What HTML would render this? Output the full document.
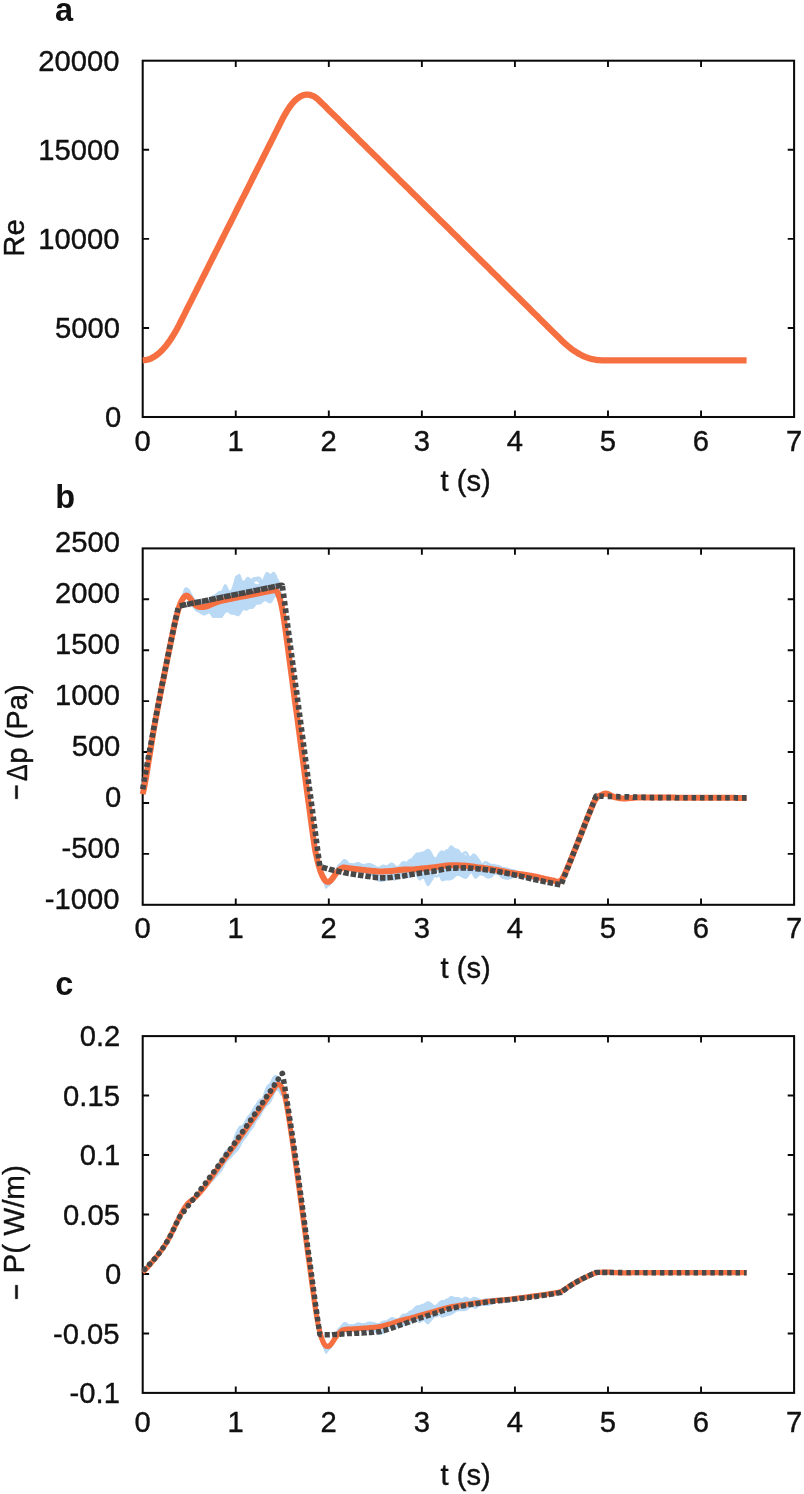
<!DOCTYPE html>
<html><head><meta charset="utf-8"><title>Figure</title>
<style>html,body{margin:0;padding:0;background:#fff}svg{display:block;will-change:transform}text{font-family:"Liberation Sans",sans-serif}</style></head>
<body>
<svg width="804" height="1494" viewBox="0 0 804 1494">
<rect width="804" height="1494" fill="#fff"/>
<g font-family="'Liberation Sans', sans-serif" font-size="29.2" fill="#111" stroke="#111" stroke-width="0.38" stroke-linejoin="round">
<path d="M235.76 417.00v-6.4M235.76 60.70v6.4M328.81 417.00v-6.4M328.81 60.70v6.4M421.87 417.00v-6.4M421.87 60.70v6.4M514.93 417.00v-6.4M514.93 60.70v6.4M607.99 417.00v-6.4M607.99 60.70v6.4M701.04 417.00v-6.4M701.04 60.70v6.4M142.70 327.93h6.4M794.10 327.93h-6.4M142.70 238.85h6.4M794.10 238.85h-6.4M142.70 149.77h6.4M794.10 149.77h-6.4" stroke="#0a0a0a" stroke-width="1.9" fill="none"/>
<rect x="142.70" y="60.70" width="651.40" height="356.30" fill="none" stroke="#0a0a0a" stroke-width="2.05" stroke-linejoin="miter"/>
<text transform="translate(121.20 427.10) scale(1 1.022)" text-anchor="end">0</text>
<text transform="translate(119.94 338.03) scale(1 1.022)" text-anchor="end">5000</text>
<text transform="translate(119.52 248.95) scale(1 1.022)" text-anchor="end">10000</text>
<text transform="translate(119.52 159.87) scale(1 1.022)" text-anchor="end">15000</text>
<text transform="translate(119.52 70.80) scale(1 1.022)" text-anchor="end">20000</text>
<text transform="translate(142.60 450.60) scale(1 1.022)" text-anchor="middle">0</text>
<text transform="translate(235.66 450.60) scale(1 1.022)" text-anchor="middle">1</text>
<text transform="translate(328.71 450.60) scale(1 1.022)" text-anchor="middle">2</text>
<text transform="translate(421.77 450.60) scale(1 1.022)" text-anchor="middle">3</text>
<text transform="translate(514.83 450.60) scale(1 1.022)" text-anchor="middle">4</text>
<text transform="translate(607.89 450.60) scale(1 1.022)" text-anchor="middle">5</text>
<text transform="translate(700.94 450.60) scale(1 1.022)" text-anchor="middle">6</text>
<text transform="translate(794.00 450.60) scale(1 1.022)" text-anchor="middle">7</text>
<text transform="translate(465.60 490.50) scale(1 1.0)" text-anchor="middle">t (s)</text>
<text transform="translate(24.20 238.00) rotate(-90) scale(1 1.02)" text-anchor="middle">Re</text>
<path d="M142.7 360.3 L144.5 360.2 L146.3 359.9 L148.1 359.5 L150.0 358.9 L151.8 358.1 L153.6 357.1 L155.4 355.9 L157.2 354.6 L159.0 353.1 L160.8 351.5 L162.6 349.6 L164.5 347.6 L166.3 345.4 L168.1 343.0 L169.9 340.5 L171.7 337.7 L173.5 334.8 L175.3 331.8 L177.2 328.5 L179.0 325.1 L180.8 321.5 L182.6 317.9 L184.4 314.3 L186.2 310.7 L188.0 307.0 L189.9 303.4 L191.7 299.8 L193.5 296.2 L195.3 292.6 L197.1 289.0 L198.9 285.4 L200.7 281.8 L202.5 278.2 L204.4 274.5 L206.2 270.9 L208.0 267.3 L209.8 263.7 L211.6 260.1 L213.4 256.5 L215.2 252.9 L217.1 249.3 L218.9 245.7 L220.7 242.0 L222.5 238.4 L224.3 234.8 L226.1 231.2 L227.9 227.6 L229.8 224.0 L231.6 220.4 L233.4 216.8 L235.2 213.2 L237.0 209.5 L238.8 205.9 L240.6 202.3 L242.4 198.7 L244.3 195.1 L246.1 191.5 L247.9 187.9 L249.7 184.3 L251.5 180.7 L253.3 177.0 L255.1 173.4 L257.0 169.8 L258.8 166.2 L260.6 162.6 L262.4 159.0 L264.2 155.4 L266.0 151.8 L267.8 148.2 L269.7 144.5 L271.5 140.9 L273.3 137.3 L275.1 133.7 L276.9 130.1 L278.7 126.5 L280.5 122.9 L282.3 119.3 L284.2 115.8 L286.0 112.6 L287.8 109.7 L289.6 107.0 L291.4 104.6 L293.2 102.4 L295.0 100.5 L296.9 98.9 L298.7 97.5 L300.5 96.4 L302.3 95.6 L304.1 95.0 L305.9 94.7 L307.7 94.7 L309.6 94.9 L311.4 95.4 L313.2 96.1 L315.0 97.1 L316.8 98.4 L318.6 99.9 L320.4 101.7 L322.2 103.5 L324.1 105.3 L325.9 107.1 L327.7 108.9 L329.5 110.7 L331.3 112.5 L333.1 114.2 L334.9 116.0 L336.8 117.8 L338.6 119.6 L340.4 121.4 L342.2 123.2 L344.0 125.0 L345.8 126.8 L347.6 128.6 L349.5 130.4 L351.3 132.2 L353.1 134.0 L354.9 135.8 L356.7 137.6 L358.5 139.4 L360.3 141.2 L362.1 143.0 L364.0 144.8 L365.8 146.6 L367.6 148.4 L369.4 150.2 L371.2 151.9 L373.0 153.7 L374.8 155.5 L376.7 157.3 L378.5 159.1 L380.3 160.9 L382.1 162.7 L383.9 164.5 L385.7 166.3 L387.5 168.1 L389.4 169.9 L391.2 171.7 L393.0 173.5 L394.8 175.3 L396.6 177.1 L398.4 178.9 L400.2 180.7 L402.0 182.5 L403.9 184.3 L405.7 186.1 L407.5 187.8 L409.3 189.6 L411.1 191.4 L412.9 193.2 L414.7 195.0 L416.6 196.8 L418.4 198.6 L420.2 200.4 L422.0 202.2 L423.8 204.0 L425.6 205.8 L427.4 207.6 L429.3 209.4 L431.1 211.2 L432.9 213.0 L434.7 214.8 L436.5 216.6 L438.3 218.4 L440.1 220.2 L441.9 222.0 L443.8 223.7 L445.6 225.5 L447.4 227.3 L449.2 229.1 L451.0 230.9 L452.8 232.7 L454.6 234.5 L456.5 236.3 L458.3 238.1 L460.1 239.9 L461.9 241.7 L463.7 243.5 L465.5 245.3 L467.3 247.1 L469.2 248.9 L471.0 250.7 L472.8 252.5 L474.6 254.3 L476.4 256.1 L478.2 257.9 L480.0 259.6 L481.8 261.4 L483.7 263.2 L485.5 265.0 L487.3 266.8 L489.1 268.6 L490.9 270.4 L492.7 272.2 L494.5 274.0 L496.4 275.8 L498.2 277.6 L500.0 279.4 L501.8 281.2 L503.6 283.0 L505.4 284.8 L507.2 286.6 L509.1 288.4 L510.9 290.2 L512.7 292.0 L514.5 293.8 L516.3 295.5 L518.1 297.3 L519.9 299.1 L521.7 300.9 L523.6 302.7 L525.4 304.5 L527.2 306.3 L529.0 308.1 L530.8 309.9 L532.6 311.7 L534.4 313.5 L536.3 315.3 L538.1 317.1 L539.9 318.9 L541.7 320.7 L543.5 322.5 L545.3 324.3 L547.1 326.1 L549.0 327.9 L550.8 329.7 L552.6 331.5 L554.4 333.2 L556.2 335.0 L558.0 336.8 L559.8 338.6 L561.6 340.4 L563.5 342.2 L565.3 343.8 L567.1 345.4 L568.9 346.9 L570.7 348.4 L572.5 349.7 L574.3 351.0 L576.2 352.1 L578.0 353.2 L579.8 354.3 L581.6 355.2 L583.4 356.1 L585.2 356.9 L587.0 357.6 L588.9 358.2 L590.7 358.7 L592.5 359.2 L594.3 359.5 L596.1 359.8 L597.9 360.1 L599.7 360.2 L601.5 360.3 L603.4 360.3 L605.2 360.3 L607.0 360.3 L608.8 360.3 L610.6 360.3 L612.4 360.3 L614.2 360.3 L616.1 360.3 L617.9 360.3 L619.7 360.3 L621.5 360.3 L623.3 360.3 L625.1 360.3 L626.9 360.3 L628.8 360.3 L630.6 360.3 L632.4 360.3 L634.2 360.3 L636.0 360.3 L637.8 360.3 L639.6 360.3 L641.4 360.3 L643.3 360.3 L645.1 360.3 L646.9 360.3 L648.7 360.3 L650.5 360.3 L652.3 360.3 L654.1 360.3 L656.0 360.3 L657.8 360.3 L659.6 360.3 L661.4 360.3 L663.2 360.3 L665.0 360.3 L666.8 360.3 L668.7 360.3 L670.5 360.3 L672.3 360.3 L674.1 360.3 L675.9 360.3 L677.7 360.3 L679.5 360.3 L681.3 360.3 L683.2 360.3 L685.0 360.3 L686.8 360.3 L688.6 360.3 L690.4 360.3 L692.2 360.3 L694.0 360.3 L695.9 360.3 L697.7 360.3 L699.5 360.3 L701.3 360.3 L703.1 360.3 L704.9 360.3 L706.7 360.3 L708.6 360.3 L710.4 360.3 L712.2 360.3 L714.0 360.3 L715.8 360.3 L717.6 360.3 L719.4 360.3 L721.2 360.3 L723.1 360.3 L724.9 360.3 L726.7 360.3 L728.5 360.3 L730.3 360.3 L732.1 360.3 L733.9 360.3 L735.8 360.3 L737.6 360.3 L739.4 360.3 L741.2 360.3 L743.0 360.3 L744.8 360.3 L746.6 360.3" fill="none" stroke="#F56F41" stroke-width="6.3" stroke-linejoin="round" stroke-linecap="butt"/>
<path d="M235.76 904.80v-6.4M235.76 548.40v6.4M328.81 904.80v-6.4M328.81 548.40v6.4M421.87 904.80v-6.4M421.87 548.40v6.4M514.93 904.80v-6.4M514.93 548.40v6.4M607.99 904.80v-6.4M607.99 548.40v6.4M701.04 904.80v-6.4M701.04 548.40v6.4M142.70 853.89h6.4M794.10 853.89h-6.4M142.70 802.97h6.4M794.10 802.97h-6.4M142.70 752.06h6.4M794.10 752.06h-6.4M142.70 701.14h6.4M794.10 701.14h-6.4M142.70 650.23h6.4M794.10 650.23h-6.4M142.70 599.31h6.4M794.10 599.31h-6.4" stroke="#0a0a0a" stroke-width="1.9" fill="none"/>
<rect x="142.70" y="548.40" width="651.40" height="356.40" fill="none" stroke="#0a0a0a" stroke-width="2.05" stroke-linejoin="miter"/>
<text transform="translate(119.52 908.85) scale(1 1.022)" text-anchor="end">-1000</text>
<text transform="translate(119.94 857.94) scale(1 1.022)" text-anchor="end">-500</text>
<text transform="translate(121.20 807.02) scale(1 1.022)" text-anchor="end">0</text>
<text transform="translate(120.36 756.11) scale(1 1.022)" text-anchor="end">500</text>
<text transform="translate(119.94 705.19) scale(1 1.022)" text-anchor="end">1000</text>
<text transform="translate(119.94 654.28) scale(1 1.022)" text-anchor="end">1500</text>
<text transform="translate(119.94 603.36) scale(1 1.022)" text-anchor="end">2000</text>
<text transform="translate(119.94 552.45) scale(1 1.022)" text-anchor="end">2500</text>
<text transform="translate(142.60 938.40) scale(1 1.022)" text-anchor="middle">0</text>
<text transform="translate(235.66 938.40) scale(1 1.022)" text-anchor="middle">1</text>
<text transform="translate(328.71 938.40) scale(1 1.022)" text-anchor="middle">2</text>
<text transform="translate(421.77 938.40) scale(1 1.022)" text-anchor="middle">3</text>
<text transform="translate(514.83 938.40) scale(1 1.022)" text-anchor="middle">4</text>
<text transform="translate(607.89 938.40) scale(1 1.022)" text-anchor="middle">5</text>
<text transform="translate(700.94 938.40) scale(1 1.022)" text-anchor="middle">6</text>
<text transform="translate(794.00 938.40) scale(1 1.022)" text-anchor="middle">7</text>
<text transform="translate(465.60 977.50) scale(1 1.0)" text-anchor="middle">t (s)</text>
<rect x="15.3" y="785.6" width="2.4" height="13.2" fill="#111"/>
<text transform="translate(26.50 684.20) rotate(-90) scale(1 1.02)" text-anchor="end">p (Pa)</text>
<text transform="translate(26.50 781.10) rotate(-90) scale(0.856 1.02)" text-anchor="start">Δ</text>
<path d="M179.6 605.6 L180.2 603.7 L180.8 601.5 L181.4 599.4 L182.0 597.3 L182.6 595.3 L183.2 593.2 L183.8 591.2 L184.4 589.1 L185.0 588.3 L185.6 588.0 L186.2 587.9 L186.8 588.0 L187.4 588.2 L188.0 588.6 L188.6 589.2 L189.2 589.8 L189.9 591.0 L190.5 592.2 L191.1 593.5 L191.7 594.7 L192.3 595.8 L192.9 596.8 L193.5 597.7 L194.1 598.4 L194.7 598.9 L195.3 599.3 L195.9 599.5 L196.5 599.7 L197.1 599.8 L197.7 599.9 L198.3 600.1 L198.9 600.3 L199.5 600.5 L200.1 600.8 L200.7 601.1 L201.3 601.4 L201.9 601.6 L202.5 601.9 L203.2 602.1 L203.8 602.2 L204.4 602.2 L205.0 602.2 L205.6 602.0 L206.2 601.6 L206.8 601.2 L207.4 600.6 L208.0 599.9 L208.6 599.1 L209.2 598.4 L209.8 597.7 L210.4 597.2 L211.0 596.8 L211.6 596.4 L212.2 596.2 L212.8 595.9 L213.4 595.6 L214.0 595.2 L214.6 595.0 L215.2 594.6 L215.8 594.2 L216.5 593.8 L217.1 593.2 L217.7 592.7 L218.3 592.3 L218.9 592.0 L219.5 591.9 L220.1 591.9 L220.7 591.7 L221.3 591.3 L221.9 590.6 L222.5 589.5 L223.1 588.2 L223.7 586.8 L224.3 585.7 L224.9 584.9 L225.5 584.8 L226.1 585.2 L226.7 586.3 L227.3 587.6 L227.9 588.9 L228.5 590.0 L229.1 590.8 L229.8 591.1 L230.4 591.0 L231.0 590.5 L231.6 589.5 L232.2 588.3 L232.8 586.7 L233.4 584.8 L234.0 582.8 L234.6 580.6 L235.2 578.4 L235.8 576.5 L236.4 576.1 L237.0 575.8 L237.6 575.4 L238.2 575.1 L238.8 574.7 L239.4 574.4 L240.0 575.2 L240.6 576.8 L241.2 578.4 L241.8 579.9 L242.4 581.1 L243.1 581.8 L243.7 582.0 L244.3 581.7 L244.9 580.9 L245.5 579.9 L246.1 578.8 L246.7 578.0 L247.3 577.5 L247.9 577.4 L248.5 577.5 L249.1 577.9 L249.7 578.4 L250.3 578.9 L250.9 579.5 L251.5 580.1 L252.1 580.8 L252.7 581.5 L253.3 582.3 L253.9 583.1 L254.5 583.8 L255.1 584.3 L255.7 584.7 L256.4 584.9 L257.0 584.9 L257.6 584.8 L258.2 584.6 L258.8 584.4 L259.4 584.1 L260.0 583.8 L260.6 583.3 L261.2 582.8 L261.8 582.1 L262.4 581.1 L263.0 579.9 L263.6 578.5 L264.2 577.1 L264.8 575.6 L265.4 574.3 L266.0 573.3 L266.6 572.6 L267.2 572.5 L267.8 572.7 L268.4 573.1 L269.0 573.7 L269.7 574.2 L270.3 574.5 L270.9 574.4 L271.5 573.9 L272.1 573.3 L272.7 572.7 L273.3 572.4 L273.9 572.6 L274.5 573.6 L275.1 575.3 L275.7 577.8 L276.3 580.6 L276.9 583.6 L277.5 586.6 L278.1 588.6 L278.7 590.4 L279.3 592.4 L279.9 593.8 L280.5 594.6 L281.1 595.7 L281.7 600.9 L282.3 609.6 L282.3 609.6 L281.7 610.2 L281.1 610.2 L280.5 608.0 L279.9 605.7 L279.3 603.4 L278.7 601.2 L278.1 599.0 L277.5 597.2 L276.9 595.7 L276.3 594.9 L275.7 594.9 L275.1 595.4 L274.5 596.5 L273.9 597.7 L273.3 599.1 L272.7 600.3 L272.1 601.3 L271.5 602.0 L270.9 602.5 L270.3 602.8 L269.7 602.8 L269.0 602.7 L268.4 602.3 L267.8 601.9 L267.2 601.5 L266.6 601.1 L266.0 600.8 L265.4 600.7 L264.8 600.6 L264.2 600.8 L263.6 601.1 L263.0 601.5 L262.4 602.0 L261.8 602.6 L261.2 603.2 L260.6 603.6 L260.0 603.9 L259.4 603.9 L258.8 603.8 L258.2 603.6 L257.6 603.6 L257.0 603.7 L256.4 604.2 L255.7 604.9 L255.1 605.7 L254.5 606.6 L253.9 607.3 L253.3 607.9 L252.7 608.3 L252.1 608.4 L251.5 608.5 L250.9 608.4 L250.3 608.4 L249.7 608.5 L249.1 608.7 L248.5 609.1 L247.9 609.5 L247.3 609.8 L246.7 610.1 L246.1 610.1 L245.5 610.0 L244.9 609.8 L244.3 609.6 L243.7 609.6 L243.1 609.8 L242.4 610.3 L241.8 611.1 L241.2 612.1 L240.6 613.1 L240.0 614.1 L239.4 614.9 L238.8 615.4 L238.2 615.6 L237.6 615.6 L237.0 615.4 L236.4 615.2 L235.8 614.9 L235.2 614.6 L234.6 614.3 L234.0 614.2 L233.4 614.1 L232.8 614.1 L232.2 614.1 L231.6 614.1 L231.0 613.9 L230.4 613.7 L229.8 613.2 L229.1 612.7 L228.5 612.1 L227.9 611.7 L227.3 611.5 L226.7 611.6 L226.1 611.9 L225.5 612.3 L224.9 613.0 L224.3 613.7 L223.7 614.6 L223.1 615.5 L222.5 616.4 L221.9 617.3 L221.3 617.5 L220.7 617.5 L220.1 617.4 L219.5 617.3 L218.9 617.3 L218.3 617.3 L217.7 617.2 L217.1 617.2 L216.5 617.2 L215.8 617.2 L215.2 617.2 L214.6 617.3 L214.0 617.3 L213.4 617.4 L212.8 617.4 L212.2 616.5 L211.6 615.5 L211.0 614.5 L210.4 613.8 L209.8 613.3 L209.2 613.0 L208.6 613.0 L208.0 613.1 L207.4 613.4 L206.8 613.8 L206.2 614.2 L205.6 614.5 L205.0 614.8 L204.4 614.9 L203.8 614.9 L203.2 614.8 L202.5 614.5 L201.9 614.1 L201.3 613.7 L200.7 613.2 L200.1 612.7 L199.5 612.4 L198.9 612.1 L198.3 611.8 L197.7 611.6 L197.1 611.4 L196.5 611.1 L195.9 610.6 L195.3 610.0 L194.7 609.3 L194.1 608.4 L193.5 607.3 L192.9 606.1 L192.3 605.0 L191.7 603.8 L191.1 602.7 L190.5 601.7 L189.9 600.6 L189.2 599.6 L188.6 598.7 L188.0 597.9 L187.4 597.2 L186.8 596.8 L186.2 596.5 L185.6 596.3 L185.0 596.4 L184.4 596.7 L183.8 597.4 L183.2 598.2 L182.6 599.1 L182.0 600.2 L181.4 601.3 L180.8 602.6 L180.2 604.0 L179.6 605.6ZM322.2 875.7 L322.9 877.0 L323.5 878.2 L324.1 879.1 L324.7 880.0 L325.3 880.7 L325.9 881.2 L326.5 881.6 L327.1 881.8 L327.7 881.9 L328.3 881.9 L328.9 881.7 L329.5 881.5 L330.1 881.1 L330.7 880.6 L331.3 879.9 L331.9 878.9 L332.5 877.5 L333.1 876.1 L333.7 874.7 L334.3 873.3 L334.9 871.9 L335.5 870.5 L336.2 869.1 L336.8 867.7 L337.4 866.4 L338.0 865.2 L338.6 864.6 L339.2 864.2 L339.8 863.7 L340.4 863.2 L341.0 862.6 L341.6 861.9 L342.2 861.1 L342.8 860.3 L343.4 859.9 L344.0 859.7 L344.6 859.7 L345.2 859.8 L345.8 860.1 L346.4 860.5 L347.0 861.0 L347.6 861.6 L348.2 862.4 L348.8 863.1 L349.5 863.9 L350.1 864.5 L350.7 864.9 L351.3 865.1 L351.9 865.1 L352.5 864.9 L353.1 864.5 L353.7 864.2 L354.3 863.8 L354.9 863.5 L355.5 863.2 L356.1 863.0 L356.7 862.7 L357.3 862.5 L357.9 862.5 L358.5 862.5 L359.1 862.7 L359.7 863.0 L360.3 863.4 L360.9 863.8 L361.5 864.0 L362.1 864.3 L362.8 864.4 L363.4 864.5 L364.0 864.5 L364.6 864.4 L365.2 864.3 L365.8 864.2 L366.4 864.0 L367.0 863.9 L367.6 863.8 L368.2 863.7 L368.8 863.7 L369.4 863.7 L370.0 863.7 L370.6 863.8 L371.2 864.0 L371.8 864.2 L372.4 864.6 L373.0 865.0 L373.6 865.4 L374.2 865.8 L374.8 866.2 L375.4 866.6 L376.1 866.9 L376.7 867.1 L377.3 867.3 L377.9 867.3 L378.5 867.3 L379.1 867.2 L379.7 866.9 L380.3 866.6 L380.9 866.2 L381.5 865.8 L382.1 865.4 L382.7 865.2 L383.3 865.1 L383.9 865.2 L384.5 865.4 L385.1 865.6 L385.7 865.8 L386.3 865.9 L386.9 865.9 L387.5 865.6 L388.1 865.2 L388.7 864.7 L389.4 864.2 L390.0 863.7 L390.6 863.2 L391.2 863.0 L391.8 863.0 L392.4 863.2 L393.0 863.5 L393.6 864.0 L394.2 864.6 L394.8 865.2 L395.4 865.7 L396.0 866.2 L396.6 866.5 L397.2 866.7 L397.8 866.7 L398.4 866.4 L399.0 865.9 L399.6 865.2 L400.2 864.4 L400.8 863.6 L401.4 862.8 L402.0 862.2 L402.7 861.7 L403.3 861.5 L403.9 861.5 L404.5 861.7 L405.1 861.9 L405.7 862.1 L406.3 862.4 L406.9 862.6 L407.5 862.8 L408.1 862.8 L408.7 862.6 L409.3 862.2 L409.9 861.7 L410.5 860.9 L411.1 860.0 L411.7 859.1 L412.3 858.2 L412.9 857.3 L413.5 856.4 L414.1 855.7 L414.7 854.9 L415.3 854.3 L416.0 853.7 L416.6 853.2 L417.2 853.0 L417.8 852.9 L418.4 852.9 L419.0 853.0 L419.6 853.0 L420.2 852.9 L420.8 852.7 L421.4 852.3 L422.0 852.1 L422.6 852.0 L423.2 851.9 L423.8 851.7 L424.4 851.4 L425.0 851.0 L425.6 850.6 L426.2 850.1 L426.8 849.7 L427.4 849.4 L428.0 849.3 L428.6 849.5 L429.3 849.9 L429.9 850.5 L430.5 851.4 L431.1 852.4 L431.7 853.4 L432.3 854.5 L432.9 855.6 L433.5 856.6 L434.1 857.4 L434.7 857.8 L435.3 858.0 L435.9 857.7 L436.5 857.1 L437.1 856.3 L437.7 855.3 L438.3 854.3 L438.9 853.4 L439.5 852.5 L440.1 851.8 L440.7 851.3 L441.3 851.0 L441.9 851.0 L442.6 851.1 L443.2 851.4 L443.8 851.8 L444.4 852.3 L445.0 852.8 L445.6 853.0 L446.2 852.8 L446.8 852.3 L447.4 851.3 L448.0 850.2 L448.6 848.9 L449.2 847.7 L449.8 846.8 L450.4 846.2 L451.0 845.9 L451.6 846.0 L452.2 846.3 L452.8 846.8 L453.4 847.4 L454.0 848.0 L454.6 848.5 L455.2 848.9 L455.9 849.1 L456.5 849.1 L457.1 849.2 L457.7 849.3 L458.3 849.6 L458.9 850.1 L459.5 850.9 L460.1 851.8 L460.7 852.7 L461.3 853.4 L461.9 854.0 L462.5 854.4 L463.1 854.8 L463.7 855.1 L464.3 855.5 L464.9 855.7 L465.5 855.9 L466.1 856.0 L466.7 856.0 L467.3 856.1 L467.9 856.2 L468.5 856.4 L469.2 856.7 L469.8 856.9 L470.4 856.7 L471.0 856.3 L471.6 855.8 L472.2 855.1 L472.8 854.5 L473.4 854.1 L474.0 854.1 L474.6 854.2 L475.2 854.7 L475.8 855.2 L476.4 855.9 L477.0 856.6 L477.6 857.4 L478.2 858.1 L478.8 859.0 L479.4 859.8 L480.0 860.8 L480.6 861.9 L481.2 863.1 L481.8 864.2 L482.5 865.2 L483.1 865.9 L483.7 866.0 L484.3 866.2 L484.9 866.3 L485.5 865.8 L486.1 865.2 L486.7 864.5 L487.3 863.8 L487.9 863.4 L488.5 863.2 L489.1 863.3 L489.7 863.6 L490.3 864.0 L490.9 864.3 L491.5 864.7 L492.1 864.9 L492.7 865.1 L493.3 865.2 L493.9 865.4 L494.5 865.7 L495.1 866.0 L495.8 866.4 L496.4 867.0 L497.0 867.5 L497.6 868.0 L498.2 868.4 L498.8 868.7 L499.4 868.8 L500.0 868.8 L500.6 868.6 L501.2 868.3 L501.8 868.0 L502.4 867.8 L503.0 867.6 L503.6 867.5 L504.2 867.5 L504.8 867.6 L505.4 867.7 L506.0 867.9 L506.6 868.0 L507.2 868.1 L507.8 868.3 L508.4 868.5 L509.1 868.8 L509.7 869.0 L510.3 869.2 L510.9 869.3 L511.5 869.4 L512.1 869.5 L512.7 869.6 L513.3 869.7 L513.9 869.8 L514.5 869.9 L515.1 870.2 L515.7 870.6 L516.3 871.0 L516.9 871.3 L517.5 871.6 L518.1 871.8 L518.7 872.0 L519.3 872.1 L519.9 872.1 L520.5 872.2 L521.1 872.2 L521.7 872.3 L522.4 872.3 L523.0 872.4 L523.6 872.4 L524.2 872.5 L524.8 872.6 L525.4 872.7 L526.0 872.8 L526.6 872.9 L527.2 872.9 L527.8 873.0 L528.4 873.1 L529.0 873.1 L529.6 873.2 L530.2 873.3 L530.8 873.4 L531.4 873.6 L532.0 873.8 L532.6 874.0 L533.2 874.3 L533.8 874.5 L534.4 874.8 L535.0 875.0 L535.7 875.2 L536.3 875.4 L536.9 875.6 L537.5 875.9 L538.1 876.1 L538.7 876.4 L539.3 876.6 L539.9 876.8 L540.5 876.9 L541.1 877.0 L541.7 877.1 L542.3 877.2 L542.9 877.3 L543.5 877.4 L544.1 877.6 L544.7 877.8 L545.3 878.0 L545.9 878.2 L546.5 878.4 L547.1 878.6 L547.7 878.8 L548.3 879.0 L549.0 879.2 L549.6 879.4 L550.2 879.6 L550.8 879.7 L551.4 879.8 L552.0 879.9 L552.6 880.0 L553.2 880.1 L553.8 880.2 L554.4 880.4 L555.0 880.6 L555.6 880.8 L556.2 881.0 L556.8 881.2 L557.4 881.4 L558.0 881.5 L558.6 881.5 L559.2 881.4 L559.8 881.2 L560.4 880.8 L561.0 880.4 L561.6 879.7 L561.6 879.7 L561.0 880.4 L560.4 881.1 L559.8 881.5 L559.2 881.9 L558.6 882.1 L558.0 882.2 L557.4 882.2 L556.8 882.2 L556.2 882.1 L555.6 882.0 L555.0 881.9 L554.4 881.7 L553.8 881.6 L553.2 881.6 L552.6 881.5 L552.0 881.5 L551.4 881.4 L550.8 881.3 L550.2 881.3 L549.6 881.2 L549.0 881.1 L548.3 881.0 L547.7 881.0 L547.1 880.9 L546.5 880.8 L545.9 880.8 L545.3 880.7 L544.7 880.6 L544.1 880.4 L543.5 880.2 L542.9 879.9 L542.3 879.6 L541.7 879.3 L541.1 879.0 L540.5 878.6 L539.9 878.3 L539.3 878.0 L538.7 877.9 L538.1 877.7 L537.5 877.6 L536.9 877.5 L536.3 877.6 L535.7 877.7 L535.0 877.9 L534.4 878.2 L533.8 878.5 L533.2 878.8 L532.6 879.1 L532.0 879.3 L531.4 879.3 L530.8 879.3 L530.2 879.3 L529.6 879.3 L529.0 879.2 L528.4 879.1 L527.8 878.9 L527.2 878.8 L526.6 878.7 L526.0 878.6 L525.4 878.5 L524.8 878.5 L524.2 878.5 L523.6 878.5 L523.0 878.5 L522.4 878.4 L521.7 878.2 L521.1 878.0 L520.5 877.7 L519.9 877.3 L519.3 877.1 L518.7 876.8 L518.1 876.7 L517.5 876.7 L516.9 876.8 L516.3 877.0 L515.7 877.1 L515.1 877.2 L514.5 877.3 L513.9 877.4 L513.3 877.5 L512.7 877.7 L512.1 877.9 L511.5 878.1 L510.9 878.4 L510.3 878.6 L509.7 878.8 L509.1 879.0 L508.4 879.1 L507.8 879.2 L507.2 879.2 L506.6 879.2 L506.0 879.1 L505.4 879.0 L504.8 878.9 L504.2 878.7 L503.6 878.5 L503.0 878.3 L502.4 878.1 L501.8 877.8 L501.2 877.3 L500.6 876.8 L500.0 876.1 L499.4 875.4 L498.8 874.6 L498.2 873.9 L497.6 873.4 L497.0 873.0 L496.4 872.9 L495.8 873.0 L495.1 873.4 L494.5 874.0 L493.9 874.7 L493.3 875.4 L492.7 876.1 L492.1 876.7 L491.5 877.1 L490.9 877.4 L490.3 877.6 L489.7 877.8 L489.1 877.9 L488.5 878.0 L487.9 878.0 L487.3 877.9 L486.7 877.7 L486.1 877.4 L485.5 876.9 L484.9 876.4 L484.3 875.9 L483.7 875.5 L483.1 875.2 L482.5 875.1 L481.8 874.9 L481.2 874.8 L480.6 874.8 L480.0 874.8 L479.4 875.0 L478.8 875.4 L478.2 876.0 L477.6 876.7 L477.0 877.3 L476.4 877.9 L475.8 878.2 L475.2 878.1 L474.6 877.6 L474.0 876.7 L473.4 875.6 L472.8 874.5 L472.2 873.6 L471.6 872.9 L471.0 872.7 L470.4 873.0 L469.8 873.6 L469.2 874.6 L468.5 875.6 L467.9 876.6 L467.3 877.4 L466.7 877.9 L466.1 878.2 L465.5 878.3 L464.9 878.2 L464.3 877.9 L463.7 877.7 L463.1 877.4 L462.5 877.1 L461.9 876.8 L461.3 876.6 L460.7 876.3 L460.1 876.0 L459.5 875.8 L458.9 875.5 L458.3 875.3 L457.7 875.2 L457.1 875.2 L456.5 875.4 L455.9 875.8 L455.2 876.4 L454.6 877.1 L454.0 877.7 L453.4 878.3 L452.8 878.7 L452.2 879.0 L451.6 879.3 L451.0 879.5 L450.4 879.7 L449.8 879.8 L449.2 880.0 L448.6 880.0 L448.0 880.0 L447.4 880.0 L446.8 879.9 L446.2 879.9 L445.6 879.9 L445.0 880.0 L444.4 880.2 L443.8 880.5 L443.2 880.7 L442.6 880.8 L441.9 880.6 L441.3 879.9 L440.7 878.8 L440.1 877.2 L439.5 875.3 L438.9 873.4 L438.3 871.7 L437.7 870.7 L437.1 870.4 L436.5 870.8 L435.9 871.9 L435.3 873.4 L434.7 875.0 L434.1 876.5 L433.5 877.8 L432.9 878.9 L432.3 879.9 L431.7 880.7 L431.1 881.6 L430.5 882.6 L429.9 883.6 L429.3 884.5 L428.6 885.3 L428.0 885.6 L427.4 885.4 L426.8 884.6 L426.2 883.4 L425.6 881.9 L425.0 880.4 L424.4 879.1 L423.8 878.2 L423.2 877.9 L422.6 878.0 L422.0 878.5 L421.4 879.1 L420.8 879.6 L420.2 879.9 L419.6 879.9 L419.0 879.5 L418.4 878.7 L417.8 877.7 L417.2 876.4 L416.6 875.2 L416.0 874.0 L415.3 873.1 L414.7 872.4 L414.1 872.2 L413.5 872.4 L412.9 873.0 L412.3 874.0 L411.7 875.0 L411.1 876.0 L410.5 876.8 L409.9 877.4 L409.3 877.6 L408.7 877.5 L408.1 877.3 L407.5 877.2 L406.9 877.3 L406.3 877.5 L405.7 877.8 L405.1 878.1 L404.5 878.3 L403.9 878.3 L403.3 878.1 L402.7 877.7 L402.0 877.1 L401.4 876.4 L400.8 875.8 L400.2 875.2 L399.6 875.0 L399.0 875.0 L398.4 875.4 L397.8 876.1 L397.2 877.1 L396.6 878.1 L396.0 879.1 L395.4 879.8 L394.8 880.1 L394.2 880.1 L393.6 879.5 L393.0 878.6 L392.4 877.7 L391.8 876.8 L391.2 876.2 L390.6 876.0 L390.0 876.2 L389.4 876.7 L388.7 877.3 L388.1 878.1 L387.5 878.8 L386.9 879.5 L386.3 880.0 L385.7 880.4 L385.1 880.7 L384.5 880.8 L383.9 881.0 L383.3 881.1 L382.7 881.2 L382.1 881.3 L381.5 881.5 L380.9 881.6 L380.3 881.5 L379.7 881.3 L379.1 881.1 L378.5 880.9 L377.9 880.5 L377.3 879.9 L376.7 879.1 L376.1 878.3 L375.4 877.5 L374.8 876.8 L374.2 876.3 L373.6 875.8 L373.0 875.5 L372.4 875.4 L371.8 875.3 L371.2 875.2 L370.6 875.2 L370.0 875.2 L369.4 875.0 L368.8 874.8 L368.2 874.5 L367.6 874.2 L367.0 873.8 L366.4 873.3 L365.8 872.9 L365.2 872.5 L364.6 872.2 L364.0 872.0 L363.4 871.9 L362.8 871.9 L362.1 871.9 L361.5 871.9 L360.9 871.9 L360.3 871.9 L359.7 871.8 L359.1 871.8 L358.5 871.8 L357.9 871.8 L357.3 871.8 L356.7 871.8 L356.1 871.7 L355.5 871.5 L354.9 871.3 L354.3 871.0 L353.7 870.6 L353.1 870.3 L352.5 870.0 L351.9 869.8 L351.3 869.6 L350.7 869.5 L350.1 869.5 L349.5 869.4 L348.8 869.4 L348.2 869.5 L347.6 869.5 L347.0 869.5 L346.4 869.4 L345.8 869.3 L345.2 869.1 L344.6 868.9 L344.0 868.7 L343.4 868.5 L342.8 868.3 L342.2 868.5 L341.6 868.7 L341.0 869.0 L340.4 869.3 L339.8 869.6 L339.2 870.0 L338.6 870.5 L338.0 871.1 L337.4 872.0 L336.8 873.0 L336.2 874.0 L335.5 875.1 L334.9 876.1 L334.3 877.1 L333.7 878.0 L333.1 879.0 L332.5 879.9 L331.9 880.7 L331.3 881.6 L330.7 882.4 L330.1 883.3 L329.5 884.1 L328.9 885.0 L328.3 885.8 L327.7 886.6 L327.1 887.4 L326.5 888.0 L325.9 888.1 L325.3 886.4 L324.7 884.5 L324.1 882.5 L323.5 880.3 L322.9 878.0 L322.2 875.7Z" fill="#B9D9F5" stroke="#B9D9F5" stroke-width="1.2" stroke-linejoin="round"/>
<path d="M180.2 603.9 L180.8 602.2 L181.4 600.6 L182.0 599.1 L182.6 597.7 L183.2 596.5 L183.8 595.3 L184.4 594.3 L185.0 593.7 L185.6 593.5 L186.2 593.5 L186.8 593.7 L187.4 594.0 L188.0 594.6 L188.6 595.4 L189.2 596.4 L189.9 597.5 L190.5 598.6 L191.1 599.8 L191.7 600.9 L192.3 602.0 L192.9 602.9 L193.5 603.8 L194.1 604.5 L194.7 605.1 L195.3 605.7 L195.9 606.2 L196.5 606.8 L197.1 607.3 L197.7 607.8 L198.3 608.2 L198.9 608.5 L199.5 608.7 L200.1 608.7 L200.7 608.6 L201.3 608.4 L201.9 608.1 L202.5 607.7 L203.2 607.2 L203.8 606.6 L204.4 606.0 L205.0 605.4 L205.6 604.9 L206.2 604.4 L206.8 604.1 L207.4 603.9 L208.0 603.9 L208.6 604.0 L209.2 604.3 L209.8 604.6 L210.4 604.9 L211.0 605.3 L211.6 605.5 L212.2 605.7 L212.8 605.7 L213.4 605.6 L214.0 605.5 L214.6 605.3 L215.2 605.3 L215.8 605.2 L216.5 605.3 L217.1 605.3 L217.7 605.4 L218.3 605.5 L218.9 605.4 L219.5 605.2 L220.1 604.9 L220.7 604.2 L221.3 603.3 L221.9 602.2 L222.5 600.8 L223.1 599.3 L223.7 597.6 L224.3 595.9 L224.9 594.4 L225.5 593.0 L226.1 592.0 L226.7 591.3 L227.3 591.2 L227.9 591.3 L228.5 591.8 L229.1 592.6 L229.8 593.4 L230.4 594.2 L231.0 595.0 L231.6 595.5 L232.2 595.8 L232.8 595.8 L233.4 595.5 L234.0 595.0 L234.6 594.2 L235.2 593.1 L235.8 591.7 L236.4 590.2 L237.0 588.6 L237.6 586.9 L238.2 585.3 L238.8 584.0 L239.4 583.0 L240.0 582.2 L240.6 581.8 L241.2 581.7 L241.8 581.7 L242.4 581.8 L243.1 581.8 L243.7 581.8 L244.3 581.8 L244.9 581.7 L245.5 581.6 L246.1 581.5 L246.7 581.5 L247.3 581.6 L247.9 581.7 L248.5 581.8 L249.1 582.0 L249.7 582.2 L250.3 582.4 L250.9 582.5 L251.5 582.4 L252.1 582.3 L252.7 582.0 L253.3 581.6 L253.9 581.2 L254.5 580.7 L255.1 580.3 L255.7 580.1 L256.4 579.9 L257.0 580.0 L257.6 580.2 L258.2 580.6 L258.8 581.0 L259.4 581.6 L260.0 582.2 L260.6 582.9 L261.2 583.7 L261.8 584.7 L262.4 585.8 L263.0 587.0 L263.6 588.3 L264.2 589.5 L264.8 590.5 L265.4 591.4 L266.0 592.0 L266.6 592.3 L267.2 592.4 L267.8 592.3 L268.4 592.1 L269.0 591.8 L269.7 591.6 L270.3 591.3 L270.9 591.0 L271.5 590.6 L272.1 590.0 L272.7 589.3 L273.3 588.4 L273.9 587.5 L274.5 586.6 L275.1 586.0 L275.7 585.5 L276.3 585.4 L276.9 585.7 L277.5 586.3 L278.1 587.6 L278.7 589.2 L279.3 591.1 L279.9 593.3 L280.5 595.6 L281.1 598.2 L281.7 603.1M322.9 877.1 L323.5 878.4 L324.1 879.6 L324.7 880.7 L325.3 881.6 L325.9 882.5 L326.5 883.0 L327.1 883.2 L327.7 883.3 L328.3 883.3 L328.9 883.2 L329.5 882.9 L330.1 882.6 L330.7 882.0 L331.3 881.3 L331.9 880.4 L332.5 879.3 L333.1 878.1 L333.7 876.8 L334.3 875.5 L334.9 874.2 L335.5 872.9 L336.2 871.4 L336.8 870.1 L337.4 868.8 L338.0 867.7 L338.6 867.0 L339.2 866.6 L339.8 866.2 L340.4 866.0 L341.0 865.8 L341.6 865.6 L342.2 865.5 L342.8 865.4 L343.4 865.7 L344.0 866.0 L344.6 866.3 L345.2 866.6 L345.8 866.9 L346.4 867.2 L347.0 867.5 L347.6 867.9 L348.2 868.3 L348.8 868.7 L349.5 869.0 L350.1 869.4 L350.7 869.6 L351.3 869.8 L351.9 869.9 L352.5 869.8 L353.1 869.6 L353.7 869.3 L354.3 868.9 L354.9 868.4 L355.5 867.9 L356.1 867.4 L356.7 866.9 L357.3 866.5 L357.9 866.2 L358.5 866.0 L359.1 866.0 L359.7 866.0 L360.3 866.1 L360.9 866.4 L361.5 866.8 L362.1 867.2 L362.8 867.8 L363.4 868.3 L364.0 868.9 L364.6 869.5 L365.2 869.9 L365.8 870.4 L366.4 870.7 L367.0 870.9 L367.6 871.2 L368.2 871.4 L368.8 871.6 L369.4 871.9 L370.0 872.2 L370.6 872.6 L371.2 873.0 L371.8 873.4 L372.4 873.7 L373.0 874.0 L373.6 874.2 L374.2 874.3 L374.8 874.3 L375.4 874.2 L376.1 874.0 L376.7 873.9 L377.3 873.6 L377.9 873.4 L378.5 873.2 L379.1 873.1 L379.7 873.0 L380.3 872.9 L380.9 872.8 L381.5 872.7 L382.1 872.4 L382.7 872.0 L383.3 871.4 L383.9 870.7 L384.5 869.9 L385.1 869.0 L385.7 868.2 L386.3 867.4 L386.9 866.7 L387.5 866.2 L388.1 865.9 L388.7 865.7 L389.4 865.8 L390.0 866.1 L390.6 866.6 L391.2 867.4 L391.8 868.3 L392.4 869.3 L393.0 870.4 L393.6 871.5 L394.2 872.3 L394.8 873.0 L395.4 873.4 L396.0 873.5 L396.6 873.4 L397.2 873.1 L397.8 872.6 L398.4 871.9 L399.0 871.1 L399.6 870.3 L400.2 869.5 L400.8 868.6 L401.4 867.9 L402.0 867.2 L402.7 866.5 L403.3 865.9 L403.9 865.5 L404.5 865.0 L405.1 864.6 L405.7 864.1 L406.3 863.6 L406.9 863.1 L407.5 862.5 L408.1 861.8 L408.7 861.1 L409.3 860.5 L409.9 860.0 L410.5 859.7 L411.1 859.8 L411.7 860.1 L412.3 860.8 L412.9 861.9 L413.5 863.2 L414.1 864.8 L414.7 866.6 L415.3 868.5 L416.0 870.3 L416.6 872.0 L417.2 873.4 L417.8 874.6 L418.4 875.4 L419.0 875.8 L419.6 875.8 L420.2 875.4 L420.8 874.8 L421.4 873.8 L422.0 872.6 L422.6 871.3 L423.2 870.0 L423.8 868.7 L424.4 867.6 L425.0 866.7 L425.6 866.1 L426.2 865.8 L426.8 865.9 L427.4 866.3 L428.0 867.1 L428.6 868.2 L429.3 869.5 L429.9 871.0 L430.5 872.4 L431.1 873.6 L431.7 874.6 L432.3 875.3 L432.9 875.7 L433.5 875.6 L434.1 875.2 L434.7 874.5 L435.3 873.6 L435.9 872.4 L436.5 871.0 L437.1 869.5 L437.7 868.0 L438.3 866.4 L438.9 865.0 L439.5 863.6 L440.1 862.3 L440.7 861.1 L441.3 859.8 L441.9 858.5 L442.6 857.2 L443.2 855.8 L443.8 854.5 L444.4 853.3 L445.0 852.2 L445.6 851.3 L446.2 850.7 L446.8 850.3 L447.4 850.3 L448.0 850.6 L448.6 851.2 L449.2 852.1 L449.8 853.2 L450.4 854.4 L451.0 855.7 L451.6 856.9 L452.2 858.0 L452.8 858.9 L453.4 859.4 L454.0 859.7 L454.6 859.7 L455.2 859.4 L455.9 858.9 L456.5 858.3 L457.1 857.7 L457.7 857.2 L458.3 856.8 L458.9 856.5 L459.5 856.3 L460.1 856.1 L460.7 855.8 L461.3 855.5 L461.9 855.0 L462.5 854.4 L463.1 853.8 L463.7 853.2 L464.3 852.7 L464.9 852.4 L465.5 852.3 L466.1 852.5 L466.7 853.0 L467.3 853.9 L467.9 855.1 L468.5 856.5 L469.2 858.2 L469.8 859.9 L470.4 861.5 L471.0 862.9 L471.6 864.2 L472.2 865.2 L472.8 865.9 L473.4 866.5 L474.0 866.9 L474.6 867.1 L475.2 867.3 L475.8 867.5 L476.4 867.6 L477.0 867.8 L477.6 867.9 L478.2 868.0 L478.8 868.0 L479.4 868.0 L480.0 867.9 L480.6 867.8 L481.2 867.7 L481.8 867.6 L482.5 867.5 L483.1 867.4 L483.7 867.3 L484.3 867.3 L484.9 867.3 L485.5 867.4 L486.1 867.4 L486.7 867.5 L487.3 867.6 L487.9 867.7 L488.5 867.9 L489.1 868.1 L489.7 868.5 L490.3 868.8 L490.9 869.2 L491.5 869.7 L492.1 870.1 L492.7 870.4 L493.3 870.7 L493.9 870.8 L494.5 870.9 L495.1 870.9 L495.8 870.9 L496.4 870.8 L497.0 870.7 L497.6 870.6 L498.2 870.5 L498.8 870.4 L499.4 870.3 L500.0 870.2 L500.6 870.0 L501.2 870.0 L501.8 869.9 L502.4 869.8 L503.0 869.8 L503.6 869.9 L504.2 870.0 L504.8 870.1 L505.4 870.2 L506.0 870.4 L506.6 870.6 L507.2 870.9 L507.8 871.2 L508.4 871.5 L509.1 871.9 L509.7 872.2 L510.3 872.6 L510.9 872.9 L511.5 873.1 L512.1 873.4 L512.7 873.5 L513.3 873.7 L513.9 873.8 L514.5 873.9 L515.1 874.0 L515.7 874.0 L516.3 874.1 L516.9 874.1 L517.5 874.1 L518.1 874.2 L518.7 874.2 L519.3 874.2 L519.9 874.2 L520.5 874.2 L521.1 874.2 L521.7 874.3 L522.4 874.4 L523.0 874.5 L523.6 874.6 L524.2 874.7 L524.8 874.8 L525.4 875.0 L526.0 875.1 L526.6 875.2 L527.2 875.3 L527.8 875.4 L528.4 875.4 L529.0 875.4 L529.6 875.4 L530.2 875.3 L530.8 875.2 L531.4 875.2 L532.0 875.1 L532.6 875.1 L533.2 875.1 L533.8 875.2 L534.4 875.3 L535.0 875.5 L535.7 875.6 L536.3 875.7 L536.9 875.8 L537.5 875.9 L538.1 876.0 L538.7 876.1 L539.3 876.2 L539.9 876.2 L540.5 876.4 L541.1 876.5 L541.7 876.7 L542.3 876.9 L542.9 877.1 L543.5 877.3 L544.1 877.5 L544.7 877.7 L545.3 877.9 L545.9 878.0 L546.5 878.2 L547.1 878.4 L547.7 878.5 L548.3 878.7 L549.0 878.9 L549.6 879.1 L550.2 879.3 L550.8 879.5 L551.4 879.8 L552.0 880.0 L552.6 880.3 L553.2 880.5 L553.8 880.7 L554.4 880.9 L555.0 881.1 L555.6 881.3 L556.2 881.5 L556.8 881.6 L557.4 881.7 L558.0 881.8 L558.6 881.7 L559.2 881.6 L559.8 881.3 L560.4 880.9 L561.0 880.4" fill="none" stroke="#B9D9F5" stroke-width="2.4" stroke-linejoin="round" stroke-linecap="round"/>
<path d="M180.2 603.8 L180.8 601.9 L181.4 600.2 L182.0 598.5 L182.6 597.0 L183.2 595.5 L183.8 594.1 L184.4 592.8 L185.0 592.3 L185.6 592.1 L186.2 592.1 L186.8 592.4 L187.4 593.0 L188.0 593.8 L188.6 594.8 L189.2 595.9 L189.9 597.1 L190.5 598.4 L191.1 599.8 L191.7 601.2 L192.3 602.5 L192.9 603.9 L193.5 605.2 L194.1 606.3 L194.7 607.2 L195.3 607.9 L195.9 608.4 L196.5 608.8 L197.1 609.1 L197.7 609.3 L198.3 609.5 L198.9 609.7 L199.5 609.9 L200.1 610.2 L200.7 610.5 L201.3 610.8 L201.9 611.1 L202.5 611.4 L203.2 611.5 L203.8 611.4 L204.4 611.3 L205.0 611.0 L205.6 610.6 L206.2 610.2 L206.8 609.9 L207.4 609.6 L208.0 609.4 L208.6 609.3 L209.2 609.2 L209.8 609.2 L210.4 609.2 L211.0 609.1 L211.6 609.1 L212.2 608.9 L212.8 608.8 L213.4 608.6 L214.0 608.5 L214.6 608.5 L215.2 608.8 L215.8 609.2 L216.5 609.8 L217.1 610.6 L217.7 611.5 L218.3 612.5 L218.9 613.3 L219.5 614.0 L220.1 614.4 L220.7 614.4 L221.3 614.1 L221.9 613.5 L222.5 612.4 L223.1 611.1 L223.7 609.5 L224.3 607.7 L224.9 605.8 L225.5 603.9 L226.1 602.2 L226.7 600.7 L227.3 599.7 L227.9 599.2 L228.5 599.3 L229.1 599.8 L229.8 600.8 L230.4 601.9 L231.0 603.1 L231.6 604.1 L232.2 604.9 L232.8 605.3 L233.4 605.3 L234.0 605.2 L234.6 604.9 L235.2 604.6 L235.8 604.4 L236.4 604.3 L237.0 604.5 L237.6 604.9 L238.2 605.5 L238.8 606.1 L239.4 606.7 L240.0 607.2 L240.6 607.5 L241.2 607.6 L241.8 607.3 L242.4 606.8 L243.1 605.9 L243.7 604.9 L244.3 603.6 L244.9 602.3 L245.5 600.8 L246.1 599.4 L246.7 598.0 L247.3 596.5 L247.9 595.2 L248.5 593.9 L249.1 592.7 L249.7 591.8 L250.3 591.1 L250.9 590.8 L251.5 590.6 L252.1 590.7 L252.7 590.9 L253.3 591.0 L253.9 591.1 L254.5 591.1 L255.1 590.9 L255.7 590.6 L256.4 590.4 L257.0 590.2 L257.6 590.0 L258.2 590.0 L258.8 589.9 L259.4 589.8 L260.0 589.6 L260.6 589.2 L261.2 588.6 L261.8 587.9 L262.4 587.0 L263.0 586.2 L263.6 585.6 L264.2 585.3 L264.8 585.4 L265.4 585.9 L266.0 586.6 L266.6 587.5 L267.2 588.5 L267.8 589.4 L268.4 590.0 L269.0 590.3 L269.7 590.4 L270.3 590.2 L270.9 589.7 L271.5 588.9 L272.1 588.1 L272.7 587.0 L273.3 585.8 L273.9 584.5 L274.5 583.2 L275.1 582.0 L275.7 580.9 L276.3 580.1 L276.9 579.7 L277.5 579.8 L278.1 581.0 L278.7 583.1 L279.3 585.8 L279.9 589.0 L280.5 592.7 L281.1 596.7 L281.7 603.2M322.9 877.6 L323.5 879.3 L324.1 880.8 L324.7 882.1 L325.3 883.1 L325.9 884.0 L326.5 884.2 L327.1 884.2 L327.7 884.2 L328.3 884.0 L328.9 883.8 L329.5 883.4 L330.1 882.9 L330.7 882.2 L331.3 881.4 L331.9 880.4 L332.5 879.2 L333.1 877.9 L333.7 876.5 L334.3 875.1 L334.9 873.8 L335.5 872.4 L336.2 871.1 L336.8 869.8 L337.4 868.7 L338.0 867.7 L338.6 867.2 L339.2 866.8 L339.8 866.6 L340.4 866.3 L341.0 866.1 L341.6 865.9 L342.2 865.7 L342.8 865.5 L343.4 865.6 L344.0 865.6 L344.6 865.7 L345.2 865.6 L345.8 865.6 L346.4 865.5 L347.0 865.4 L347.6 865.3 L348.2 865.3 L348.8 865.2 L349.5 865.3 L350.1 865.3 L350.7 865.4 L351.3 865.5 L351.9 865.7 L352.5 865.8 L353.1 865.9 L353.7 866.1 L354.3 866.1 L354.9 866.2 L355.5 866.2 L356.1 866.2 L356.7 866.1 L357.3 866.0 L357.9 866.0 L358.5 865.9 L359.1 865.9 L359.7 866.1 L360.3 866.3 L360.9 866.7 L361.5 867.2 L362.1 867.8 L362.8 868.5 L363.4 869.3 L364.0 870.1 L364.6 870.8 L365.2 871.4 L365.8 871.9 L366.4 872.3 L367.0 872.6 L367.6 872.8 L368.2 873.0 L368.8 873.1 L369.4 873.2 L370.0 873.3 L370.6 873.4 L371.2 873.4 L371.8 873.3 L372.4 873.2 L373.0 873.1 L373.6 872.8 L374.2 872.5 L374.8 872.2 L375.4 871.9 L376.1 871.7 L376.7 871.5 L377.3 871.5 L377.9 871.6 L378.5 871.7 L379.1 871.9 L379.7 872.1 L380.3 872.3 L380.9 872.3 L381.5 872.1 L382.1 871.8 L382.7 871.3 L383.3 870.7 L383.9 870.1 L384.5 869.6 L385.1 869.4 L385.7 869.3 L386.3 869.5 L386.9 869.9 L387.5 870.5 L388.1 871.1 L388.7 871.8 L389.4 872.3 L390.0 872.8 L390.6 873.0 L391.2 873.2 L391.8 873.2 L392.4 873.2 L393.0 873.2 L393.6 873.3 L394.2 873.4 L394.8 873.4 L395.4 873.5 L396.0 873.6 L396.6 873.6 L397.2 873.5 L397.8 873.3 L398.4 873.0 L399.0 872.5 L399.6 872.0 L400.2 871.4 L400.8 870.8 L401.4 870.1 L402.0 869.4 L402.7 868.7 L403.3 868.0 L403.9 867.4 L404.5 866.7 L405.1 866.0 L405.7 865.4 L406.3 864.7 L406.9 864.1 L407.5 863.7 L408.1 863.3 L408.7 862.9 L409.3 862.7 L409.9 862.6 L410.5 862.7 L411.1 862.9 L411.7 863.0 L412.3 863.2 L412.9 863.2 L413.5 863.0 L414.1 862.8 L414.7 862.4 L415.3 862.0 L416.0 861.5 L416.6 861.1 L417.2 860.7 L417.8 860.3 L418.4 859.7 L419.0 859.1 L419.6 858.3 L420.2 857.3 L420.8 856.2 L421.4 855.2 L422.0 854.3 L422.6 853.9 L423.2 853.9 L423.8 854.4 L424.4 855.3 L425.0 856.4 L425.6 857.8 L426.2 859.1 L426.8 860.2 L427.4 861.1 L428.0 861.7 L428.6 861.9 L429.3 861.8 L429.9 861.5 L430.5 861.2 L431.1 860.8 L431.7 860.6 L432.3 860.6 L432.9 860.8 L433.5 861.2 L434.1 861.8 L434.7 862.5 L435.3 863.3 L435.9 864.1 L436.5 864.8 L437.1 865.3 L437.7 865.5 L438.3 865.4 L438.9 865.0 L439.5 864.3 L440.1 863.5 L440.7 862.5 L441.3 861.5 L441.9 860.7 L442.6 860.0 L443.2 859.6 L443.8 859.5 L444.4 859.7 L445.0 860.1 L445.6 860.7 L446.2 861.5 L446.8 862.4 L447.4 863.3 L448.0 864.1 L448.6 864.7 L449.2 865.1 L449.8 865.1 L450.4 864.7 L451.0 863.9 L451.6 862.8 L452.2 861.4 L452.8 860.0 L453.4 858.5 L454.0 857.3 L454.6 856.3 L455.2 855.7 L455.9 855.6 L456.5 855.9 L457.1 856.6 L457.7 857.7 L458.3 859.0 L458.9 860.4 L459.5 861.8 L460.1 863.2 L460.7 864.3 L461.3 865.2 L461.9 865.9 L462.5 866.5 L463.1 867.0 L463.7 867.6 L464.3 868.3 L464.9 869.1 L465.5 869.9 L466.1 870.7 L466.7 871.3 L467.3 871.8 L467.9 871.9 L468.5 871.7 L469.2 871.2 L469.8 870.4 L470.4 869.3 L471.0 868.1 L471.6 866.9 L472.2 865.7 L472.8 864.7 L473.4 863.9 L474.0 863.4 L474.6 863.3 L475.2 863.4 L475.8 863.9 L476.4 864.6 L477.0 865.4 L477.6 866.2 L478.2 866.9 L478.8 867.5 L479.4 867.8 L480.0 867.8 L480.6 867.6 L481.2 867.0 L481.8 866.3 L482.5 865.4 L483.1 864.5 L483.7 863.6 L484.3 862.9 L484.9 862.4 L485.5 862.2 L486.1 862.3 L486.7 862.5 L487.3 863.0 L487.9 863.7 L488.5 864.6 L489.1 865.5 L489.7 866.6 L490.3 867.7 L490.9 868.9 L491.5 870.0 L492.1 871.0 L492.7 871.9 L493.3 872.6 L493.9 873.1 L494.5 873.4 L495.1 873.6 L495.8 873.6 L496.4 873.4 L497.0 873.1 L497.6 872.8 L498.2 872.4 L498.8 872.0 L499.4 871.7 L500.0 871.5 L500.6 871.4 L501.2 871.5 L501.8 871.6 L502.4 871.9 L503.0 872.2 L503.6 872.5 L504.2 872.7 L504.8 872.9 L505.4 873.1 L506.0 873.2 L506.6 873.2 L507.2 873.3 L507.8 873.3 L508.4 873.4 L509.1 873.6 L509.7 873.8 L510.3 874.0 L510.9 874.2 L511.5 874.3 L512.1 874.5 L512.7 874.6 L513.3 874.8 L513.9 874.8 L514.5 874.8 L515.1 874.8 L515.7 874.8 L516.3 874.8 L516.9 874.7 L517.5 874.6 L518.1 874.4 L518.7 874.3 L519.3 874.1 L519.9 873.9 L520.5 873.7 L521.1 873.5 L521.7 873.3 L522.4 873.2 L523.0 873.1 L523.6 873.2 L524.2 873.3 L524.8 873.4 L525.4 873.6 L526.0 873.9 L526.6 874.2 L527.2 874.5 L527.8 874.9 L528.4 875.3 L529.0 875.7 L529.6 876.1 L530.2 876.5 L530.8 876.9 L531.4 877.2 L532.0 877.5 L532.6 877.7 L533.2 877.8 L533.8 877.8 L534.4 877.9 L535.0 877.9 L535.7 877.8 L536.3 877.7 L536.9 877.7 L537.5 877.6 L538.1 877.6 L538.7 877.7 L539.3 877.7 L539.9 877.8 L540.5 878.0 L541.1 878.2 L541.7 878.3 L542.3 878.6 L542.9 878.8 L543.5 879.0 L544.1 879.2 L544.7 879.4 L545.3 879.7 L545.9 879.9 L546.5 880.1 L547.1 880.3 L547.7 880.5 L548.3 880.6 L549.0 880.8 L549.6 880.9 L550.2 881.0 L550.8 881.0 L551.4 881.1 L552.0 881.1 L552.6 881.1 L553.2 881.2 L553.8 881.2 L554.4 881.4 L555.0 881.5 L555.6 881.7 L556.2 881.8 L556.8 882.0 L557.4 882.0 L558.0 882.0 L558.6 882.0 L559.2 881.8 L559.8 881.5 L560.4 881.0 L561.0 880.4" fill="none" stroke="#B9D9F5" stroke-width="2.4" stroke-linejoin="round" stroke-linecap="round"/>
<path d="M180.2 603.8 L180.8 601.7 L181.4 599.9 L182.0 598.3 L182.6 596.8 L183.2 595.6 L183.8 594.6 L184.4 593.8 L185.0 593.7 L185.6 593.8 L186.2 594.1 L186.8 594.4 L187.4 594.9 L188.0 595.4 L188.6 596.0 L189.2 596.6 L189.9 597.3 L190.5 598.1 L191.1 599.0 L191.7 600.0 L192.3 601.1 L192.9 602.2 L193.5 603.5 L194.1 604.6 L194.7 605.6 L195.3 606.4 L195.9 607.1 L196.5 607.6 L197.1 607.9 L197.7 608.1 L198.3 608.1 L198.9 607.8 L199.5 607.5 L200.1 607.1 L200.7 606.6 L201.3 606.0 L201.9 605.4 L202.5 604.9 L203.2 604.3 L203.8 603.7 L204.4 603.2 L205.0 602.8 L205.6 602.6 L206.2 602.5 L206.8 602.6 L207.4 602.8 L208.0 603.1 L208.6 603.5 L209.2 603.9 L209.8 604.2 L210.4 604.4 L211.0 604.5 L211.6 604.4 L212.2 604.0 L212.8 603.4 L213.4 602.5 L214.0 601.4 L214.6 600.1 L215.2 598.7 L215.8 597.3 L216.5 595.8 L217.1 594.6 L217.7 593.5 L218.3 592.7 L218.9 592.3 L219.5 592.1 L220.1 592.2 L220.7 592.5 L221.3 593.0 L221.9 593.6 L222.5 594.3 L223.1 595.1 L223.7 596.0 L224.3 596.9 L224.9 597.8 L225.5 598.7 L226.1 599.4 L226.7 600.0 L227.3 600.4 L227.9 600.6 L228.5 600.6 L229.1 600.5 L229.8 600.3 L230.4 600.1 L231.0 599.9 L231.6 599.7 L232.2 599.5 L232.8 599.3 L233.4 599.1 L234.0 598.7 L234.6 598.3 L235.2 597.8 L235.8 597.2 L236.4 596.5 L237.0 595.8 L237.6 595.0 L238.2 594.2 L238.8 593.3 L239.4 592.3 L240.0 591.3 L240.6 590.2 L241.2 589.3 L241.8 588.4 L242.4 587.8 L243.1 587.3 L243.7 587.0 L244.3 586.9 L244.9 586.8 L245.5 586.7 L246.1 586.5 L246.7 586.3 L247.3 585.9 L247.9 585.3 L248.5 584.6 L249.1 583.8 L249.7 582.9 L250.3 582.0 L250.9 581.1 L251.5 580.3 L252.1 579.6 L252.7 579.0 L253.3 578.6 L253.9 578.4 L254.5 578.2 L255.1 578.1 L255.7 578.1 L256.4 578.0 L257.0 578.0 L257.6 577.8 L258.2 577.7 L258.8 577.7 L259.4 577.9 L260.0 578.3 L260.6 579.1 L261.2 580.3 L261.8 581.8 L262.4 583.7 L263.0 585.8 L263.6 587.9 L264.2 590.0 L264.8 591.9 L265.4 593.5 L266.0 594.8 L266.6 595.7 L267.2 596.3 L267.8 596.6 L268.4 596.6 L269.0 596.4 L269.7 596.1 L270.3 595.7 L270.9 595.2 L271.5 594.6 L272.1 594.0 L272.7 593.3 L273.3 592.6 L273.9 591.8 L274.5 591.3 L275.1 590.9 L275.7 590.9 L276.3 591.1 L276.9 591.7 L277.5 592.7 L278.1 594.1 L278.7 595.8 L279.3 597.8 L279.9 600.0 L280.5 602.4 L281.1 605.0 L281.7 607.4M322.9 877.6 L323.5 879.4 L324.1 881.1 L324.7 882.7 L325.3 884.0 L325.9 885.2 L326.5 885.5 L327.1 885.5 L327.7 885.4 L328.3 885.1 L328.9 884.7 L329.5 884.3 L330.1 883.7 L330.7 883.0 L331.3 882.1 L331.9 881.2 L332.5 880.1 L333.1 879.0 L333.7 877.8 L334.3 876.5 L334.9 875.3 L335.5 874.0 L336.2 872.6 L336.8 871.3 L337.4 870.0 L338.0 868.8 L338.6 868.0 L339.2 867.4 L339.8 866.8 L340.4 866.3 L341.0 865.9 L341.6 865.5 L342.2 865.2 L342.8 865.0 L343.4 865.0 L344.0 865.2 L344.6 865.3 L345.2 865.5 L345.8 865.6 L346.4 865.7 L347.0 865.8 L347.6 865.9 L348.2 865.9 L348.8 866.0 L349.5 866.0 L350.1 866.0 L350.7 866.0 L351.3 866.0 L351.9 866.0 L352.5 866.0 L353.1 866.0 L353.7 866.0 L354.3 866.0 L354.9 865.9 L355.5 865.8 L356.1 865.6 L356.7 865.4 L357.3 865.3 L357.9 865.3 L358.5 865.3 L359.1 865.4 L359.7 865.6 L360.3 865.9 L360.9 866.3 L361.5 866.8 L362.1 867.2 L362.8 867.7 L363.4 868.2 L364.0 868.7 L364.6 869.2 L365.2 869.5 L365.8 869.8 L366.4 870.0 L367.0 870.0 L367.6 869.9 L368.2 869.8 L368.8 869.5 L369.4 869.3 L370.0 869.0 L370.6 868.8 L371.2 868.7 L371.8 868.7 L372.4 868.8 L373.0 868.9 L373.6 869.2 L374.2 869.5 L374.8 869.8 L375.4 870.2 L376.1 870.7 L376.7 871.2 L377.3 871.6 L377.9 872.1 L378.5 872.6 L379.1 873.0 L379.7 873.4 L380.3 873.7 L380.9 874.0 L381.5 874.2 L382.1 874.4 L382.7 874.5 L383.3 874.4 L383.9 874.3 L384.5 874.0 L385.1 873.6 L385.7 873.1 L386.3 872.5 L386.9 871.9 L387.5 871.2 L388.1 870.7 L388.7 870.2 L389.4 869.9 L390.0 869.7 L390.6 869.8 L391.2 869.9 L391.8 870.2 L392.4 870.5 L393.0 870.8 L393.6 871.1 L394.2 871.2 L394.8 871.3 L395.4 871.4 L396.0 871.4 L396.6 871.4 L397.2 871.6 L397.8 871.7 L398.4 872.0 L399.0 872.3 L399.6 872.6 L400.2 872.9 L400.8 873.1 L401.4 873.3 L402.0 873.5 L402.7 873.5 L403.3 873.5 L403.9 873.6 L404.5 873.6 L405.1 873.6 L405.7 873.7 L406.3 873.8 L406.9 873.9 L407.5 874.0 L408.1 874.0 L408.7 874.0 L409.3 873.9 L409.9 873.6 L410.5 873.2 L411.1 872.6 L411.7 871.9 L412.3 871.2 L412.9 870.4 L413.5 869.8 L414.1 869.3 L414.7 869.0 L415.3 869.0 L416.0 869.1 L416.6 869.3 L417.2 869.7 L417.8 870.1 L418.4 870.5 L419.0 871.0 L419.6 871.3 L420.2 871.7 L420.8 871.9 L421.4 872.1 L422.0 872.2 L422.6 872.2 L423.2 872.1 L423.8 872.0 L424.4 871.7 L425.0 871.3 L425.6 870.8 L426.2 870.1 L426.8 869.3 L427.4 868.5 L428.0 867.8 L428.6 867.2 L429.3 866.8 L429.9 866.5 L430.5 866.5 L431.1 866.7 L431.7 866.9 L432.3 867.2 L432.9 867.5 L433.5 867.6 L434.1 867.6 L434.7 867.5 L435.3 867.2 L435.9 867.0 L436.5 866.8 L437.1 866.7 L437.7 866.8 L438.3 867.2 L438.9 867.9 L439.5 868.9 L440.1 870.1 L440.7 871.5 L441.3 872.9 L441.9 874.4 L442.6 875.7 L443.2 876.8 L443.8 877.7 L444.4 878.3 L445.0 878.6 L445.6 878.6 L446.2 878.2 L446.8 877.6 L447.4 876.8 L448.0 875.8 L448.6 874.8 L449.2 873.8 L449.8 872.8 L450.4 871.9 L451.0 871.0 L451.6 870.1 L452.2 869.3 L452.8 868.5 L453.4 867.8 L454.0 867.2 L454.6 866.7 L455.2 866.4 L455.9 866.3 L456.5 866.4 L457.1 866.6 L457.7 866.9 L458.3 867.3 L458.9 867.6 L459.5 867.9 L460.1 868.2 L460.7 868.3 L461.3 868.2 L461.9 868.0 L462.5 867.7 L463.1 867.2 L463.7 866.5 L464.3 865.7 L464.9 864.7 L465.5 863.6 L466.1 862.5 L466.7 861.5 L467.3 860.6 L467.9 860.0 L468.5 859.6 L469.2 859.6 L469.8 859.8 L470.4 860.2 L471.0 860.6 L471.6 861.1 L472.2 861.6 L472.8 862.0 L473.4 862.4 L474.0 862.7 L474.6 863.0 L475.2 863.3 L475.8 863.5 L476.4 863.8 L477.0 864.2 L477.6 864.5 L478.2 864.9 L478.8 865.2 L479.4 865.5 L480.0 865.8 L480.6 866.0 L481.2 866.1 L481.8 866.2 L482.5 866.2 L483.1 866.2 L483.7 866.1 L484.3 866.0 L484.9 865.9 L485.5 865.9 L486.1 865.8 L486.7 865.7 L487.3 865.7 L487.9 865.7 L488.5 865.8 L489.1 866.0 L489.7 866.2 L490.3 866.5 L490.9 866.8 L491.5 867.3 L492.1 867.8 L492.7 868.4 L493.3 868.9 L493.9 869.5 L494.5 870.0 L495.1 870.5 L495.8 870.8 L496.4 871.1 L497.0 871.1 L497.6 871.0 L498.2 870.8 L498.8 870.6 L499.4 870.2 L500.0 869.9 L500.6 869.7 L501.2 869.6 L501.8 869.6 L502.4 869.7 L503.0 869.9 L503.6 870.3 L504.2 870.7 L504.8 871.1 L505.4 871.6 L506.0 872.0 L506.6 872.4 L507.2 872.7 L507.8 873.0 L508.4 873.2 L509.1 873.5 L509.7 873.7 L510.3 873.9 L510.9 874.1 L511.5 874.4 L512.1 874.7 L512.7 875.0 L513.3 875.4 L513.9 875.7 L514.5 876.0 L515.1 876.2 L515.7 876.3 L516.3 876.4 L516.9 876.4 L517.5 876.3 L518.1 876.3 L518.7 876.2 L519.3 876.2 L519.9 876.1 L520.5 876.0 L521.1 875.9 L521.7 875.7 L522.4 875.6 L523.0 875.3 L523.6 875.1 L524.2 874.9 L524.8 874.6 L525.4 874.5 L526.0 874.3 L526.6 874.2 L527.2 874.2 L527.8 874.3 L528.4 874.4 L529.0 874.6 L529.6 874.9 L530.2 875.2 L530.8 875.5 L531.4 875.8 L532.0 876.2 L532.6 876.5 L533.2 876.8 L533.8 877.1 L534.4 877.5 L535.0 877.7 L535.7 878.0 L536.3 878.3 L536.9 878.5 L537.5 878.8 L538.1 879.0 L538.7 879.2 L539.3 879.4 L539.9 879.6 L540.5 879.8 L541.1 879.9 L541.7 879.9 L542.3 880.0 L542.9 879.9 L543.5 879.9 L544.1 879.8 L544.7 879.7 L545.3 879.7 L545.9 879.6 L546.5 879.6 L547.1 879.7 L547.7 879.8 L548.3 879.9 L549.0 880.0 L549.6 880.1 L550.2 880.2 L550.8 880.4 L551.4 880.5 L552.0 880.6 L552.6 880.7 L553.2 880.8 L553.8 880.8 L554.4 881.0 L555.0 881.1 L555.6 881.3 L556.2 881.5 L556.8 881.6 L557.4 881.7 L558.0 881.7 L558.6 881.7 L559.2 881.6 L559.8 881.3 L560.4 880.9 L561.0 880.4" fill="none" stroke="#B9D9F5" stroke-width="2.4" stroke-linejoin="round" stroke-linecap="round"/>
<path d="M180.2 604.0 L180.8 602.4 L181.4 600.9 L182.0 599.4 L182.6 598.0 L183.2 596.6 L183.8 595.4 L184.4 594.2 L185.0 593.6 L185.6 593.4 L186.2 593.5 L186.8 593.8 L187.4 594.4 L188.0 595.3 L188.6 596.4 L189.2 597.6 L189.9 598.9 L190.5 600.2 L191.1 601.5 L191.7 602.7 L192.3 603.8 L192.9 604.8 L193.5 605.8 L194.1 606.6 L194.7 607.3 L195.3 608.0 L195.9 608.6 L196.5 609.2 L197.1 609.7 L197.7 610.0 L198.3 610.3 L198.9 610.3 L199.5 610.2 L200.1 609.9 L200.7 609.5 L201.3 609.1 L201.9 608.7 L202.5 608.4 L203.2 608.2 L203.8 608.1 L204.4 608.2 L205.0 608.5 L205.6 608.9 L206.2 609.4 L206.8 609.9 L207.4 610.3 L208.0 610.7 L208.6 611.0 L209.2 611.1 L209.8 611.1 L210.4 611.1 L211.0 611.0 L211.6 610.9 L212.2 610.7 L212.8 610.6 L213.4 610.4 L214.0 610.2 L214.6 609.9 L215.2 609.5 L215.8 609.0 L216.5 608.3 L217.1 607.5 L217.7 606.6 L218.3 605.7 L218.9 604.7 L219.5 603.8 L220.1 602.9 L220.7 602.1 L221.3 601.5 L221.9 601.0 L222.5 600.6 L223.1 600.4 L223.7 600.3 L224.3 600.3 L224.9 600.4 L225.5 600.7 L226.1 601.2 L226.7 601.8 L227.3 602.5 L227.9 603.3 L228.5 604.1 L229.1 604.9 L229.8 605.6 L230.4 606.3 L231.0 606.9 L231.6 607.4 L232.2 608.0 L232.8 608.7 L233.4 609.2 L234.0 609.7 L234.6 609.9 L235.2 609.8 L235.8 609.2 L236.4 608.2 L237.0 606.7 L237.6 604.9 L238.2 602.9 L238.8 600.7 L239.4 598.6 L240.0 596.7 L240.6 595.0 L241.2 593.7 L241.8 592.8 L242.4 592.1 L243.1 591.7 L243.7 591.5 L244.3 591.5 L244.9 591.6 L245.5 591.8 L246.1 592.1 L246.7 592.4 L247.3 592.6 L247.9 592.8 L248.5 593.0 L249.1 593.1 L249.7 593.2 L250.3 593.3 L250.9 593.4 L251.5 593.6 L252.1 593.8 L252.7 594.1 L253.3 594.3 L253.9 594.6 L254.5 594.8 L255.1 595.1 L255.7 595.4 L256.4 595.7 L257.0 596.0 L257.6 596.3 L258.2 596.5 L258.8 596.7 L259.4 596.7 L260.0 596.6 L260.6 596.2 L261.2 595.5 L261.8 594.7 L262.4 593.7 L263.0 592.5 L263.6 591.4 L264.2 590.2 L264.8 589.1 L265.4 588.1 L266.0 587.1 L266.6 586.0 L267.2 584.9 L267.8 583.8 L268.4 582.5 L269.0 581.3 L269.7 580.0 L270.3 578.7 L270.9 577.4 L271.5 576.3 L272.1 575.3 L272.7 574.6 L273.3 574.0 L273.9 573.8 L274.5 574.1 L275.1 574.7 L275.7 575.9 L276.3 577.5 L276.9 579.5 L277.5 581.8 L278.1 584.9 L278.7 588.1 L279.3 591.3 L279.9 594.4 L280.5 597.6 L281.1 600.8 L281.7 605.0M322.9 877.5 L323.5 879.2 L324.1 880.8 L324.7 882.2 L325.3 883.5 L325.9 884.6 L326.5 884.9 L327.1 885.0 L327.7 884.9 L328.3 884.8 L328.9 884.5 L329.5 884.2 L330.1 883.7 L330.7 883.1 L331.3 882.3 L331.9 881.3 L332.5 880.3 L333.1 879.1 L333.7 877.9 L334.3 876.7 L334.9 875.4 L335.5 874.2 L336.2 872.9 L336.8 871.7 L337.4 870.6 L338.0 869.6 L338.6 868.9 L339.2 868.5 L339.8 868.1 L340.4 867.8 L341.0 867.4 L341.6 867.1 L342.2 866.7 L342.8 866.3 L343.4 866.2 L344.0 866.1 L344.6 865.9 L345.2 865.7 L345.8 865.5 L346.4 865.3 L347.0 865.1 L347.6 864.8 L348.2 864.6 L348.8 864.4 L349.5 864.3 L350.1 864.1 L350.7 864.1 L351.3 864.1 L351.9 864.2 L352.5 864.4 L353.1 864.7 L353.7 864.9 L354.3 865.2 L354.9 865.5 L355.5 865.8 L356.1 866.0 L356.7 866.3 L357.3 866.5 L357.9 866.8 L358.5 867.0 L359.1 867.3 L359.7 867.6 L360.3 867.8 L360.9 868.0 L361.5 868.1 L362.1 868.2 L362.8 868.4 L363.4 868.5 L364.0 868.7 L364.6 868.9 L365.2 869.2 L365.8 869.6 L366.4 870.0 L367.0 870.4 L367.6 870.7 L368.2 871.0 L368.8 871.2 L369.4 871.3 L370.0 871.3 L370.6 871.2 L371.2 871.1 L371.8 870.9 L372.4 870.8 L373.0 870.6 L373.6 870.5 L374.2 870.4 L374.8 870.3 L375.4 870.2 L376.1 870.1 L376.7 869.9 L377.3 869.7 L377.9 869.6 L378.5 869.4 L379.1 869.3 L379.7 869.3 L380.3 869.4 L380.9 869.5 L381.5 869.6 L382.1 869.7 L382.7 869.9 L383.3 869.9 L383.9 869.9 L384.5 869.7 L385.1 869.6 L385.7 869.3 L386.3 869.1 L386.9 869.0 L387.5 869.0 L388.1 869.1 L388.7 869.5 L389.4 870.0 L390.0 870.6 L390.6 871.3 L391.2 872.0 L391.8 872.7 L392.4 873.2 L393.0 873.6 L393.6 873.8 L394.2 873.8 L394.8 873.7 L395.4 873.5 L396.0 873.3 L396.6 873.1 L397.2 872.9 L397.8 872.7 L398.4 872.6 L399.0 872.4 L399.6 872.3 L400.2 872.1 L400.8 872.0 L401.4 871.9 L402.0 871.7 L402.7 871.7 L403.3 871.6 L403.9 871.7 L404.5 871.8 L405.1 872.0 L405.7 872.1 L406.3 872.2 L406.9 872.3 L407.5 872.3 L408.1 872.2 L408.7 872.1 L409.3 871.8 L409.9 871.5 L410.5 871.2 L411.1 870.9 L411.7 870.6 L412.3 870.6 L412.9 870.6 L413.5 870.7 L414.1 870.9 L414.7 871.1 L415.3 871.3 L416.0 871.5 L416.6 871.5 L417.2 871.5 L417.8 871.3 L418.4 871.1 L419.0 870.8 L419.6 870.4 L420.2 870.0 L420.8 869.6 L421.4 869.2 L422.0 868.9 L422.6 868.5 L423.2 868.3 L423.8 868.2 L424.4 868.2 L425.0 868.2 L425.6 868.3 L426.2 868.5 L426.8 868.7 L427.4 868.9 L428.0 869.2 L428.6 869.6 L429.3 870.0 L429.9 870.6 L430.5 871.2 L431.1 871.9 L431.7 872.6 L432.3 873.3 L432.9 874.0 L433.5 874.6 L434.1 875.2 L434.7 875.6 L435.3 876.0 L435.9 876.3 L436.5 876.5 L437.1 876.4 L437.7 876.2 L438.3 875.7 L438.9 874.9 L439.5 873.9 L440.1 872.7 L440.7 871.5 L441.3 870.2 L441.9 869.0 L442.6 868.0 L443.2 867.3 L443.8 866.7 L444.4 866.2 L445.0 865.9 L445.6 865.7 L446.2 865.4 L446.8 865.1 L447.4 864.7 L448.0 864.2 L448.6 863.7 L449.2 863.1 L449.8 862.5 L450.4 861.8 L451.0 861.2 L451.6 860.6 L452.2 860.0 L452.8 859.6 L453.4 859.2 L454.0 859.0 L454.6 858.9 L455.2 858.9 L455.9 858.9 L456.5 859.1 L457.1 859.2 L457.7 859.3 L458.3 859.2 L458.9 859.1 L459.5 858.8 L460.1 858.3 L460.7 857.8 L461.3 857.2 L461.9 856.6 L462.5 856.1 L463.1 855.8 L463.7 855.7 L464.3 855.7 L464.9 855.9 L465.5 856.3 L466.1 856.7 L466.7 857.1 L467.3 857.5 L467.9 857.8 L468.5 858.1 L469.2 858.5 L469.8 858.8 L470.4 859.1 L471.0 859.4 L471.6 859.7 L472.2 860.1 L472.8 860.5 L473.4 861.0 L474.0 861.5 L474.6 862.1 L475.2 862.7 L475.8 863.4 L476.4 864.0 L477.0 864.8 L477.6 865.6 L478.2 866.4 L478.8 867.2 L479.4 868.0 L480.0 868.7 L480.6 869.3 L481.2 869.7 L481.8 869.9 L482.5 869.9 L483.1 869.7 L483.7 869.4 L484.3 869.0 L484.9 868.7 L485.5 868.4 L486.1 868.1 L486.7 867.9 L487.3 867.6 L487.9 867.3 L488.5 867.0 L489.1 866.7 L489.7 866.3 L490.3 865.9 L490.9 865.6 L491.5 865.3 L492.1 865.0 L492.7 864.9 L493.3 864.9 L493.9 865.0 L494.5 865.2 L495.1 865.4 L495.8 865.6 L496.4 865.8 L497.0 865.9 L497.6 866.0 L498.2 866.1 L498.8 866.2 L499.4 866.4 L500.0 866.6 L500.6 866.9 L501.2 867.3 L501.8 867.7 L502.4 868.2 L503.0 868.8 L503.6 869.3 L504.2 869.8 L504.8 870.3 L505.4 870.7 L506.0 871.0 L506.6 871.3 L507.2 871.4 L507.8 871.5 L508.4 871.6 L509.1 871.6 L509.7 871.7 L510.3 871.8 L510.9 871.9 L511.5 872.0 L512.1 872.2 L512.7 872.4 L513.3 872.7 L513.9 873.0 L514.5 873.3 L515.1 873.6 L515.7 873.9 L516.3 874.2 L516.9 874.4 L517.5 874.7 L518.1 874.9 L518.7 875.1 L519.3 875.2 L519.9 875.4 L520.5 875.5 L521.1 875.5 L521.7 875.6 L522.4 875.6 L523.0 875.7 L523.6 875.7 L524.2 875.9 L524.8 876.0 L525.4 876.2 L526.0 876.5 L526.6 876.8 L527.2 877.1 L527.8 877.5 L528.4 877.8 L529.0 878.1 L529.6 878.4 L530.2 878.6 L530.8 878.7 L531.4 878.8 L532.0 878.8 L532.6 878.8 L533.2 878.7 L533.8 878.7 L534.4 878.7 L535.0 878.7 L535.7 878.7 L536.3 878.7 L536.9 878.7 L537.5 878.8 L538.1 878.8 L538.7 878.9 L539.3 878.9 L539.9 879.0 L540.5 879.1 L541.1 879.2 L541.7 879.3 L542.3 879.4 L542.9 879.5 L543.5 879.6 L544.1 879.7 L544.7 879.7 L545.3 879.8 L545.9 879.9 L546.5 880.0 L547.1 880.0 L547.7 880.1 L548.3 880.1 L549.0 880.2 L549.6 880.2 L550.2 880.3 L550.8 880.3 L551.4 880.4 L552.0 880.4 L552.6 880.5 L553.2 880.6 L553.8 880.7 L554.4 880.8 L555.0 881.0 L555.6 881.1 L556.2 881.3 L556.8 881.4 L557.4 881.5 L558.0 881.5 L558.6 881.5 L559.2 881.4 L559.8 881.2 L560.4 880.9 L561.0 880.4" fill="none" stroke="#B9D9F5" stroke-width="2.4" stroke-linejoin="round" stroke-linecap="round"/>
<path d="M180.2 604.0 L180.8 602.3 L181.4 600.7 L182.0 599.1 L182.6 597.6 L183.2 596.1 L183.8 594.7 L184.4 593.4 L185.0 592.7 L185.6 592.4 L186.2 592.3 L186.8 592.4 L187.4 592.8 L188.0 593.3 L188.6 594.1 L189.2 595.0 L189.9 596.1 L190.5 597.3 L191.1 598.5 L191.7 599.8 L192.3 601.0 L192.9 602.2 L193.5 603.4 L194.1 604.4 L194.7 605.2 L195.3 606.0 L195.9 606.6 L196.5 607.2 L197.1 607.8 L197.7 608.3 L198.3 608.7 L198.9 609.1 L199.5 609.4 L200.1 609.6 L200.7 609.7 L201.3 609.8 L201.9 609.7 L202.5 609.6 L203.2 609.4 L203.8 609.2 L204.4 608.8 L205.0 608.5 L205.6 608.1 L206.2 607.8 L206.8 607.5 L207.4 607.3 L208.0 607.2 L208.6 607.2 L209.2 607.4 L209.8 607.6 L210.4 607.8 L211.0 608.1 L211.6 608.4 L212.2 608.7 L212.8 608.8 L213.4 608.9 L214.0 608.9 L214.6 608.9 L215.2 608.8 L215.8 608.7 L216.5 608.5 L217.1 608.3 L217.7 608.0 L218.3 607.6 L218.9 607.1 L219.5 606.6 L220.1 606.1 L220.7 605.7 L221.3 605.3 L221.9 605.1 L222.5 605.1 L223.1 605.1 L223.7 605.1 L224.3 605.0 L224.9 604.7 L225.5 604.2 L226.1 603.4 L226.7 602.3 L227.3 601.0 L227.9 599.6 L228.5 598.1 L229.1 596.8 L229.8 595.7 L230.4 594.9 L231.0 594.4 L231.6 594.3 L232.2 594.4 L232.8 594.7 L233.4 595.2 L234.0 595.6 L234.6 596.0 L235.2 596.3 L235.8 596.3 L236.4 596.0 L237.0 595.5 L237.6 594.7 L238.2 593.9 L238.8 593.0 L239.4 592.2 L240.0 591.7 L240.6 591.5 L241.2 591.6 L241.8 592.1 L242.4 592.9 L243.1 593.8 L243.7 594.6 L244.3 595.2 L244.9 595.4 L245.5 595.2 L246.1 594.5 L246.7 593.4 L247.3 592.1 L247.9 590.7 L248.5 589.4 L249.1 588.4 L249.7 587.8 L250.3 587.7 L250.9 588.2 L251.5 589.0 L252.1 590.2 L252.7 591.6 L253.3 593.2 L253.9 594.7 L254.5 596.3 L255.1 597.8 L255.7 599.3 L256.4 600.7 L257.0 601.9 L257.6 602.8 L258.2 603.4 L258.8 603.4 L259.4 602.8 L260.0 601.6 L260.6 600.0 L261.2 597.9 L261.8 595.8 L262.4 593.9 L263.0 592.4 L263.6 591.5 L264.2 591.3 L264.8 591.7 L265.4 592.8 L266.0 594.1 L266.6 595.5 L267.2 596.7 L267.8 597.7 L268.4 598.3 L269.0 598.5 L269.7 598.5 L270.3 598.3 L270.9 597.9 L271.5 597.6 L272.1 597.2 L272.7 596.8 L273.3 596.4 L273.9 596.0 L274.5 595.7 L275.1 595.6 L275.7 595.7 L276.3 596.1 L276.9 596.8 L277.5 597.8 L278.1 598.9 L278.7 600.3 L279.3 601.8 L279.9 603.5 L280.5 605.4 L281.1 607.4 L281.7 608.5M322.9 877.5 L323.5 879.1 L324.1 880.6 L324.7 881.9 L325.3 883.1 L325.9 884.1 L326.5 884.3 L327.1 884.3 L327.7 884.2 L328.3 883.9 L328.9 883.5 L329.5 883.0 L330.1 882.5 L330.7 881.8 L331.3 881.1 L331.9 880.0 L332.5 878.8 L333.1 877.6 L333.7 876.3 L334.3 875.1 L334.9 874.0 L335.5 872.8 L336.2 871.7 L336.8 870.6 L337.4 869.5 L338.0 868.6 L338.6 868.0 L339.2 867.7 L339.8 867.3 L340.4 866.9 L341.0 866.6 L341.6 866.2 L342.2 865.7 L342.8 865.3 L343.4 865.2 L344.0 865.1 L344.6 865.1 L345.2 865.2 L345.8 865.4 L346.4 865.7 L347.0 866.1 L347.6 866.5 L348.2 866.9 L348.8 867.2 L349.5 867.6 L350.1 867.8 L350.7 868.0 L351.3 868.1 L351.9 868.1 L352.5 868.0 L353.1 867.9 L353.7 867.7 L354.3 867.5 L354.9 867.3 L355.5 867.2 L356.1 867.0 L356.7 866.9 L357.3 866.9 L357.9 866.8 L358.5 866.8 L359.1 866.7 L359.7 866.6 L360.3 866.5 L360.9 866.4 L361.5 866.3 L362.1 866.2 L362.8 866.2 L363.4 866.2 L364.0 866.3 L364.6 866.4 L365.2 866.5 L365.8 866.6 L366.4 866.7 L367.0 866.7 L367.6 866.6 L368.2 866.4 L368.8 866.2 L369.4 866.0 L370.0 865.7 L370.6 865.5 L371.2 865.4 L371.8 865.3 L372.4 865.4 L373.0 865.6 L373.6 865.8 L374.2 866.2 L374.8 866.5 L375.4 866.9 L376.1 867.3 L376.7 867.7 L377.3 868.1 L377.9 868.4 L378.5 868.7 L379.1 868.9 L379.7 869.1 L380.3 869.3 L380.9 869.4 L381.5 869.5 L382.1 869.6 L382.7 869.5 L383.3 869.4 L383.9 869.2 L384.5 868.9 L385.1 868.6 L385.7 868.2 L386.3 867.8 L386.9 867.6 L387.5 867.4 L388.1 867.3 L388.7 867.4 L389.4 867.6 L390.0 867.7 L390.6 867.9 L391.2 868.0 L391.8 868.0 L392.4 868.0 L393.0 867.9 L393.6 867.7 L394.2 867.5 L394.8 867.3 L395.4 867.2 L396.0 867.1 L396.6 867.1 L397.2 867.1 L397.8 867.2 L398.4 867.4 L399.0 867.7 L399.6 867.9 L400.2 868.2 L400.8 868.4 L401.4 868.5 L402.0 868.5 L402.7 868.4 L403.3 868.2 L403.9 867.9 L404.5 867.6 L405.1 867.3 L405.7 866.9 L406.3 866.6 L406.9 866.3 L407.5 866.1 L408.1 866.0 L408.7 866.0 L409.3 866.0 L409.9 866.2 L410.5 866.6 L411.1 867.0 L411.7 867.6 L412.3 868.2 L412.9 869.0 L413.5 869.8 L414.1 870.7 L414.7 871.5 L415.3 872.3 L416.0 872.9 L416.6 873.3 L417.2 873.6 L417.8 873.6 L418.4 873.4 L419.0 873.2 L419.6 872.9 L420.2 872.6 L420.8 872.4 L421.4 872.2 L422.0 872.2 L422.6 872.1 L423.2 872.1 L423.8 872.2 L424.4 872.4 L425.0 872.6 L425.6 872.9 L426.2 873.3 L426.8 873.7 L427.4 874.1 L428.0 874.4 L428.6 874.7 L429.3 874.8 L429.9 874.7 L430.5 874.5 L431.1 874.2 L431.7 873.7 L432.3 873.0 L432.9 872.2 L433.5 871.3 L434.1 870.2 L434.7 869.1 L435.3 867.9 L435.9 866.9 L436.5 866.0 L437.1 865.3 L437.7 864.8 L438.3 864.6 L438.9 864.6 L439.5 864.8 L440.1 865.0 L440.7 865.3 L441.3 865.5 L441.9 865.6 L442.6 865.6 L443.2 865.6 L443.8 865.6 L444.4 865.5 L445.0 865.5 L445.6 865.5 L446.2 865.7 L446.8 866.1 L447.4 866.6 L448.0 867.4 L448.6 868.3 L449.2 869.2 L449.8 870.2 L450.4 870.9 L451.0 871.4 L451.6 871.6 L452.2 871.5 L452.8 870.9 L453.4 870.0 L454.0 868.8 L454.6 867.4 L455.2 866.0 L455.9 864.7 L456.5 863.5 L457.1 862.5 L457.7 861.9 L458.3 861.5 L458.9 861.4 L459.5 861.6 L460.1 861.9 L460.7 862.3 L461.3 862.7 L461.9 863.1 L462.5 863.5 L463.1 863.9 L463.7 864.3 L464.3 864.9 L464.9 865.5 L465.5 866.3 L466.1 867.0 L466.7 867.8 L467.3 868.4 L467.9 868.8 L468.5 869.1 L469.2 869.3 L469.8 869.2 L470.4 869.0 L471.0 868.8 L471.6 868.6 L472.2 868.4 L472.8 868.4 L473.4 868.6 L474.0 868.9 L474.6 869.5 L475.2 870.1 L475.8 870.8 L476.4 871.5 L477.0 872.1 L477.6 872.6 L478.2 872.8 L478.8 872.8 L479.4 872.5 L480.0 871.9 L480.6 871.2 L481.2 870.4 L481.8 869.6 L482.5 868.8 L483.1 868.1 L483.7 867.6 L484.3 867.3 L484.9 867.2 L485.5 867.3 L486.1 867.6 L486.7 868.0 L487.3 868.4 L487.9 868.9 L488.5 869.3 L489.1 869.7 L489.7 869.9 L490.3 869.9 L490.9 869.7 L491.5 869.4 L492.1 868.9 L492.7 868.4 L493.3 867.9 L493.9 867.4 L494.5 867.0 L495.1 866.7 L495.8 866.6 L496.4 866.6 L497.0 866.8 L497.6 867.0 L498.2 867.4 L498.8 867.7 L499.4 868.1 L500.0 868.5 L500.6 868.8 L501.2 869.0 L501.8 869.1 L502.4 869.2 L503.0 869.2 L503.6 869.2 L504.2 869.2 L504.8 869.4 L505.4 869.6 L506.0 869.9 L506.6 870.2 L507.2 870.6 L507.8 870.9 L508.4 871.2 L509.1 871.5 L509.7 871.7 L510.3 871.8 L510.9 871.8 L511.5 871.8 L512.1 871.9 L512.7 872.0 L513.3 872.1 L513.9 872.3 L514.5 872.5 L515.1 872.6 L515.7 872.8 L516.3 872.9 L516.9 872.9 L517.5 873.0 L518.1 873.0 L518.7 873.0 L519.3 873.0 L519.9 873.0 L520.5 873.0 L521.1 873.0 L521.7 873.0 L522.4 873.1 L523.0 873.1 L523.6 873.2 L524.2 873.3 L524.8 873.5 L525.4 873.7 L526.0 873.9 L526.6 874.1 L527.2 874.4 L527.8 874.6 L528.4 874.8 L529.0 874.9 L529.6 875.0 L530.2 875.1 L530.8 875.2 L531.4 875.2 L532.0 875.3 L532.6 875.3 L533.2 875.4 L533.8 875.6 L534.4 875.9 L535.0 876.2 L535.7 876.6 L536.3 876.9 L536.9 877.3 L537.5 877.6 L538.1 877.9 L538.7 878.1 L539.3 878.3 L539.9 878.4 L540.5 878.5 L541.1 878.5 L541.7 878.5 L542.3 878.6 L542.9 878.6 L543.5 878.7 L544.1 878.8 L544.7 878.9 L545.3 879.0 L545.9 879.1 L546.5 879.2 L547.1 879.4 L547.7 879.5 L548.3 879.6 L549.0 879.7 L549.6 879.9 L550.2 880.0 L550.8 880.1 L551.4 880.1 L552.0 880.2 L552.6 880.3 L553.2 880.4 L553.8 880.5 L554.4 880.7 L555.0 880.9 L555.6 881.1 L556.2 881.3 L556.8 881.5 L557.4 881.6 L558.0 881.7 L558.6 881.7 L559.2 881.6 L559.8 881.3 L560.4 880.9 L561.0 880.4" fill="none" stroke="#B9D9F5" stroke-width="2.4" stroke-linejoin="round" stroke-linecap="round"/>
<path d="M142.7 794.1 L143.9 789.0 L145.1 782.8 L146.3 775.9 L147.5 768.5 L148.7 760.9 L150.0 753.2 L151.2 745.6 L152.4 738.0 L153.6 730.5 L154.8 723.8 L156.0 717.3 L157.2 710.9 L158.4 704.6 L159.6 698.3 L160.8 692.0 L162.0 685.8 L163.3 679.7 L164.5 673.6 L165.7 667.5 L166.9 661.5 L168.1 655.5 L169.3 649.6 L170.5 643.7 L171.7 637.9 L172.9 632.1 L174.1 626.3 L175.3 620.8 L176.6 615.7 L177.8 611.2 L179.0 607.3 L180.2 604.0 L181.4 601.3 L182.6 599.1 L183.8 597.4 L185.0 596.2 L186.2 595.6 L187.4 595.8 L188.6 596.7 L189.9 598.1 L191.1 599.7 L192.3 601.5 L193.5 603.0 L194.7 604.3 L195.9 605.4 L197.1 606.1 L198.3 606.7 L199.5 607.0 L200.7 607.1 L201.9 607.1 L203.2 607.0 L204.4 606.9 L205.6 606.6 L206.8 606.3 L208.0 605.9 L209.2 605.4 L210.4 604.8 L211.6 604.3 L212.8 603.7 L214.0 603.2 L215.2 602.7 L216.5 602.3 L217.7 601.8 L218.9 601.5 L220.1 601.1 L221.3 600.8 L222.5 600.6 L223.7 600.3 L224.9 600.0 L226.1 599.8 L227.3 599.5 L228.5 599.3 L229.8 599.1 L231.0 598.8 L232.2 598.6 L233.4 598.3 L234.6 598.1 L235.8 597.9 L237.0 597.6 L238.2 597.4 L239.4 597.1 L240.6 596.9 L241.8 596.7 L243.1 596.4 L244.3 596.2 L245.5 596.0 L246.7 595.7 L247.9 595.5 L249.1 595.2 L250.3 595.0 L251.5 594.8 L252.7 594.5 L253.9 594.3 L255.1 594.0 L256.4 593.8 L257.6 593.6 L258.8 593.3 L260.0 593.1 L261.2 592.8 L262.4 592.6 L263.6 592.4 L264.8 592.1 L266.0 591.9 L267.2 591.6 L268.4 591.4 L269.7 591.2 L270.9 590.9 L272.1 590.6 L273.3 590.4 L274.5 590.2 L275.7 590.4 L276.9 591.5 L278.1 593.6 L279.3 596.9 L280.5 601.1 L281.7 606.4 L283.0 613.1 L284.2 621.1 L285.4 629.5 L286.6 638.3 L287.8 647.2 L289.0 656.3 L290.2 665.3 L291.4 674.4 L292.6 683.4 L293.8 692.5 L295.0 701.5 L296.3 710.6 L297.5 719.6 L298.7 728.7 L299.9 737.7 L301.1 746.8 L302.3 755.9 L303.5 764.9 L304.7 774.0 L305.9 783.0 L307.1 792.1 L308.3 801.2 L309.6 810.3 L310.8 819.4 L312.0 828.4 L313.2 837.3 L314.4 845.7 L315.6 852.4 L316.8 857.8 L318.0 862.8 L319.2 867.2 L320.4 871.0 L321.6 874.3 L322.9 877.0 L324.1 879.1 L325.3 880.7 L326.5 881.6 L327.7 881.9 L328.9 881.7 L330.1 881.1 L331.3 879.9 L332.5 878.4 L333.7 876.7 L334.9 875.0 L336.2 873.3 L337.4 871.7 L338.6 870.4 L339.8 869.4 L341.0 868.5 L342.2 867.8 L343.4 867.5 L344.6 867.6 L345.8 867.7 L347.0 867.9 L348.2 868.1 L349.5 868.2 L350.7 868.4 L351.9 868.6 L353.1 868.7 L354.3 868.9 L355.5 869.0 L356.7 869.2 L357.9 869.3 L359.1 869.5 L360.3 869.6 L361.5 869.7 L362.8 869.9 L364.0 870.0 L365.2 870.1 L366.4 870.3 L367.6 870.4 L368.8 870.5 L370.0 870.7 L371.2 870.8 L372.4 870.9 L373.6 871.0 L374.8 871.1 L376.1 871.2 L377.3 871.3 L378.5 871.4 L379.7 871.4 L380.9 871.4 L382.1 871.4 L383.3 871.4 L384.5 871.3 L385.7 871.3 L386.9 871.3 L388.1 871.2 L389.4 871.1 L390.6 871.0 L391.8 870.9 L393.0 870.8 L394.2 870.7 L395.4 870.5 L396.6 870.4 L397.8 870.2 L399.0 870.1 L400.2 870.0 L401.4 869.8 L402.7 869.7 L403.9 869.6 L405.1 869.6 L406.3 869.6 L407.5 869.6 L408.7 869.6 L409.9 869.6 L411.1 869.6 L412.3 869.6 L413.5 869.4 L414.7 869.3 L416.0 869.2 L417.2 869.0 L418.4 868.9 L419.6 868.8 L420.8 868.6 L422.0 868.5 L423.2 868.4 L424.4 868.3 L425.6 868.2 L426.8 868.1 L428.0 867.9 L429.3 867.8 L430.5 867.7 L431.7 867.6 L432.9 867.5 L434.1 867.3 L435.3 867.2 L436.5 867.0 L437.7 866.8 L438.9 866.7 L440.1 866.5 L441.3 866.3 L442.6 866.1 L443.8 865.9 L445.0 865.7 L446.2 865.6 L447.4 865.5 L448.6 865.4 L449.8 865.3 L451.0 865.3 L452.2 865.3 L453.4 865.3 L454.6 865.3 L455.9 865.3 L457.1 865.3 L458.3 865.3 L459.5 865.4 L460.7 865.4 L461.9 865.5 L463.1 865.6 L464.3 865.6 L465.5 865.7 L466.7 865.8 L467.9 866.0 L469.2 866.1 L470.4 866.2 L471.6 866.4 L472.8 866.5 L474.0 866.7 L475.2 866.9 L476.4 867.1 L477.6 867.3 L478.8 867.4 L480.0 867.6 L481.2 867.7 L482.5 867.8 L483.7 868.0 L484.9 868.1 L486.1 868.3 L487.3 868.4 L488.5 868.6 L489.7 868.8 L490.9 869.0 L492.1 869.2 L493.3 869.4 L494.5 869.6 L495.8 869.8 L497.0 870.0 L498.2 870.3 L499.4 870.5 L500.6 870.8 L501.8 871.0 L503.0 871.3 L504.2 871.5 L505.4 871.8 L506.6 872.0 L507.8 872.3 L509.1 872.5 L510.3 872.8 L511.5 873.0 L512.7 873.1 L513.9 873.3 L515.1 873.4 L516.3 873.6 L517.5 873.7 L518.7 873.9 L519.9 874.1 L521.1 874.3 L522.4 874.5 L523.6 874.6 L524.8 874.8 L526.0 875.0 L527.2 875.2 L528.4 875.4 L529.6 875.6 L530.8 875.8 L532.0 876.0 L533.2 876.2 L534.4 876.4 L535.7 876.7 L536.9 877.0 L538.1 877.3 L539.3 877.5 L540.5 877.8 L541.7 878.1 L542.9 878.3 L544.1 878.6 L545.3 878.9 L546.5 879.1 L547.7 879.4 L549.0 879.7 L550.2 879.9 L551.4 880.2 L552.6 880.4 L553.8 880.7 L555.0 881.1 L556.2 881.4 L557.4 881.7 L558.6 881.7 L559.8 881.3 L561.0 880.4 L562.3 878.9 L563.5 876.8 L564.7 874.3 L565.9 871.6 L567.1 868.8 L568.3 866.0 L569.5 863.1 L570.7 860.3 L571.9 857.2 L573.1 854.2 L574.3 851.1 L575.6 848.0 L576.8 845.0 L578.0 841.9 L579.2 838.9 L580.4 835.8 L581.6 832.7 L582.8 829.7 L584.0 826.6 L585.2 823.5 L586.4 820.5 L587.6 817.4 L588.9 814.3 L590.1 811.3 L591.3 808.3 L592.5 805.4 L593.7 802.7 L594.9 800.4 L596.1 798.6 L597.3 797.3 L598.5 796.4 L599.7 795.7 L600.9 795.2 L602.2 794.6 L603.4 794.1 L604.6 793.7 L605.8 793.6 L607.0 793.7 L608.2 794.1 L609.4 794.7 L610.6 795.4 L611.8 796.0 L613.0 796.6 L614.2 797.0 L615.5 797.3 L616.7 797.6 L617.9 797.8 L619.1 798.0 L620.3 798.2 L621.5 798.3 L622.7 798.4 L623.9 798.4 L625.1 798.4 L626.3 798.4 L627.5 798.3 L628.8 798.2 L630.0 798.1 L631.2 798.0 L632.4 797.9 L633.6 797.8 L634.8 797.7 L636.0 797.6 L637.2 797.5 L638.4 797.4 L639.6 797.4 L640.8 797.4 L642.1 797.4 L643.3 797.4 L644.5 797.4 L645.7 797.4 L646.9 797.4 L648.1 797.5 L649.3 797.5 L650.5 797.5 L651.7 797.5 L652.9 797.6 L654.1 797.6 L655.4 797.6 L656.6 797.6 L657.8 797.6 L659.0 797.6 L660.2 797.6 L661.4 797.6 L662.6 797.6 L663.8 797.6 L665.0 797.6 L666.2 797.6 L667.4 797.6 L668.7 797.6 L669.9 797.6 L671.1 797.6 L672.3 797.6 L673.5 797.6 L674.7 797.6 L675.9 797.7 L677.1 797.7 L678.3 797.7 L679.5 797.7 L680.7 797.7 L682.0 797.7 L683.2 797.7 L684.4 797.7 L685.6 797.7 L686.8 797.7 L688.0 797.7 L689.2 797.7 L690.4 797.7 L691.6 797.7 L692.8 797.7 L694.0 797.7 L695.3 797.7 L696.5 797.7 L697.7 797.7 L698.9 797.7 L700.1 797.7 L701.3 797.7 L702.5 797.7 L703.7 797.7 L704.9 797.7 L706.1 797.8 L707.3 797.8 L708.6 797.8 L709.8 797.8 L711.0 797.8 L712.2 797.8 L713.4 797.8 L714.6 797.8 L715.8 797.8 L717.0 797.8 L718.2 797.8 L719.4 797.8 L720.6 797.8 L721.9 797.8 L723.1 797.8 L724.3 797.8 L725.5 797.8 L726.7 797.8 L727.9 797.8 L729.1 797.8 L730.3 797.8 L731.5 797.8 L732.7 797.8 L733.9 797.8 L735.2 797.8 L736.4 797.9 L737.6 797.9 L738.8 797.9 L740.0 797.9 L741.2 797.9 L742.4 797.9 L743.6 797.9 L744.8 797.9 L746.0 797.9 L746.6 797.9" fill="none" stroke="#F56F41" stroke-width="6.0" stroke-linejoin="round"/>
<path d="M142.7 789.2 L143.3 785.8 L143.9 782.4 L144.5 778.9 L145.1 775.5 L145.7 772.1 L146.3 768.8 L146.9 765.4 L147.5 762.0 L148.1 758.7 L148.7 755.4 L149.3 752.0 L150.0 748.7 L150.6 745.4 L151.2 742.2 L151.8 738.9 L152.4 735.6 L153.0 732.4 L153.6 729.1 L154.2 725.9 L154.8 722.7 L155.4 719.5 L156.0 716.3 L156.6 713.1 L157.2 710.0 L157.8 706.8 L158.4 703.7 L159.0 700.6 L159.6 697.4 L160.2 694.3 L160.8 691.2 L161.4 688.2 L162.0 685.1 L162.6 682.0 L163.3 679.0 L163.9 676.0 L164.5 673.0 L165.1 669.9 L165.7 667.0 L166.3 664.0 L166.9 661.0 L167.5 658.0 L168.1 655.1 L168.7 652.2 L169.3 649.2 L169.9 646.3 L170.5 643.4 L171.1 640.5 L171.7 637.7 L172.3 634.8 L172.9 632.0 L173.5 629.1 L174.1 626.3 L174.7 623.5 L175.3 620.7 L175.9 617.9 L176.6 615.1 L177.2 612.3 L177.8 609.6 L178.4 606.9 L179.0 606.0 L179.6 605.9 L180.2 605.8 L180.8 605.7 L181.4 605.6 L182.0 605.4 L182.6 605.3 L183.2 605.2 L183.8 605.1 L184.4 604.9 L185.0 604.8 L185.6 604.7 L186.2 604.6 L186.8 604.4 L187.4 604.3 L188.0 604.2 L188.6 604.1 L189.2 604.0 L189.9 603.8 L190.5 603.7 L191.1 603.6 L191.7 603.5 L192.3 603.3 L192.9 603.2 L193.5 603.1 L194.1 603.0 L194.7 602.9 L195.3 602.7 L195.9 602.6 L196.5 602.5 L197.1 602.4 L197.7 602.2 L198.3 602.1 L198.9 602.0 L199.5 601.9 L200.1 601.7 L200.7 601.6 L201.3 601.5 L201.9 601.4 L202.5 601.3 L203.2 601.1 L203.8 601.0 L204.4 600.9 L205.0 600.8 L205.6 600.6 L206.2 600.5 L206.8 600.4 L207.4 600.3 L208.0 600.2 L208.6 600.0 L209.2 599.9 L209.8 599.8 L210.4 599.7 L211.0 599.5 L211.6 599.4 L212.2 599.3 L212.8 599.2 L213.4 599.0 L214.0 598.9 L214.6 598.8 L215.2 598.7 L215.8 598.6 L216.5 598.4 L217.1 598.3 L217.7 598.2 L218.3 598.1 L218.9 597.9 L219.5 597.8 L220.1 597.7 L220.7 597.6 L221.3 597.4 L221.9 597.3 L222.5 597.2 L223.1 597.1 L223.7 597.0 L224.3 596.8 L224.9 596.7 L225.5 596.6 L226.1 596.5 L226.7 596.3 L227.3 596.2 L227.9 596.1 L228.5 596.0 L229.1 595.9 L229.8 595.7 L230.4 595.6 L231.0 595.5 L231.6 595.4 L232.2 595.2 L232.8 595.1 L233.4 595.0 L234.0 594.9 L234.6 594.7 L235.2 594.6 L235.8 594.5 L236.4 594.4 L237.0 594.3 L237.6 594.1 L238.2 594.0 L238.8 593.9 L239.4 593.8 L240.0 593.6 L240.6 593.5 L241.2 593.4 L241.8 593.3 L242.4 593.2 L243.1 593.0 L243.7 592.9 L244.3 592.8 L244.9 592.7 L245.5 592.5 L246.1 592.4 L246.7 592.3 L247.3 592.2 L247.9 592.0 L248.5 591.9 L249.1 591.8 L249.7 591.7 L250.3 591.6 L250.9 591.4 L251.5 591.3 L252.1 591.2 L252.7 591.1 L253.3 590.9 L253.9 590.8 L254.5 590.7 L255.1 590.6 L255.7 590.4 L256.4 590.3 L257.0 590.2 L257.6 590.1 L258.2 590.0 L258.8 589.8 L259.4 589.7 L260.0 589.6 L260.6 589.5 L261.2 589.3 L261.8 589.2 L262.4 589.1 L263.0 589.0 L263.6 588.9 L264.2 588.7 L264.8 588.6 L265.4 588.5 L266.0 588.4 L266.6 588.2 L267.2 588.1 L267.8 588.0 L268.4 587.9 L269.0 587.7 L269.7 587.6 L270.3 587.5 L270.9 587.4 L271.5 587.3 L272.1 587.1 L272.7 587.0 L273.3 586.9 L273.9 586.8 L274.5 586.6 L275.1 586.5 L275.7 586.4 L276.3 586.3 L276.9 586.2 L277.5 586.0 L278.1 585.9 L278.7 585.8 L279.3 585.7 L279.9 585.5 L280.5 585.4 L281.1 585.3 L281.7 585.2 L282.3 585.5 L283.0 590.1 L283.6 594.6 L284.2 599.1 L284.8 603.6 L285.4 608.2 L286.0 612.7 L286.6 617.2 L287.2 621.8 L287.8 626.3 L288.4 630.8 L289.0 635.3 L289.6 639.9 L290.2 644.4 L290.8 648.9 L291.4 653.5 L292.0 658.0 L292.6 662.5 L293.2 667.0 L293.8 671.6 L294.4 676.1 L295.0 680.6 L295.6 685.1 L296.3 689.7 L296.9 694.2 L297.5 698.7 L298.1 703.3 L298.7 707.8 L299.3 712.3 L299.9 716.8 L300.5 721.4 L301.1 725.9 L301.7 730.4 L302.3 734.9 L302.9 739.5 L303.5 744.0 L304.1 748.5 L304.7 753.1 L305.3 757.6 L305.9 762.1 L306.5 766.6 L307.1 771.2 L307.7 775.7 L308.3 780.2 L308.9 784.8 L309.6 789.3 L310.2 793.8 L310.8 798.3 L311.4 802.9 L312.0 807.4 L312.6 811.9 L313.2 816.4 L313.8 821.0 L314.4 825.5 L315.0 830.0 L315.6 834.6 L316.2 839.1 L316.8 843.6 L317.4 848.1 L318.0 852.7 L318.6 857.2 L319.2 861.7 L319.8 866.2 L320.4 866.8 L321.0 867.0 L321.6 867.1 L322.2 867.3 L322.9 867.5 L323.5 867.6 L324.1 867.8 L324.7 868.0 L325.3 868.1 L325.9 868.3 L326.5 868.5 L327.1 868.6 L327.7 868.8 L328.3 868.9 L328.9 869.1 L329.5 869.3 L330.1 869.4 L330.7 869.6 L331.3 869.7 L331.9 869.9 L332.5 870.0 L333.1 870.2 L333.7 870.3 L334.3 870.5 L334.9 870.6 L335.5 870.7 L336.2 870.9 L336.8 871.0 L337.4 871.2 L338.0 871.3 L338.6 871.4 L339.2 871.6 L339.8 871.7 L340.4 871.8 L341.0 871.9 L341.6 872.1 L342.2 872.2 L342.8 872.3 L343.4 872.4 L344.0 872.6 L344.6 872.7 L345.2 872.8 L345.8 872.9 L346.4 873.0 L347.0 873.1 L347.6 873.3 L348.2 873.4 L348.8 873.5 L349.5 873.6 L350.1 873.7 L350.7 873.8 L351.3 873.9 L351.9 874.0 L352.5 874.1 L353.1 874.2 L353.7 874.3 L354.3 874.4 L354.9 874.5 L355.5 874.6 L356.1 874.7 L356.7 874.8 L357.3 874.9 L357.9 875.0 L358.5 875.1 L359.1 875.1 L359.7 875.2 L360.3 875.3 L360.9 875.4 L361.5 875.5 L362.1 875.6 L362.8 875.6 L363.4 875.7 L364.0 875.8 L364.6 875.9 L365.2 876.0 L365.8 876.1 L366.4 876.2 L367.0 876.3 L367.6 876.4 L368.2 876.4 L368.8 876.5 L369.4 876.6 L370.0 876.7 L370.6 876.8 L371.2 876.9 L371.8 877.0 L372.4 877.1 L373.0 877.1 L373.6 877.2 L374.2 877.3 L374.8 877.4 L375.4 877.4 L376.1 877.5 L376.7 877.6 L377.3 877.6 L377.9 877.7 L378.5 877.7 L379.1 877.8 L379.7 877.8 L380.3 877.8 L380.9 877.9 L381.5 877.9 L382.1 877.9 L382.7 877.9 L383.3 877.9 L383.9 877.9 L384.5 877.9 L385.1 877.9 L385.7 877.9 L386.3 877.8 L386.9 877.8 L387.5 877.8 L388.1 877.7 L388.7 877.7 L389.4 877.6 L390.0 877.5 L390.6 877.5 L391.2 877.4 L391.8 877.4 L392.4 877.3 L393.0 877.2 L393.6 877.1 L394.2 877.1 L394.8 877.0 L395.4 876.9 L396.0 876.8 L396.6 876.8 L397.2 876.7 L397.8 876.6 L398.4 876.5 L399.0 876.5 L399.6 876.4 L400.2 876.3 L400.8 876.2 L401.4 876.2 L402.0 876.1 L402.7 876.0 L403.3 875.9 L403.9 875.8 L404.5 875.7 L405.1 875.6 L405.7 875.5 L406.3 875.4 L406.9 875.3 L407.5 875.2 L408.1 875.1 L408.7 875.0 L409.3 874.9 L409.9 874.8 L410.5 874.7 L411.1 874.6 L411.7 874.5 L412.3 874.4 L412.9 874.3 L413.5 874.2 L414.1 874.1 L414.7 874.0 L415.3 873.9 L416.0 873.8 L416.6 873.7 L417.2 873.6 L417.8 873.5 L418.4 873.4 L419.0 873.3 L419.6 873.2 L420.2 873.1 L420.8 873.0 L421.4 872.9 L422.0 872.8 L422.6 872.8 L423.2 872.7 L423.8 872.6 L424.4 872.5 L425.0 872.4 L425.6 872.3 L426.2 872.2 L426.8 872.2 L427.4 872.1 L428.0 872.0 L428.6 871.9 L429.3 871.8 L429.9 871.7 L430.5 871.6 L431.1 871.5 L431.7 871.5 L432.3 871.4 L432.9 871.3 L433.5 871.2 L434.1 871.1 L434.7 871.0 L435.3 870.9 L435.9 870.8 L436.5 870.7 L437.1 870.6 L437.7 870.5 L438.3 870.3 L438.9 870.2 L439.5 870.1 L440.1 869.9 L440.7 869.8 L441.3 869.7 L441.9 869.6 L442.6 869.4 L443.2 869.3 L443.8 869.2 L444.4 869.1 L445.0 868.9 L445.6 868.8 L446.2 868.7 L446.8 868.6 L447.4 868.6 L448.0 868.5 L448.6 868.4 L449.2 868.4 L449.8 868.3 L450.4 868.3 L451.0 868.3 L451.6 868.3 L452.2 868.2 L452.8 868.2 L453.4 868.2 L454.0 868.2 L454.6 868.1 L455.2 868.1 L455.9 868.1 L456.5 868.1 L457.1 868.0 L457.7 868.0 L458.3 868.0 L458.9 868.0 L459.5 868.0 L460.1 868.0 L460.7 868.0 L461.3 868.0 L461.9 867.9 L462.5 867.9 L463.1 867.9 L463.7 867.9 L464.3 867.9 L464.9 867.9 L465.5 868.0 L466.1 868.0 L466.7 868.0 L467.3 868.0 L467.9 868.0 L468.5 868.1 L469.2 868.1 L469.8 868.1 L470.4 868.2 L471.0 868.2 L471.6 868.3 L472.2 868.3 L472.8 868.3 L473.4 868.4 L474.0 868.5 L474.6 868.5 L475.2 868.6 L475.8 868.6 L476.4 868.7 L477.0 868.7 L477.6 868.8 L478.2 868.9 L478.8 868.9 L479.4 869.0 L480.0 869.1 L480.6 869.1 L481.2 869.2 L481.8 869.3 L482.5 869.3 L483.1 869.4 L483.7 869.4 L484.3 869.5 L484.9 869.6 L485.5 869.6 L486.1 869.7 L486.7 869.8 L487.3 869.9 L487.9 869.9 L488.5 870.0 L489.1 870.1 L489.7 870.2 L490.3 870.3 L490.9 870.4 L491.5 870.5 L492.1 870.5 L492.7 870.6 L493.3 870.7 L493.9 870.8 L494.5 870.9 L495.1 871.0 L495.8 871.2 L496.4 871.3 L497.0 871.4 L497.6 871.5 L498.2 871.6 L498.8 871.7 L499.4 871.8 L500.0 871.9 L500.6 872.1 L501.2 872.2 L501.8 872.3 L502.4 872.4 L503.0 872.5 L503.6 872.7 L504.2 872.8 L504.8 872.9 L505.4 873.0 L506.0 873.1 L506.6 873.3 L507.2 873.4 L507.8 873.5 L508.4 873.6 L509.1 873.8 L509.7 873.9 L510.3 874.0 L510.9 874.1 L511.5 874.3 L512.1 874.4 L512.7 874.5 L513.3 874.6 L513.9 874.8 L514.5 874.9 L515.1 875.0 L515.7 875.1 L516.3 875.3 L516.9 875.4 L517.5 875.5 L518.1 875.7 L518.7 875.8 L519.3 875.9 L519.9 876.1 L520.5 876.2 L521.1 876.3 L521.7 876.5 L522.4 876.6 L523.0 876.8 L523.6 876.9 L524.2 877.0 L524.8 877.2 L525.4 877.3 L526.0 877.5 L526.6 877.6 L527.2 877.8 L527.8 877.9 L528.4 878.1 L529.0 878.2 L529.6 878.3 L530.2 878.5 L530.8 878.6 L531.4 878.8 L532.0 878.9 L532.6 879.1 L533.2 879.2 L533.8 879.3 L534.4 879.5 L535.0 879.6 L535.7 879.7 L536.3 879.9 L536.9 880.0 L537.5 880.1 L538.1 880.3 L538.7 880.4 L539.3 880.5 L539.9 880.7 L540.5 880.8 L541.1 880.9 L541.7 881.0 L542.3 881.2 L542.9 881.3 L543.5 881.4 L544.1 881.6 L544.7 881.7 L545.3 881.8 L545.9 881.9 L546.5 882.1 L547.1 882.2 L547.7 882.3 L548.3 882.4 L549.0 882.6 L549.6 882.7 L550.2 882.8 L550.8 882.9 L551.4 883.0 L552.0 883.2 L552.6 883.3 L553.2 883.4 L553.8 883.5 L554.4 883.7 L555.0 883.8 L555.6 883.9 L556.2 884.0 L556.8 884.1 L557.4 884.3 L558.0 884.4 L558.6 884.5 L559.2 884.6 L559.8 884.7 L560.4 884.8 L561.0 884.8 L561.6 883.3 L562.3 881.7 L562.9 880.2 L563.5 878.7 L564.1 877.1 L564.7 875.6 L565.3 874.1 L565.9 872.6 L566.5 871.0 L567.1 869.5 L567.7 868.0 L568.3 866.4 L568.9 864.9 L569.5 863.4 L570.1 861.8 L570.7 860.3 L571.3 858.8 L571.9 857.2 L572.5 855.7 L573.1 854.2 L573.7 852.6 L574.3 851.1 L574.9 849.6 L575.6 848.0 L576.2 846.5 L576.8 845.0 L577.4 843.4 L578.0 841.9 L578.6 840.4 L579.2 838.9 L579.8 837.3 L580.4 835.8 L581.0 834.3 L581.6 832.7 L582.2 831.2 L582.8 829.7 L583.4 828.1 L584.0 826.6 L584.6 825.1 L585.2 823.5 L585.8 822.0 L586.4 820.5 L587.0 818.9 L587.6 817.4 L588.2 815.9 L588.9 814.3 L589.5 812.8 L590.1 811.3 L590.7 809.7 L591.3 808.2 L591.9 806.7 L592.5 805.2 L593.1 803.6 L593.7 802.1 L594.3 800.6 L594.9 799.0 L595.5 797.5 L596.1 796.0 L596.7 796.1 L597.3 796.1 L597.9 796.1 L598.5 796.1 L599.1 796.1 L599.7 796.1 L600.3 796.2 L600.9 796.2 L601.5 796.2 L602.2 796.2 L602.8 796.2 L603.4 796.2 L604.0 796.3 L604.6 796.3 L605.2 796.3 L605.8 796.3 L606.4 796.3 L607.0 796.3 L607.6 796.4 L608.2 796.4 L608.8 796.4 L609.4 796.4 L610.0 796.4 L610.6 796.4 L611.2 796.5 L611.8 796.5 L612.4 796.5 L613.0 796.5 L613.6 796.5 L614.2 796.5 L614.8 796.6 L615.5 796.6 L616.1 796.6 L616.7 796.6 L617.3 796.6 L617.9 796.6 L618.5 796.7 L619.1 796.7 L619.7 796.7 L620.3 796.7 L620.9 796.7 L621.5 796.7 L622.1 796.8 L622.7 796.8 L623.3 796.8 L623.9 796.8 L624.5 796.8 L625.1 796.8 L625.7 796.9 L626.3 796.9 L626.9 796.9 L627.5 796.9 L628.1 796.9 L628.8 796.9 L629.4 797.0 L630.0 797.0 L630.6 797.0 L631.2 797.0 L631.8 797.0 L632.4 797.0 L633.0 797.1 L633.6 797.1 L634.2 797.1 L634.8 797.1 L635.4 797.1 L636.0 797.1 L636.6 797.2 L637.2 797.2 L637.8 797.2 L638.4 797.2 L639.0 797.2 L639.6 797.2 L640.2 797.3 L640.8 797.3 L641.4 797.3 L642.1 797.3 L642.7 797.3 L643.3 797.3 L643.9 797.4 L644.5 797.4 L645.1 797.4 L645.7 797.4 L646.3 797.4 L646.9 797.4 L647.5 797.5 L648.1 797.5 L648.7 797.5 L649.3 797.5 L649.9 797.5 L650.5 797.5 L651.1 797.6 L651.7 797.6 L652.3 797.6 L652.9 797.6 L653.5 797.6 L654.1 797.6 L654.7 797.6 L655.4 797.6 L656.0 797.6 L656.6 797.6 L657.2 797.6 L657.8 797.6 L658.4 797.6 L659.0 797.6 L659.6 797.6 L660.2 797.6 L660.8 797.6 L661.4 797.6 L662.0 797.6 L662.6 797.6 L663.2 797.6 L663.8 797.6 L664.4 797.6 L665.0 797.6 L665.6 797.6 L666.2 797.6 L666.8 797.6 L667.4 797.6 L668.0 797.6 L668.7 797.6 L669.3 797.6 L669.9 797.6 L670.5 797.6 L671.1 797.6 L671.7 797.6 L672.3 797.6 L672.9 797.6 L673.5 797.6 L674.1 797.6 L674.7 797.6 L675.3 797.7 L675.9 797.7 L676.5 797.7 L677.1 797.7 L677.7 797.7 L678.3 797.7 L678.9 797.7 L679.5 797.7 L680.1 797.7 L680.7 797.7 L681.3 797.7 L682.0 797.7 L682.6 797.7 L683.2 797.7 L683.8 797.7 L684.4 797.7 L685.0 797.7 L685.6 797.7 L686.2 797.7 L686.8 797.7 L687.4 797.7 L688.0 797.7 L688.6 797.7 L689.2 797.7 L689.8 797.7 L690.4 797.7 L691.0 797.7 L691.6 797.7 L692.2 797.7 L692.8 797.7 L693.4 797.7 L694.0 797.7 L694.6 797.7 L695.3 797.7 L695.9 797.7 L696.5 797.7 L697.1 797.7 L697.7 797.7 L698.3 797.7 L698.9 797.7 L699.5 797.7 L700.1 797.7 L700.7 797.7 L701.3 797.7 L701.9 797.7 L702.5 797.7 L703.1 797.7 L703.7 797.7 L704.3 797.7 L704.9 797.7 L705.5 797.8 L706.1 797.8 L706.7 797.8 L707.3 797.8 L707.9 797.8 L708.6 797.8 L709.2 797.8 L709.8 797.8 L710.4 797.8 L711.0 797.8 L711.6 797.8 L712.2 797.8 L712.8 797.8 L713.4 797.8 L714.0 797.8 L714.6 797.8 L715.2 797.8 L715.8 797.8 L716.4 797.8 L717.0 797.8 L717.6 797.8 L718.2 797.8 L718.8 797.8 L719.4 797.8 L720.0 797.8 L720.6 797.8 L721.2 797.8 L721.9 797.8 L722.5 797.8 L723.1 797.8 L723.7 797.8 L724.3 797.8 L724.9 797.8 L725.5 797.8 L726.1 797.8 L726.7 797.8 L727.3 797.8 L727.9 797.8 L728.5 797.8 L729.1 797.8 L729.7 797.8 L730.3 797.8 L730.9 797.8 L731.5 797.8 L732.1 797.8 L732.7 797.8 L733.3 797.8 L733.9 797.8 L734.5 797.8 L735.2 797.8 L735.8 797.8 L736.4 797.9 L737.0 797.9 L737.6 797.9 L738.2 797.9 L738.8 797.9 L739.4 797.9 L740.0 797.9 L740.6 797.9 L741.2 797.9 L741.8 797.9 L742.4 797.9 L743.0 797.9 L743.6 797.9 L744.2 797.9 L744.8 797.9 L745.4 797.9 L746.0 797.9 L746.6 797.9" fill="none" stroke="#474747" stroke-width="5.6" stroke-dasharray="4.60 2.90 4.60 2.90 4.60 2.90 4.60 2.90 4.60 2.90 4.60 2.90 4.60 2.90 4.60 2.90 4.60 2.90 4.60 2.90 4.60 2.90 4.60 2.90 4.60 2.90 4.60 2.90 4.60 2.90 4.60 2.90 4.60 2.90 4.60 2.90 4.60 2.90 4.60 2.90 4.60 2.90 4.60 2.90 4.60 2.90 4.60 2.90 4.60 2.90 6.90 0.65 6.90 0.65 6.90 0.65 6.90 0.65 6.90 0.65 6.90 0.65 6.90 0.65 6.90 0.65 6.90 0.65 6.90 0.65 6.90 0.65 6.90 0.65 6.90 0.65 6.90 0.65 4.60 2.90 4.60 2.90 4.60 2.90 4.60 2.90 4.60 2.90 4.60 2.90 4.60 2.90 4.60 2.90 4.60 2.90 4.60 2.90 4.60 2.90 4.60 2.90 4.60 2.90 4.60 2.90 4.60 2.90 4.60 2.90 4.60 2.90 4.60 2.90 4.60 2.90 4.60 2.90 4.60 2.90 4.60 2.90 4.60 2.90 4.60 2.90 4.60 2.90 4.60 2.90 4.60 2.90 4.60 2.90 4.60 2.90 4.60 2.90 4.60 2.90 4.60 2.90 4.60 2.90 4.60 2.90 4.60 2.90 4.60 2.90 4.60 2.90 4.60 2.90 5.50 1.90 5.50 1.90 5.50 1.90 5.50 1.90 5.50 1.90 5.50 1.90 5.50 1.90 5.50 1.90 5.50 1.90 5.50 1.90 5.50 1.90 5.50 1.90 5.50 1.90 5.50 1.90 5.50 1.90 5.50 1.90 5.50 1.90 5.50 1.90 5.50 1.90 5.50 1.90 5.50 1.90 5.50 1.90 5.50 1.90 5.50 1.90 5.50 1.90 5.50 1.90 5.50 1.90 5.50 1.90 5.50 1.90 5.50 1.90 5.50 1.90 5.50 1.90 5.50 1.90 4.60 2.90 4.60 2.90 4.60 2.90 4.60 2.90 4.60 2.90 4.60 2.90 4.60 2.90 4.60 2.90 4.60 2.90 4.60 2.90 4.60 2.90 4.60 2.90 4.60 2.90 4.50 3.90 4.50 3.90 4.50 3.90 4.50 3.90 4.50 3.90 4.50 3.90 4.50 3.90 4.50 3.90 4.50 3.90 4.50 3.90 4.50 3.90 4.50 3.90 4.50 3.90 4.50 3.90 4.50 3.90 4.50 3.90 4.50 3.90 4.50 3.90" stroke-linejoin="round"/>
<path d="M235.76 1392.90v-6.4M235.76 1036.10v6.4M328.81 1392.90v-6.4M328.81 1036.10v6.4M421.87 1392.90v-6.4M421.87 1036.10v6.4M514.93 1392.90v-6.4M514.93 1036.10v6.4M607.99 1392.90v-6.4M607.99 1036.10v6.4M701.04 1392.90v-6.4M701.04 1036.10v6.4M142.70 1333.43h6.4M794.10 1333.43h-6.4M142.70 1273.97h6.4M794.10 1273.97h-6.4M142.70 1214.50h6.4M794.10 1214.50h-6.4M142.70 1155.03h6.4M794.10 1155.03h-6.4M142.70 1095.57h6.4M794.10 1095.57h-6.4" stroke="#0a0a0a" stroke-width="1.9" fill="none"/>
<rect x="142.70" y="1036.10" width="651.40" height="356.80" fill="none" stroke="#0a0a0a" stroke-width="2.05" stroke-linejoin="miter"/>
<text transform="translate(119.94 1403.00) scale(1 1.022)" text-anchor="end">-0.1</text>
<text transform="translate(119.52 1343.53) scale(1 1.022)" text-anchor="end">-0.05</text>
<text transform="translate(121.20 1284.07) scale(1 1.022)" text-anchor="end">0</text>
<text transform="translate(119.94 1224.60) scale(1 1.022)" text-anchor="end">0.05</text>
<text transform="translate(120.36 1165.13) scale(1 1.022)" text-anchor="end">0.1</text>
<text transform="translate(119.94 1105.67) scale(1 1.022)" text-anchor="end">0.15</text>
<text transform="translate(120.36 1046.20) scale(1 1.022)" text-anchor="end">0.2</text>
<text transform="translate(142.60 1431.70) scale(1 1.022)" text-anchor="middle">0</text>
<text transform="translate(235.66 1431.70) scale(1 1.022)" text-anchor="middle">1</text>
<text transform="translate(328.71 1431.70) scale(1 1.022)" text-anchor="middle">2</text>
<text transform="translate(421.77 1431.70) scale(1 1.022)" text-anchor="middle">3</text>
<text transform="translate(514.83 1431.70) scale(1 1.022)" text-anchor="middle">4</text>
<text transform="translate(607.89 1431.70) scale(1 1.022)" text-anchor="middle">5</text>
<text transform="translate(700.94 1431.70) scale(1 1.022)" text-anchor="middle">6</text>
<text transform="translate(794.00 1431.70) scale(1 1.022)" text-anchor="middle">7</text>
<text transform="translate(465.60 1484.60) scale(1 1.0)" text-anchor="middle">t (s)</text>
<rect x="15.3" y="1285.2" width="2.4" height="13.6" fill="#111"/>
<text transform="translate(23.70 1273.50) rotate(-90) scale(1.012 1.04)" text-anchor="start">P( W/m)</text>
<path d="M179.6 1216.8 L180.2 1215.5 L180.8 1214.2 L181.4 1212.8 L182.0 1211.5 L182.6 1210.2 L183.2 1208.8 L183.8 1207.5 L184.4 1206.1 L185.0 1205.1 L185.6 1204.2 L186.2 1203.4 L186.8 1202.6 L187.4 1201.9 L188.0 1201.2 L188.6 1200.6 L189.2 1200.1 L189.9 1199.7 L190.5 1199.3 L191.1 1198.9 L191.7 1198.6 L192.3 1198.2 L192.9 1197.8 L193.5 1197.3 L194.1 1196.8 L194.7 1196.3 L195.3 1195.7 L195.9 1195.0 L196.5 1194.4 L197.1 1193.7 L197.7 1193.0 L198.3 1192.3 L198.9 1191.6 L199.5 1191.0 L200.1 1190.3 L200.7 1189.7 L201.3 1189.0 L201.9 1188.4 L202.5 1187.7 L203.2 1187.0 L203.8 1186.3 L204.4 1185.6 L205.0 1184.8 L205.6 1184.0 L206.2 1183.1 L206.8 1182.2 L207.4 1181.2 L208.0 1180.1 L208.6 1179.1 L209.2 1178.0 L209.8 1177.0 L210.4 1176.0 L211.0 1175.1 L211.6 1174.2 L212.2 1173.3 L212.8 1172.4 L213.4 1171.4 L214.0 1170.5 L214.6 1169.6 L215.2 1168.7 L215.8 1167.7 L216.5 1166.7 L217.1 1165.7 L217.7 1164.7 L218.3 1163.7 L218.9 1162.8 L219.5 1162.0 L220.1 1161.2 L220.7 1160.3 L221.3 1159.4 L221.9 1158.2 L222.5 1157.0 L223.1 1155.6 L223.7 1154.1 L224.3 1152.8 L224.9 1151.7 L225.5 1150.8 L226.1 1150.2 L226.7 1149.8 L227.3 1149.6 L227.9 1149.5 L228.5 1149.2 L229.1 1148.7 L229.8 1148.1 L230.4 1147.3 L231.0 1146.2 L231.6 1144.9 L232.2 1143.5 L232.8 1141.9 L233.4 1140.2 L234.0 1138.3 L234.6 1136.4 L235.2 1134.5 L235.8 1132.7 L236.4 1131.7 L237.0 1130.6 L237.6 1129.6 L238.2 1128.6 L238.8 1127.5 L239.4 1126.5 L240.0 1126.1 L240.6 1126.1 L241.2 1126.1 L241.8 1126.1 L242.4 1125.9 L243.1 1125.5 L243.7 1124.8 L244.3 1123.7 L244.9 1122.5 L245.5 1121.1 L246.1 1119.7 L246.7 1118.4 L247.3 1117.2 L247.9 1116.3 L248.5 1115.6 L249.1 1114.9 L249.7 1114.4 L250.3 1113.9 L250.9 1113.3 L251.5 1112.8 L252.1 1112.4 L252.7 1112.0 L253.3 1111.6 L253.9 1111.3 L254.5 1110.9 L255.1 1110.4 L255.7 1109.8 L256.4 1109.1 L257.0 1108.3 L257.6 1107.4 L258.2 1106.4 L258.8 1105.5 L259.4 1104.5 L260.0 1103.4 L260.6 1102.3 L261.2 1101.1 L261.8 1099.8 L262.4 1098.4 L263.0 1096.8 L263.6 1095.1 L264.2 1093.3 L264.8 1091.5 L265.4 1089.8 L266.0 1088.3 L266.6 1087.0 L267.2 1086.0 L267.8 1085.3 L268.4 1084.7 L269.0 1084.3 L269.7 1083.7 L270.3 1083.0 L270.9 1082.1 L271.5 1080.9 L272.1 1079.6 L272.7 1078.4 L273.3 1077.3 L273.9 1076.5 L274.5 1076.4 L275.1 1076.7 L275.7 1077.6 L276.3 1078.8 L276.9 1080.2 L277.5 1081.5 L278.1 1082.3 L278.7 1083.0 L279.3 1083.8 L279.9 1084.2 L280.5 1084.3 L281.1 1084.6 L281.7 1088.0 L282.3 1094.1 L282.3 1094.1 L281.7 1094.9 L281.1 1095.3 L280.5 1094.1 L279.9 1092.9 L279.3 1091.8 L278.7 1090.7 L278.1 1089.8 L277.5 1089.1 L276.9 1088.8 L276.3 1088.9 L275.7 1089.7 L275.1 1090.8 L274.5 1092.3 L273.9 1094.0 L273.3 1095.7 L272.7 1097.4 L272.1 1098.8 L271.5 1100.1 L270.9 1101.3 L270.3 1102.2 L269.7 1103.0 L269.0 1103.7 L268.4 1104.2 L267.8 1104.7 L267.2 1105.2 L266.6 1105.7 L266.0 1106.3 L265.4 1107.0 L264.8 1107.8 L264.2 1108.6 L263.6 1109.6 L263.0 1110.6 L262.4 1111.8 L261.8 1112.9 L261.2 1114.0 L260.6 1115.1 L260.0 1116.0 L259.4 1116.8 L258.8 1117.5 L258.2 1118.2 L257.6 1118.9 L257.0 1119.8 L256.4 1120.8 L255.7 1122.0 L255.1 1123.3 L254.5 1124.6 L253.9 1125.8 L253.3 1126.9 L252.7 1127.8 L252.1 1128.7 L251.5 1129.4 L250.9 1130.2 L250.3 1130.9 L249.7 1131.7 L249.1 1132.6 L248.5 1133.5 L247.9 1134.5 L247.3 1135.5 L246.7 1136.3 L246.1 1137.1 L245.5 1137.8 L244.9 1138.5 L244.3 1139.1 L243.7 1139.8 L243.1 1140.7 L242.4 1141.7 L241.8 1142.9 L241.2 1144.1 L240.6 1145.4 L240.0 1146.7 L239.4 1147.8 L238.8 1148.8 L238.2 1149.6 L237.6 1150.4 L237.0 1151.0 L236.4 1151.6 L235.8 1152.2 L235.2 1152.8 L234.6 1153.4 L234.0 1154.0 L233.4 1154.7 L232.8 1155.4 L232.2 1156.2 L231.6 1156.9 L231.0 1157.5 L230.4 1158.1 L229.8 1158.7 L229.1 1159.1 L228.5 1159.6 L227.9 1160.1 L227.3 1160.8 L226.7 1161.5 L226.1 1162.4 L225.5 1163.4 L224.9 1164.4 L224.3 1165.5 L223.7 1166.6 L223.1 1167.7 L222.5 1168.8 L221.9 1170.0 L221.3 1170.8 L220.7 1171.5 L220.1 1172.2 L219.5 1172.8 L218.9 1173.5 L218.3 1174.3 L217.7 1175.0 L217.1 1175.7 L216.5 1176.4 L215.8 1177.1 L215.2 1177.9 L214.6 1178.6 L214.0 1179.3 L213.4 1180.1 L212.8 1180.8 L212.2 1181.2 L211.6 1181.6 L211.0 1181.9 L210.4 1182.4 L209.8 1182.9 L209.2 1183.5 L208.6 1184.3 L208.0 1185.1 L207.4 1185.9 L206.8 1186.8 L206.2 1187.6 L205.6 1188.5 L205.0 1189.3 L204.4 1190.0 L203.8 1190.8 L203.2 1191.4 L202.5 1192.0 L201.9 1192.6 L201.3 1193.2 L200.7 1193.7 L200.1 1194.3 L199.5 1194.9 L198.9 1195.5 L198.3 1196.1 L197.7 1196.7 L197.1 1197.3 L196.5 1197.9 L195.9 1198.5 L195.3 1199.0 L194.7 1199.4 L194.1 1199.8 L193.5 1200.2 L192.9 1200.5 L192.3 1200.9 L191.7 1201.2 L191.1 1201.6 L190.5 1202.0 L189.9 1202.4 L189.2 1202.8 L188.6 1203.2 L188.0 1203.7 L187.4 1204.3 L186.8 1204.9 L186.2 1205.6 L185.6 1206.4 L185.0 1207.2 L184.4 1208.1 L183.8 1209.0 L183.2 1210.1 L182.6 1211.1 L182.0 1212.2 L181.4 1213.3 L180.8 1214.4 L180.2 1215.6 L179.6 1216.8ZM322.2 1342.7 L322.9 1343.7 L323.5 1344.6 L324.1 1345.4 L324.7 1346.0 L325.3 1346.5 L325.9 1346.8 L326.5 1346.9 L327.1 1347.0 L327.7 1346.9 L328.3 1346.7 L328.9 1346.4 L329.5 1345.9 L330.1 1345.4 L330.7 1344.7 L331.3 1344.0 L331.9 1342.9 L332.5 1341.5 L333.1 1340.0 L333.7 1338.5 L334.3 1337.1 L334.9 1335.7 L335.5 1334.3 L336.2 1332.9 L336.8 1331.5 L337.4 1330.2 L338.0 1329.0 L338.6 1328.3 L339.2 1327.8 L339.8 1327.3 L340.4 1326.7 L341.0 1326.0 L341.6 1325.2 L342.2 1324.4 L342.8 1323.6 L343.4 1323.1 L344.0 1322.8 L344.6 1322.7 L345.2 1322.7 L345.8 1322.8 L346.4 1323.0 L347.0 1323.3 L347.6 1323.7 L348.2 1324.2 L348.8 1324.8 L349.5 1325.3 L350.1 1325.8 L350.7 1326.1 L351.3 1326.1 L351.9 1326.0 L352.5 1325.7 L353.1 1325.4 L353.7 1325.0 L354.3 1324.6 L354.9 1324.3 L355.5 1323.9 L356.1 1323.6 L356.7 1323.3 L357.3 1323.1 L357.9 1322.9 L358.5 1322.9 L359.1 1323.0 L359.7 1323.2 L360.3 1323.4 L360.9 1323.6 L361.5 1323.7 L362.1 1323.8 L362.8 1323.8 L363.4 1323.8 L364.0 1323.7 L364.6 1323.6 L365.2 1323.4 L365.8 1323.2 L366.4 1323.0 L367.0 1322.8 L367.6 1322.6 L368.2 1322.4 L368.8 1322.3 L369.4 1322.2 L370.0 1322.2 L370.6 1322.2 L371.2 1322.2 L371.8 1322.3 L372.4 1322.5 L373.0 1322.7 L373.6 1323.0 L374.2 1323.2 L374.8 1323.4 L375.4 1323.6 L376.1 1323.8 L376.7 1323.8 L377.3 1323.9 L377.9 1323.8 L378.5 1323.7 L379.1 1323.5 L379.7 1323.2 L380.3 1322.8 L380.9 1322.4 L381.5 1321.9 L382.1 1321.5 L382.7 1321.2 L383.3 1321.0 L383.9 1321.0 L384.5 1320.9 L385.1 1321.0 L385.7 1321.0 L386.3 1320.9 L386.9 1320.8 L387.5 1320.5 L388.1 1320.0 L388.7 1319.5 L389.4 1319.0 L390.0 1318.5 L390.6 1318.0 L391.2 1317.7 L391.8 1317.6 L392.4 1317.6 L393.0 1317.7 L393.6 1318.0 L394.2 1318.2 L394.8 1318.5 L395.4 1318.8 L396.0 1319.0 L396.6 1319.1 L397.2 1319.1 L397.8 1318.9 L398.4 1318.6 L399.0 1318.1 L399.6 1317.5 L400.2 1316.8 L400.8 1316.1 L401.4 1315.4 L402.0 1314.9 L402.7 1314.4 L403.3 1314.1 L403.9 1314.0 L404.5 1314.0 L405.1 1314.0 L405.7 1314.1 L406.3 1314.1 L406.9 1314.1 L407.5 1314.1 L408.1 1314.0 L408.7 1313.8 L409.3 1313.4 L409.9 1312.9 L410.5 1312.3 L411.1 1311.6 L411.7 1310.8 L412.3 1310.1 L412.9 1309.4 L413.5 1308.7 L414.1 1308.1 L414.7 1307.6 L415.3 1307.0 L416.0 1306.5 L416.6 1306.1 L417.2 1305.9 L417.8 1305.7 L418.4 1305.6 L419.0 1305.6 L419.6 1305.5 L420.2 1305.3 L420.8 1305.1 L421.4 1304.8 L422.0 1304.5 L422.6 1304.3 L423.2 1304.2 L423.8 1304.0 L424.4 1303.7 L425.0 1303.3 L425.6 1303.0 L426.2 1302.6 L426.8 1302.2 L427.4 1301.9 L428.0 1301.8 L428.6 1301.8 L429.3 1302.0 L429.9 1302.3 L430.5 1302.7 L431.1 1303.2 L431.7 1303.7 L432.3 1304.2 L432.9 1304.8 L433.5 1305.2 L434.1 1305.6 L434.7 1305.7 L435.3 1305.7 L435.9 1305.4 L436.5 1305.0 L437.1 1304.4 L437.7 1303.8 L438.3 1303.1 L438.9 1302.4 L439.5 1301.9 L440.1 1301.4 L440.7 1301.0 L441.3 1300.7 L441.9 1300.6 L442.6 1300.6 L443.2 1300.7 L443.8 1300.8 L444.4 1301.0 L445.0 1301.1 L445.6 1301.2 L446.2 1301.0 L446.8 1300.6 L447.4 1300.0 L448.0 1299.3 L448.6 1298.5 L449.2 1297.8 L449.8 1297.2 L450.4 1296.8 L451.0 1296.6 L451.6 1296.6 L452.2 1296.7 L452.8 1296.9 L453.4 1297.1 L454.0 1297.3 L454.6 1297.5 L455.2 1297.6 L455.9 1297.6 L456.5 1297.6 L457.1 1297.5 L457.7 1297.5 L458.3 1297.5 L458.9 1297.7 L459.5 1298.0 L460.1 1298.4 L460.7 1298.7 L461.3 1299.0 L461.9 1299.2 L462.5 1299.3 L463.1 1299.4 L463.7 1299.5 L464.3 1299.6 L464.9 1299.6 L465.5 1299.6 L466.1 1299.5 L466.7 1299.4 L467.3 1299.4 L467.9 1299.4 L468.5 1299.4 L469.2 1299.4 L469.8 1299.4 L470.4 1299.2 L471.0 1298.9 L471.6 1298.6 L472.2 1298.2 L472.8 1297.8 L473.4 1297.5 L474.0 1297.4 L474.6 1297.4 L475.2 1297.5 L475.8 1297.7 L476.4 1297.9 L477.0 1298.1 L477.6 1298.4 L478.2 1298.6 L478.8 1298.9 L479.4 1299.2 L480.0 1299.5 L480.6 1299.9 L481.2 1300.3 L481.8 1300.6 L482.5 1301.0 L483.1 1301.2 L483.7 1301.1 L484.3 1301.1 L484.9 1301.0 L485.5 1300.7 L486.1 1300.3 L486.7 1299.9 L487.3 1299.5 L487.9 1299.2 L488.5 1299.1 L489.1 1299.0 L489.7 1299.0 L490.3 1299.0 L490.9 1299.1 L491.5 1299.1 L492.1 1299.2 L492.7 1299.1 L493.3 1299.1 L493.9 1299.1 L494.5 1299.1 L495.1 1299.1 L495.8 1299.2 L496.4 1299.3 L497.0 1299.4 L497.6 1299.5 L498.2 1299.6 L498.8 1299.6 L499.4 1299.6 L500.0 1299.4 L500.6 1299.3 L501.2 1299.1 L501.8 1298.8 L502.4 1298.6 L503.0 1298.5 L503.6 1298.3 L504.2 1298.2 L504.8 1298.2 L505.4 1298.1 L506.0 1298.1 L506.6 1298.0 L507.2 1298.0 L507.8 1297.9 L508.4 1297.9 L509.1 1297.9 L509.7 1297.9 L510.3 1297.9 L510.9 1297.8 L511.5 1297.7 L512.1 1297.7 L512.7 1297.6 L513.3 1297.5 L513.9 1297.4 L514.5 1297.4 L515.1 1297.4 L515.7 1297.4 L516.3 1297.4 L516.9 1297.5 L517.5 1297.4 L518.1 1297.4 L518.7 1297.4 L519.3 1297.3 L519.9 1297.2 L520.5 1297.1 L521.1 1297.0 L521.7 1296.9 L522.4 1296.8 L523.0 1296.7 L523.6 1296.6 L524.2 1296.6 L524.8 1296.5 L525.4 1296.4 L526.0 1296.3 L526.6 1296.2 L527.2 1296.1 L527.8 1296.1 L528.4 1296.0 L529.0 1295.9 L529.6 1295.8 L530.2 1295.7 L530.8 1295.6 L531.4 1295.5 L532.0 1295.5 L532.6 1295.5 L533.2 1295.4 L533.8 1295.4 L534.4 1295.3 L535.0 1295.3 L535.7 1295.2 L536.3 1295.2 L536.9 1295.1 L537.5 1295.1 L538.1 1295.0 L538.7 1295.0 L539.3 1294.9 L539.9 1294.9 L540.5 1294.8 L541.1 1294.7 L541.7 1294.6 L542.3 1294.5 L542.9 1294.4 L543.5 1294.3 L544.1 1294.3 L544.7 1294.2 L545.3 1294.1 L545.9 1294.1 L546.5 1294.0 L547.1 1293.9 L547.7 1293.8 L548.3 1293.8 L549.0 1293.7 L549.6 1293.6 L550.2 1293.5 L550.8 1293.4 L551.4 1293.3 L552.0 1293.2 L552.6 1293.1 L553.2 1293.0 L553.8 1292.9 L554.4 1292.9 L555.0 1292.8 L555.6 1292.7 L556.2 1292.6 L556.8 1292.5 L557.4 1292.5 L558.0 1292.3 L558.6 1292.2 L559.2 1292.1 L559.8 1291.9 L560.4 1291.7 L561.0 1291.5 L561.6 1291.2 L561.6 1291.2 L561.0 1291.5 L560.4 1291.7 L559.8 1292.0 L559.2 1292.2 L558.6 1292.4 L558.0 1292.5 L557.4 1292.6 L556.8 1292.8 L556.2 1292.9 L555.6 1293.0 L555.0 1293.1 L554.4 1293.2 L553.8 1293.3 L553.2 1293.4 L552.6 1293.5 L552.0 1293.6 L551.4 1293.8 L550.8 1293.9 L550.2 1294.0 L549.6 1294.1 L549.0 1294.2 L548.3 1294.3 L547.7 1294.4 L547.1 1294.5 L546.5 1294.6 L545.9 1294.7 L545.3 1294.8 L544.7 1294.9 L544.1 1295.0 L543.5 1295.1 L542.9 1295.1 L542.3 1295.2 L541.7 1295.2 L541.1 1295.2 L540.5 1295.3 L539.9 1295.3 L539.3 1295.3 L538.7 1295.4 L538.1 1295.5 L537.5 1295.6 L536.9 1295.7 L536.3 1295.8 L535.7 1296.0 L535.0 1296.2 L534.4 1296.4 L533.8 1296.6 L533.2 1296.8 L532.6 1297.0 L532.0 1297.2 L531.4 1297.3 L530.8 1297.4 L530.2 1297.5 L529.6 1297.7 L529.0 1297.8 L528.4 1297.8 L527.8 1297.9 L527.2 1298.0 L526.6 1298.1 L526.0 1298.2 L525.4 1298.3 L524.8 1298.4 L524.2 1298.5 L523.6 1298.6 L523.0 1298.7 L522.4 1298.8 L521.7 1298.9 L521.1 1298.9 L520.5 1298.9 L519.9 1298.9 L519.3 1299.0 L518.7 1299.0 L518.1 1299.1 L517.5 1299.2 L516.9 1299.3 L516.3 1299.5 L515.7 1299.7 L515.1 1299.8 L514.5 1300.0 L513.9 1300.1 L513.3 1300.3 L512.7 1300.5 L512.1 1300.6 L511.5 1300.8 L510.9 1301.1 L510.3 1301.3 L509.7 1301.5 L509.1 1301.6 L508.4 1301.8 L507.8 1301.9 L507.2 1302.1 L506.6 1302.2 L506.0 1302.3 L505.4 1302.4 L504.8 1302.4 L504.2 1302.5 L503.6 1302.5 L503.0 1302.6 L502.4 1302.6 L501.8 1302.6 L501.2 1302.5 L500.6 1302.4 L500.0 1302.3 L499.4 1302.1 L498.8 1301.9 L498.2 1301.8 L497.6 1301.6 L497.0 1301.6 L496.4 1301.7 L495.8 1301.8 L495.1 1302.1 L494.5 1302.4 L493.9 1302.8 L493.3 1303.2 L492.7 1303.6 L492.1 1303.9 L491.5 1304.2 L490.9 1304.5 L490.3 1304.7 L489.7 1304.8 L489.1 1305.0 L488.5 1305.2 L487.9 1305.3 L487.3 1305.4 L486.7 1305.5 L486.1 1305.5 L485.5 1305.4 L484.9 1305.3 L484.3 1305.3 L483.7 1305.2 L483.1 1305.2 L482.5 1305.3 L481.8 1305.3 L481.2 1305.4 L480.6 1305.5 L480.0 1305.7 L479.4 1305.9 L478.8 1306.2 L478.2 1306.6 L477.6 1307.0 L477.0 1307.5 L476.4 1307.8 L475.8 1308.1 L475.2 1308.2 L474.6 1308.1 L474.0 1307.8 L473.4 1307.5 L472.8 1307.1 L472.2 1306.8 L471.6 1306.6 L471.0 1306.6 L470.4 1306.9 L469.8 1307.3 L469.2 1307.9 L468.5 1308.5 L467.9 1309.1 L467.3 1309.6 L466.7 1310.0 L466.1 1310.3 L465.5 1310.5 L464.9 1310.5 L464.3 1310.6 L463.7 1310.6 L463.1 1310.6 L462.5 1310.6 L461.9 1310.6 L461.3 1310.6 L460.7 1310.6 L460.1 1310.6 L459.5 1310.6 L458.9 1310.6 L458.3 1310.6 L457.7 1310.7 L457.1 1310.8 L456.5 1311.0 L455.9 1311.4 L455.2 1311.8 L454.6 1312.3 L454.0 1312.8 L453.4 1313.2 L452.8 1313.6 L452.2 1313.9 L451.6 1314.1 L451.0 1314.4 L450.4 1314.6 L449.8 1314.9 L449.2 1315.1 L448.6 1315.3 L448.0 1315.4 L447.4 1315.5 L446.8 1315.6 L446.2 1315.7 L445.6 1315.9 L445.0 1316.1 L444.4 1316.4 L443.8 1316.6 L443.2 1316.9 L442.6 1317.1 L441.9 1317.1 L441.3 1316.9 L440.7 1316.4 L440.1 1315.7 L439.5 1314.7 L438.9 1313.8 L438.3 1313.0 L437.7 1312.5 L437.1 1312.5 L436.5 1312.9 L435.9 1313.6 L435.3 1314.6 L434.7 1315.7 L434.1 1316.7 L433.5 1317.7 L432.9 1318.5 L432.3 1319.1 L431.7 1319.8 L431.1 1320.5 L430.5 1321.2 L429.9 1322.0 L429.3 1322.7 L428.6 1323.3 L428.0 1323.7 L427.4 1323.7 L426.8 1323.4 L426.2 1322.8 L425.6 1322.1 L425.0 1321.3 L424.4 1320.7 L423.8 1320.3 L423.2 1320.3 L422.6 1320.5 L422.0 1321.0 L421.4 1321.5 L420.8 1322.0 L420.2 1322.3 L419.6 1322.5 L419.0 1322.4 L418.4 1322.0 L417.8 1321.5 L417.2 1320.9 L416.6 1320.2 L416.0 1319.6 L415.3 1319.2 L414.7 1318.9 L414.1 1318.9 L413.5 1319.2 L412.9 1319.7 L412.3 1320.5 L411.7 1321.3 L411.1 1322.1 L410.5 1322.8 L409.9 1323.4 L409.3 1323.7 L408.7 1323.8 L408.1 1323.8 L407.5 1323.9 L406.9 1324.1 L406.3 1324.4 L405.7 1324.7 L405.1 1325.1 L404.5 1325.4 L403.9 1325.6 L403.3 1325.6 L402.7 1325.5 L402.0 1325.2 L401.4 1324.9 L400.8 1324.6 L400.2 1324.4 L399.6 1324.3 L399.0 1324.5 L398.4 1325.0 L397.8 1325.6 L397.2 1326.4 L396.6 1327.3 L396.0 1328.2 L395.4 1328.8 L394.8 1329.3 L394.2 1329.4 L393.6 1329.1 L393.0 1328.7 L392.4 1328.1 L391.8 1327.7 L391.2 1327.4 L390.6 1327.4 L390.0 1327.7 L389.4 1328.2 L388.7 1328.8 L388.1 1329.6 L387.5 1330.3 L386.9 1330.9 L386.3 1331.5 L385.7 1332.0 L385.1 1332.3 L384.5 1332.6 L383.9 1332.9 L383.3 1333.2 L382.7 1333.4 L382.1 1333.7 L381.5 1334.0 L380.9 1334.2 L380.3 1334.3 L379.7 1334.3 L379.1 1334.3 L378.5 1334.2 L377.9 1334.1 L377.3 1333.7 L376.7 1333.2 L376.1 1332.7 L375.4 1332.2 L374.8 1331.7 L374.2 1331.4 L373.6 1331.2 L373.0 1331.0 L372.4 1331.0 L371.8 1331.1 L371.2 1331.1 L370.6 1331.2 L370.0 1331.3 L369.4 1331.3 L368.8 1331.2 L368.2 1331.1 L367.6 1330.9 L367.0 1330.7 L366.4 1330.5 L365.8 1330.2 L365.2 1330.0 L364.6 1329.9 L364.0 1329.8 L363.4 1329.8 L362.8 1329.9 L362.1 1330.0 L361.5 1330.1 L360.9 1330.2 L360.3 1330.3 L359.7 1330.4 L359.1 1330.4 L358.5 1330.5 L357.9 1330.6 L357.3 1330.8 L356.7 1330.8 L356.1 1330.9 L355.5 1330.8 L354.9 1330.7 L354.3 1330.6 L353.7 1330.4 L353.1 1330.2 L352.5 1330.1 L351.9 1330.0 L351.3 1329.9 L350.7 1329.9 L350.1 1330.0 L349.5 1330.1 L348.8 1330.2 L348.2 1330.3 L347.6 1330.4 L347.0 1330.5 L346.4 1330.6 L345.8 1330.7 L345.2 1330.7 L344.6 1330.6 L344.0 1330.6 L343.4 1330.6 L342.8 1330.5 L342.2 1330.8 L341.6 1331.2 L341.0 1331.6 L340.4 1332.0 L339.8 1332.4 L339.2 1332.9 L338.6 1333.5 L338.0 1334.2 L337.4 1335.2 L336.8 1336.2 L336.2 1337.3 L335.5 1338.4 L334.9 1339.5 L334.3 1340.5 L333.7 1341.6 L333.1 1342.6 L332.5 1343.6 L331.9 1344.5 L331.3 1345.5 L330.7 1346.4 L330.1 1347.4 L329.5 1348.4 L328.9 1349.3 L328.3 1350.3 L327.7 1351.3 L327.1 1352.2 L326.5 1352.9 L325.9 1353.2 L325.3 1351.8 L324.7 1350.3 L324.1 1348.6 L323.5 1346.7 L322.9 1344.6 L322.2 1342.7Z" fill="#B9D9F5" stroke="#B9D9F5" stroke-width="1.2" stroke-linejoin="round"/>
<path d="M180.2 1215.6 L180.8 1214.3 L181.4 1213.1 L182.0 1211.9 L182.6 1210.8 L183.2 1209.6 L183.8 1208.5 L184.4 1207.4 L185.0 1206.5 L185.6 1205.6 L186.2 1204.8 L186.8 1204.1 L187.4 1203.5 L188.0 1202.9 L188.6 1202.3 L189.2 1201.9 L189.9 1201.5 L190.5 1201.1 L191.1 1200.7 L191.7 1200.4 L192.3 1200.0 L192.9 1199.6 L193.5 1199.1 L194.1 1198.7 L194.7 1198.2 L195.3 1197.6 L195.9 1197.1 L196.5 1196.6 L197.1 1196.0 L197.7 1195.5 L198.3 1194.9 L198.9 1194.3 L199.5 1193.7 L200.1 1193.0 L200.7 1192.2 L201.3 1191.4 L201.9 1190.6 L202.5 1189.7 L203.2 1188.8 L203.8 1187.9 L204.4 1186.9 L205.0 1186.0 L205.6 1185.0 L206.2 1184.1 L206.8 1183.2 L207.4 1182.4 L208.0 1181.6 L208.6 1180.9 L209.2 1180.3 L209.8 1179.6 L210.4 1179.0 L211.0 1178.3 L211.6 1177.7 L212.2 1177.0 L212.8 1176.2 L213.4 1175.4 L214.0 1174.6 L214.6 1173.8 L215.2 1173.0 L215.8 1172.2 L216.5 1171.5 L217.1 1170.7 L217.7 1170.0 L218.3 1169.3 L218.9 1168.5 L219.5 1167.7 L220.1 1166.8 L220.7 1165.7 L221.3 1164.6 L221.9 1163.3 L222.5 1161.9 L223.1 1160.5 L223.7 1159.0 L224.3 1157.4 L224.9 1155.9 L225.5 1154.5 L226.1 1153.3 L226.7 1152.2 L227.3 1151.3 L227.9 1150.6 L228.5 1150.0 L229.1 1149.6 L229.8 1149.2 L230.4 1148.8 L231.0 1148.4 L231.6 1147.8 L232.2 1147.2 L232.8 1146.4 L233.4 1145.5 L234.0 1144.4 L234.6 1143.2 L235.2 1141.9 L235.8 1140.4 L236.4 1138.9 L237.0 1137.2 L237.6 1135.5 L238.2 1133.9 L238.8 1132.4 L239.4 1131.0 L240.0 1129.8 L240.6 1128.8 L241.2 1127.9 L241.8 1127.0 L242.4 1126.3 L243.1 1125.5 L243.7 1124.7 L244.3 1123.8 L244.9 1122.9 L245.5 1122.0 L246.1 1121.2 L246.7 1120.3 L247.3 1119.5 L247.9 1118.8 L248.5 1118.0 L249.1 1117.3 L249.7 1116.6 L250.3 1115.8 L250.9 1115.1 L251.5 1114.2 L252.1 1113.3 L252.7 1112.3 L253.3 1111.2 L253.9 1110.1 L254.5 1109.0 L255.1 1108.0 L255.7 1107.0 L256.4 1106.1 L257.0 1105.3 L257.6 1104.6 L258.2 1103.9 L258.8 1103.4 L259.4 1102.9 L260.0 1102.4 L260.6 1102.1 L261.2 1101.7 L261.8 1101.5 L262.4 1101.4 L263.0 1101.3 L263.6 1101.3 L264.2 1101.3 L264.8 1101.2 L265.4 1101.0 L266.0 1100.5 L266.6 1099.9 L267.2 1099.2 L267.8 1098.3 L268.4 1097.4 L269.0 1096.4 L269.7 1095.4 L270.3 1094.4 L270.9 1093.4 L271.5 1092.3 L272.1 1091.1 L272.7 1089.8 L273.3 1088.4 L273.9 1086.9 L274.5 1085.5 L275.1 1084.2 L275.7 1083.1 L276.3 1082.2 L276.9 1081.6 L277.5 1081.4 L278.1 1081.6 L278.7 1082.1 L279.3 1082.9 L279.9 1083.9 L280.5 1085.1 L281.1 1086.5 L281.7 1089.7M322.9 1343.8 L323.5 1344.9 L324.1 1345.8 L324.7 1346.6 L325.3 1347.4 L325.9 1348.0 L326.5 1348.2 L327.1 1348.3 L327.7 1348.2 L328.3 1348.0 L328.9 1347.7 L329.5 1347.3 L330.1 1346.7 L330.7 1346.1 L331.3 1345.3 L331.9 1344.2 L332.5 1343.0 L333.1 1341.8 L333.7 1340.4 L334.3 1339.1 L334.9 1337.8 L335.5 1336.4 L336.2 1335.0 L336.8 1333.6 L337.4 1332.4 L338.0 1331.2 L338.6 1330.4 L339.2 1329.9 L339.8 1329.4 L340.4 1329.1 L341.0 1328.8 L341.6 1328.5 L342.2 1328.2 L342.8 1328.0 L343.4 1328.1 L344.0 1328.2 L344.6 1328.3 L345.2 1328.4 L345.8 1328.6 L346.4 1328.7 L347.0 1328.9 L347.6 1329.0 L348.2 1329.3 L348.8 1329.5 L349.5 1329.7 L350.1 1329.9 L350.7 1330.0 L351.3 1330.1 L351.9 1330.1 L352.5 1329.9 L353.1 1329.6 L353.7 1329.3 L354.3 1328.8 L354.9 1328.3 L355.5 1327.8 L356.1 1327.3 L356.7 1326.8 L357.3 1326.4 L357.9 1326.0 L358.5 1325.8 L359.1 1325.6 L359.7 1325.6 L360.3 1325.6 L360.9 1325.7 L361.5 1325.9 L362.1 1326.2 L362.8 1326.6 L363.4 1326.9 L364.0 1327.3 L364.6 1327.6 L365.2 1327.9 L365.8 1328.2 L366.4 1328.3 L367.0 1328.4 L367.6 1328.5 L368.2 1328.6 L368.8 1328.7 L369.4 1328.8 L370.0 1329.0 L370.6 1329.2 L371.2 1329.4 L371.8 1329.5 L372.4 1329.7 L373.0 1329.8 L373.6 1329.9 L374.2 1329.8 L374.8 1329.7 L375.4 1329.6 L376.1 1329.3 L376.7 1329.1 L377.3 1328.8 L377.9 1328.5 L378.5 1328.3 L379.1 1328.1 L379.7 1327.9 L380.3 1327.7 L380.9 1327.5 L381.5 1327.2 L382.1 1326.8 L382.7 1326.4 L383.3 1325.8 L383.9 1325.1 L384.5 1324.4 L385.1 1323.6 L385.7 1322.8 L386.3 1322.1 L386.9 1321.4 L387.5 1320.9 L388.1 1320.5 L388.7 1320.3 L389.4 1320.2 L390.0 1320.3 L390.6 1320.5 L391.2 1320.9 L391.8 1321.5 L392.4 1322.1 L393.0 1322.7 L393.6 1323.3 L394.2 1323.8 L394.8 1324.1 L395.4 1324.3 L396.0 1324.2 L396.6 1324.0 L397.2 1323.6 L397.8 1323.1 L398.4 1322.5 L399.0 1321.8 L399.6 1321.0 L400.2 1320.3 L400.8 1319.6 L401.4 1318.9 L402.0 1318.3 L402.7 1317.7 L403.3 1317.2 L403.9 1316.7 L404.5 1316.3 L405.1 1315.9 L405.7 1315.4 L406.3 1315.0 L406.9 1314.4 L407.5 1313.9 L408.1 1313.4 L408.7 1312.8 L409.3 1312.2 L409.9 1311.8 L410.5 1311.5 L411.1 1311.4 L411.7 1311.5 L412.3 1311.9 L412.9 1312.4 L413.5 1313.2 L414.1 1314.1 L414.7 1315.1 L415.3 1316.2 L416.0 1317.2 L416.6 1318.2 L417.2 1319.0 L417.8 1319.5 L418.4 1319.9 L419.0 1320.0 L419.6 1319.9 L420.2 1319.5 L420.8 1318.9 L421.4 1318.2 L422.0 1317.3 L422.6 1316.3 L423.2 1315.4 L423.8 1314.5 L424.4 1313.7 L425.0 1313.0 L425.6 1312.5 L426.2 1312.2 L426.8 1312.1 L427.4 1312.2 L428.0 1312.6 L428.6 1313.1 L429.3 1313.7 L429.9 1314.5 L430.5 1315.2 L431.1 1315.8 L431.7 1316.2 L432.3 1316.5 L432.9 1316.5 L433.5 1316.4 L434.1 1316.0 L434.7 1315.4 L435.3 1314.7 L435.9 1313.9 L436.5 1313.0 L437.1 1312.0 L437.7 1311.0 L438.3 1310.0 L438.9 1309.0 L439.5 1308.1 L440.1 1307.3 L440.7 1306.4 L441.3 1305.6 L441.9 1304.8 L442.6 1304.0 L443.2 1303.1 L443.8 1302.3 L444.4 1301.5 L445.0 1300.8 L445.6 1300.3 L446.2 1299.8 L446.8 1299.6 L447.4 1299.5 L448.0 1299.5 L448.6 1299.8 L449.2 1300.2 L449.8 1300.6 L450.4 1301.2 L451.0 1301.8 L451.6 1302.3 L452.2 1302.8 L452.8 1303.2 L453.4 1303.4 L454.0 1303.4 L454.6 1303.3 L455.2 1303.0 L455.9 1302.7 L456.5 1302.3 L457.1 1301.9 L457.7 1301.5 L458.3 1301.2 L458.9 1301.0 L459.5 1300.7 L460.1 1300.5 L460.7 1300.3 L461.3 1300.0 L461.9 1299.7 L462.5 1299.3 L463.1 1299.0 L463.7 1298.6 L464.3 1298.2 L464.9 1298.0 L465.5 1297.8 L466.1 1297.9 L466.7 1298.0 L467.3 1298.3 L467.9 1298.8 L468.5 1299.4 L469.2 1300.1 L469.8 1300.8 L470.4 1301.5 L471.0 1302.0 L471.6 1302.5 L472.2 1302.9 L472.8 1303.1 L473.4 1303.2 L474.0 1303.3 L474.6 1303.3 L475.2 1303.3 L475.8 1303.2 L476.4 1303.2 L477.0 1303.1 L477.6 1303.1 L478.2 1303.0 L478.8 1302.9 L479.4 1302.8 L480.0 1302.6 L480.6 1302.5 L481.2 1302.3 L481.8 1302.1 L482.5 1302.0 L483.1 1301.8 L483.7 1301.7 L484.3 1301.5 L484.9 1301.4 L485.5 1301.4 L486.1 1301.3 L486.7 1301.2 L487.3 1301.1 L487.9 1301.0 L488.5 1301.0 L489.1 1301.0 L489.7 1301.0 L490.3 1301.0 L490.9 1301.1 L491.5 1301.2 L492.1 1301.3 L492.7 1301.3 L493.3 1301.3 L493.9 1301.3 L494.5 1301.2 L495.1 1301.1 L495.8 1301.0 L496.4 1300.8 L497.0 1300.7 L497.6 1300.5 L498.2 1300.4 L498.8 1300.3 L499.4 1300.1 L500.0 1300.0 L500.6 1299.8 L501.2 1299.7 L501.8 1299.5 L502.4 1299.4 L503.0 1299.3 L503.6 1299.2 L504.2 1299.2 L504.8 1299.1 L505.4 1299.1 L506.0 1299.0 L506.6 1299.0 L507.2 1299.0 L507.8 1299.0 L508.4 1299.0 L509.1 1299.0 L509.7 1299.1 L510.3 1299.1 L510.9 1299.1 L511.5 1299.1 L512.1 1299.0 L512.7 1299.0 L513.3 1298.9 L513.9 1298.9 L514.5 1298.8 L515.1 1298.7 L515.7 1298.6 L516.3 1298.5 L516.9 1298.4 L517.5 1298.3 L518.1 1298.2 L518.7 1298.1 L519.3 1298.0 L519.9 1297.9 L520.5 1297.8 L521.1 1297.7 L521.7 1297.6 L522.4 1297.5 L523.0 1297.4 L523.6 1297.3 L524.2 1297.3 L524.8 1297.2 L525.4 1297.1 L526.0 1297.1 L526.6 1297.0 L527.2 1296.9 L527.8 1296.8 L528.4 1296.7 L529.0 1296.6 L529.6 1296.4 L530.2 1296.3 L530.8 1296.2 L531.4 1296.0 L532.0 1295.9 L532.6 1295.8 L533.2 1295.7 L533.8 1295.6 L534.4 1295.5 L535.0 1295.4 L535.7 1295.4 L536.3 1295.3 L536.9 1295.2 L537.5 1295.1 L538.1 1295.0 L538.7 1294.9 L539.3 1294.8 L539.9 1294.7 L540.5 1294.6 L541.1 1294.6 L541.7 1294.5 L542.3 1294.4 L542.9 1294.4 L543.5 1294.3 L544.1 1294.2 L544.7 1294.2 L545.3 1294.1 L545.9 1294.0 L546.5 1293.9 L547.1 1293.9 L547.7 1293.8 L548.3 1293.7 L549.0 1293.6 L549.6 1293.5 L550.2 1293.5 L550.8 1293.4 L551.4 1293.3 L552.0 1293.3 L552.6 1293.2 L553.2 1293.1 L553.8 1293.1 L554.4 1293.0 L555.0 1292.9 L555.6 1292.8 L556.2 1292.7 L556.8 1292.6 L557.4 1292.5 L558.0 1292.4 L558.6 1292.3 L559.2 1292.1 L559.8 1291.9 L560.4 1291.7 L561.0 1291.5" fill="none" stroke="#B9D9F5" stroke-width="2.4" stroke-linejoin="round" stroke-linecap="round"/>
<path d="M180.2 1215.5 L180.8 1214.3 L181.4 1213.0 L182.0 1211.8 L182.6 1210.6 L183.2 1209.4 L183.8 1208.2 L184.4 1207.1 L185.0 1206.1 L185.6 1205.3 L186.2 1204.5 L186.8 1203.8 L187.4 1203.2 L188.0 1202.6 L188.6 1202.2 L189.2 1201.7 L189.9 1201.4 L190.5 1201.0 L191.1 1200.7 L191.7 1200.4 L192.3 1200.1 L192.9 1199.9 L193.5 1199.6 L194.1 1199.2 L194.7 1198.8 L195.3 1198.3 L195.9 1197.8 L196.5 1197.2 L197.1 1196.6 L197.7 1196.0 L198.3 1195.4 L198.9 1194.7 L199.5 1194.1 L200.1 1193.4 L200.7 1192.8 L201.3 1192.2 L201.9 1191.6 L202.5 1191.0 L203.2 1190.3 L203.8 1189.6 L204.4 1188.8 L205.0 1187.9 L205.6 1187.1 L206.2 1186.2 L206.8 1185.3 L207.4 1184.5 L208.0 1183.7 L208.6 1182.9 L209.2 1182.1 L209.8 1181.4 L210.4 1180.6 L211.0 1179.8 L211.6 1179.1 L212.2 1178.3 L212.8 1177.4 L213.4 1176.6 L214.0 1175.8 L214.6 1175.1 L215.2 1174.4 L215.8 1173.8 L216.5 1173.4 L217.1 1172.9 L217.7 1172.6 L218.3 1172.2 L218.9 1171.9 L219.5 1171.4 L220.1 1170.9 L220.7 1170.2 L221.3 1169.3 L221.9 1168.3 L222.5 1167.1 L223.1 1165.8 L223.7 1164.3 L224.3 1162.8 L224.9 1161.2 L225.5 1159.5 L226.1 1158.0 L226.7 1156.5 L227.3 1155.3 L227.9 1154.3 L228.5 1153.5 L229.1 1153.0 L229.8 1152.7 L230.4 1152.5 L231.0 1152.3 L231.6 1152.1 L232.2 1151.7 L232.8 1151.1 L233.4 1150.4 L234.0 1149.5 L234.6 1148.6 L235.2 1147.7 L235.8 1146.8 L236.4 1146.1 L237.0 1145.4 L237.6 1144.9 L238.2 1144.4 L238.8 1143.9 L239.4 1143.5 L240.0 1143.0 L240.6 1142.4 L241.2 1141.7 L241.8 1140.8 L242.4 1139.8 L243.1 1138.6 L243.7 1137.2 L244.3 1135.8 L244.9 1134.3 L245.5 1132.7 L246.1 1131.1 L246.7 1129.6 L247.3 1128.0 L247.9 1126.4 L248.5 1124.9 L249.1 1123.4 L249.7 1122.1 L250.3 1120.9 L250.9 1119.9 L251.5 1119.0 L252.1 1118.3 L252.7 1117.5 L253.3 1116.8 L253.9 1116.1 L254.5 1115.2 L255.1 1114.3 L255.7 1113.4 L256.4 1112.4 L257.0 1111.5 L257.6 1110.6 L258.2 1109.7 L258.8 1108.9 L259.4 1108.0 L260.0 1107.1 L260.6 1106.0 L261.2 1104.9 L261.8 1103.5 L262.4 1102.2 L263.0 1100.9 L263.6 1099.6 L264.2 1098.6 L264.8 1097.9 L265.4 1097.3 L266.0 1097.0 L266.6 1096.8 L267.2 1096.6 L267.8 1096.4 L268.4 1096.0 L269.0 1095.4 L269.7 1094.6 L270.3 1093.7 L270.9 1092.5 L271.5 1091.2 L272.1 1089.8 L272.7 1088.2 L273.3 1086.6 L273.9 1084.8 L274.5 1083.1 L275.1 1081.4 L275.7 1079.8 L276.3 1078.4 L276.9 1077.4 L277.5 1076.7 L278.1 1076.9 L278.7 1077.7 L279.3 1079.0 L279.9 1080.8 L280.5 1082.9 L281.1 1085.4 L281.7 1089.7M322.9 1344.3 L323.5 1345.7 L324.1 1347.0 L324.7 1348.0 L325.3 1348.8 L325.9 1349.4 L326.5 1349.4 L327.1 1349.2 L327.7 1349.0 L328.3 1348.7 L328.9 1348.2 L329.5 1347.7 L330.1 1347.0 L330.7 1346.3 L331.3 1345.4 L331.9 1344.3 L332.5 1342.9 L333.1 1341.6 L333.7 1340.2 L334.3 1338.8 L334.9 1337.4 L335.5 1336.0 L336.2 1334.7 L336.8 1333.4 L337.4 1332.2 L338.0 1331.2 L338.6 1330.6 L339.2 1330.1 L339.8 1329.7 L340.4 1329.4 L341.0 1329.1 L341.6 1328.8 L342.2 1328.4 L342.8 1328.1 L343.4 1328.0 L344.0 1327.9 L344.6 1327.8 L345.2 1327.6 L345.8 1327.5 L346.4 1327.3 L347.0 1327.0 L347.6 1326.9 L348.2 1326.7 L348.8 1326.6 L349.5 1326.5 L350.1 1326.5 L350.7 1326.5 L351.3 1326.5 L351.9 1326.5 L352.5 1326.5 L353.1 1326.6 L353.7 1326.6 L354.3 1326.5 L354.9 1326.5 L355.5 1326.4 L356.1 1326.3 L356.7 1326.1 L357.3 1326.0 L357.9 1325.8 L358.5 1325.7 L359.1 1325.6 L359.7 1325.6 L360.3 1325.7 L360.9 1325.9 L361.5 1326.3 L362.1 1326.7 L362.8 1327.2 L363.4 1327.7 L364.0 1328.2 L364.6 1328.7 L365.2 1329.1 L365.8 1329.4 L366.4 1329.7 L367.0 1329.8 L367.6 1329.9 L368.2 1329.9 L368.8 1329.9 L369.4 1329.9 L370.0 1329.8 L370.6 1329.8 L371.2 1329.7 L371.8 1329.5 L372.4 1329.3 L373.0 1329.1 L373.6 1328.8 L374.2 1328.5 L374.8 1328.1 L375.4 1327.8 L376.1 1327.5 L376.7 1327.3 L377.3 1327.1 L377.9 1327.1 L378.5 1327.1 L379.1 1327.2 L379.7 1327.2 L380.3 1327.2 L380.9 1327.1 L381.5 1326.8 L382.1 1326.4 L382.7 1325.9 L383.3 1325.3 L383.9 1324.7 L384.5 1324.2 L385.1 1323.8 L385.7 1323.6 L386.3 1323.6 L386.9 1323.8 L387.5 1324.1 L388.1 1324.4 L388.7 1324.7 L389.4 1325.0 L390.0 1325.2 L390.6 1325.2 L391.2 1325.1 L391.8 1325.0 L392.4 1324.9 L393.0 1324.7 L393.6 1324.7 L394.2 1324.6 L394.8 1324.5 L395.4 1324.4 L396.0 1324.3 L396.6 1324.1 L397.2 1323.9 L397.8 1323.6 L398.4 1323.2 L399.0 1322.8 L399.6 1322.3 L400.2 1321.7 L400.8 1321.1 L401.4 1320.5 L402.0 1319.9 L402.7 1319.3 L403.3 1318.6 L403.9 1318.1 L404.5 1317.5 L405.1 1316.9 L405.7 1316.3 L406.3 1315.7 L406.9 1315.2 L407.5 1314.7 L408.1 1314.3 L408.7 1314.0 L409.3 1313.7 L409.9 1313.6 L410.5 1313.5 L411.1 1313.4 L411.7 1313.4 L412.3 1313.4 L412.9 1313.3 L413.5 1313.0 L414.1 1312.8 L414.7 1312.4 L415.3 1312.0 L416.0 1311.6 L416.6 1311.2 L417.2 1310.8 L417.8 1310.4 L418.4 1310.0 L419.0 1309.4 L419.6 1308.8 L420.2 1308.1 L420.8 1307.3 L421.4 1306.5 L422.0 1305.9 L422.6 1305.5 L423.2 1305.4 L423.8 1305.6 L424.4 1306.0 L425.0 1306.7 L425.6 1307.4 L426.2 1308.1 L426.8 1308.6 L427.4 1309.0 L428.0 1309.3 L428.6 1309.3 L429.3 1309.1 L429.9 1308.8 L430.5 1308.5 L431.1 1308.2 L431.7 1307.9 L432.3 1307.8 L432.9 1307.8 L433.5 1307.9 L434.1 1308.1 L434.7 1308.5 L435.3 1308.8 L435.9 1309.2 L436.5 1309.4 L437.1 1309.6 L437.7 1309.6 L438.3 1309.4 L438.9 1309.0 L439.5 1308.5 L440.1 1307.9 L440.7 1307.2 L441.3 1306.6 L441.9 1306.0 L442.6 1305.5 L443.2 1305.2 L443.8 1305.1 L444.4 1305.0 L445.0 1305.2 L445.6 1305.4 L446.2 1305.7 L446.8 1306.1 L447.4 1306.5 L448.0 1306.8 L448.6 1307.0 L449.2 1307.1 L449.8 1307.0 L450.4 1306.7 L451.0 1306.1 L451.6 1305.4 L452.2 1304.6 L452.8 1303.7 L453.4 1302.9 L454.0 1302.1 L454.6 1301.5 L455.2 1301.1 L455.9 1301.0 L456.5 1301.0 L457.1 1301.3 L457.7 1301.8 L458.3 1302.3 L458.9 1302.9 L459.5 1303.5 L460.1 1304.1 L460.7 1304.6 L461.3 1304.9 L461.9 1305.1 L462.5 1305.3 L463.1 1305.5 L463.7 1305.6 L464.3 1305.9 L464.9 1306.1 L465.5 1306.4 L466.1 1306.7 L466.7 1306.8 L467.3 1306.9 L467.9 1306.8 L468.5 1306.6 L469.2 1306.3 L469.8 1305.8 L470.4 1305.1 L471.0 1304.5 L471.6 1303.8 L472.2 1303.1 L472.8 1302.5 L473.4 1302.0 L474.0 1301.7 L474.6 1301.5 L475.2 1301.5 L475.8 1301.6 L476.4 1301.8 L477.0 1302.1 L477.6 1302.3 L478.2 1302.5 L478.8 1302.7 L479.4 1302.7 L480.0 1302.6 L480.6 1302.4 L481.2 1302.0 L481.8 1301.6 L482.5 1301.1 L483.1 1300.5 L483.7 1300.1 L484.3 1299.7 L484.9 1299.4 L485.5 1299.2 L486.1 1299.1 L486.7 1299.1 L487.3 1299.2 L487.9 1299.4 L488.5 1299.6 L489.1 1299.9 L489.7 1300.2 L490.3 1300.6 L490.9 1301.0 L491.5 1301.3 L492.1 1301.6 L492.7 1301.9 L493.3 1302.1 L493.9 1302.2 L494.5 1302.2 L495.1 1302.2 L495.8 1302.0 L496.4 1301.9 L497.0 1301.6 L497.6 1301.4 L498.2 1301.1 L498.8 1300.9 L499.4 1300.7 L500.0 1300.5 L500.6 1300.3 L501.2 1300.3 L501.8 1300.2 L502.4 1300.2 L503.0 1300.2 L503.6 1300.2 L504.2 1300.2 L504.8 1300.2 L505.4 1300.1 L506.0 1300.0 L506.6 1300.0 L507.2 1299.9 L507.8 1299.8 L508.4 1299.7 L509.1 1299.7 L509.7 1299.6 L510.3 1299.6 L510.9 1299.5 L511.5 1299.5 L512.1 1299.4 L512.7 1299.4 L513.3 1299.3 L513.9 1299.2 L514.5 1299.1 L515.1 1299.0 L515.7 1298.9 L516.3 1298.8 L516.9 1298.6 L517.5 1298.5 L518.1 1298.3 L518.7 1298.1 L519.3 1298.0 L519.9 1297.8 L520.5 1297.6 L521.1 1297.4 L521.7 1297.3 L522.4 1297.1 L523.0 1297.0 L523.6 1296.9 L524.2 1296.8 L524.8 1296.7 L525.4 1296.7 L526.0 1296.7 L526.6 1296.6 L527.2 1296.6 L527.8 1296.6 L528.4 1296.7 L529.0 1296.7 L529.6 1296.7 L530.2 1296.7 L530.8 1296.7 L531.4 1296.7 L532.0 1296.6 L532.6 1296.6 L533.2 1296.5 L533.8 1296.4 L534.4 1296.3 L535.0 1296.1 L535.7 1296.0 L536.3 1295.9 L536.9 1295.7 L537.5 1295.6 L538.1 1295.5 L538.7 1295.4 L539.3 1295.3 L539.9 1295.2 L540.5 1295.1 L541.1 1295.0 L541.7 1294.9 L542.3 1294.9 L542.9 1294.8 L543.5 1294.8 L544.1 1294.7 L544.7 1294.6 L545.3 1294.6 L545.9 1294.5 L546.5 1294.4 L547.1 1294.4 L547.7 1294.3 L548.3 1294.2 L549.0 1294.1 L549.6 1294.0 L550.2 1293.9 L550.8 1293.8 L551.4 1293.7 L552.0 1293.5 L552.6 1293.4 L553.2 1293.3 L553.8 1293.2 L554.4 1293.1 L555.0 1293.0 L555.6 1292.9 L556.2 1292.8 L556.8 1292.7 L557.4 1292.6 L558.0 1292.5 L558.6 1292.3 L559.2 1292.2 L559.8 1292.0 L560.4 1291.7 L561.0 1291.5" fill="none" stroke="#B9D9F5" stroke-width="2.4" stroke-linejoin="round" stroke-linecap="round"/>
<path d="M180.2 1215.5 L180.8 1214.2 L181.4 1213.0 L182.0 1211.7 L182.6 1210.5 L183.2 1209.4 L183.8 1208.3 L184.4 1207.3 L185.0 1206.5 L185.6 1205.7 L186.2 1205.0 L186.8 1204.3 L187.4 1203.7 L188.0 1203.1 L188.6 1202.5 L189.2 1202.0 L189.9 1201.4 L190.5 1201.0 L191.1 1200.5 L191.7 1200.1 L192.3 1199.7 L192.9 1199.4 L193.5 1199.0 L194.1 1198.7 L194.7 1198.3 L195.3 1197.9 L195.9 1197.4 L196.5 1196.9 L197.1 1196.3 L197.7 1195.6 L198.3 1194.9 L198.9 1194.1 L199.5 1193.3 L200.1 1192.4 L200.7 1191.5 L201.3 1190.6 L201.9 1189.7 L202.5 1188.7 L203.2 1187.8 L203.8 1186.8 L204.4 1185.9 L205.0 1185.0 L205.6 1184.2 L206.2 1183.4 L206.8 1182.7 L207.4 1182.0 L208.0 1181.4 L208.6 1180.7 L209.2 1180.1 L209.8 1179.5 L210.4 1178.8 L211.0 1178.0 L211.6 1177.2 L212.2 1176.3 L212.8 1175.3 L213.4 1174.2 L214.0 1173.0 L214.6 1171.7 L215.2 1170.3 L215.8 1169.0 L216.5 1167.6 L217.1 1166.3 L217.7 1165.0 L218.3 1163.9 L218.9 1162.9 L219.5 1162.1 L220.1 1161.3 L220.7 1160.6 L221.3 1160.1 L221.9 1159.5 L222.5 1159.1 L223.1 1158.6 L223.7 1158.3 L224.3 1157.9 L224.9 1157.5 L225.5 1157.1 L226.1 1156.7 L226.7 1156.2 L227.3 1155.6 L227.9 1154.9 L228.5 1154.2 L229.1 1153.3 L229.8 1152.5 L230.4 1151.6 L231.0 1150.7 L231.6 1149.9 L232.2 1149.0 L232.8 1148.2 L233.4 1147.3 L234.0 1146.3 L234.6 1145.3 L235.2 1144.3 L235.8 1143.2 L236.4 1142.1 L237.0 1140.9 L237.6 1139.7 L238.2 1138.5 L238.8 1137.3 L239.4 1135.9 L240.0 1134.6 L240.6 1133.3 L241.2 1131.9 L241.8 1130.7 L242.4 1129.5 L243.1 1128.5 L243.7 1127.5 L244.3 1126.6 L244.9 1125.7 L245.5 1124.9 L246.1 1124.0 L246.7 1123.0 L247.3 1122.0 L247.9 1120.8 L248.5 1119.6 L249.1 1118.3 L249.7 1117.0 L250.3 1115.6 L250.9 1114.3 L251.5 1113.0 L252.1 1111.7 L252.7 1110.5 L253.3 1109.5 L253.9 1108.5 L254.5 1107.5 L255.1 1106.6 L255.7 1105.8 L256.4 1104.9 L257.0 1104.0 L257.6 1103.1 L258.2 1102.2 L258.8 1101.3 L259.4 1100.6 L260.0 1100.0 L260.6 1099.6 L261.2 1099.6 L261.8 1099.7 L262.4 1100.1 L263.0 1100.6 L263.6 1101.1 L264.2 1101.7 L264.8 1102.1 L265.4 1102.3 L266.0 1102.4 L266.6 1102.2 L267.2 1101.8 L267.8 1101.2 L268.4 1100.4 L269.0 1099.5 L269.7 1098.5 L270.3 1097.4 L270.9 1096.3 L271.5 1095.1 L272.1 1093.8 L272.7 1092.6 L273.3 1091.2 L273.9 1089.9 L274.5 1088.7 L275.1 1087.7 L275.7 1086.8 L276.3 1086.2 L276.9 1086.0 L277.5 1086.0 L278.1 1086.3 L278.7 1086.8 L279.3 1087.7 L279.9 1088.7 L280.5 1090.0 L281.1 1091.5 L281.7 1092.8M322.9 1344.3 L323.5 1345.8 L324.1 1347.2 L324.7 1348.5 L325.3 1349.6 L325.9 1350.5 L326.5 1350.6 L327.1 1350.4 L327.7 1350.1 L328.3 1349.6 L328.9 1349.1 L329.5 1348.5 L330.1 1347.8 L330.7 1346.9 L331.3 1346.0 L331.9 1344.9 L332.5 1343.8 L333.1 1342.6 L333.7 1341.3 L334.3 1340.0 L334.9 1338.7 L335.5 1337.4 L336.2 1336.1 L336.8 1334.7 L337.4 1333.4 L338.0 1332.2 L338.6 1331.3 L339.2 1330.6 L339.8 1330.0 L340.4 1329.4 L341.0 1328.9 L341.6 1328.4 L342.2 1328.0 L342.8 1327.6 L343.4 1327.6 L344.0 1327.5 L344.6 1327.5 L345.2 1327.5 L345.8 1327.5 L346.4 1327.4 L347.0 1327.4 L347.6 1327.3 L348.2 1327.3 L348.8 1327.2 L349.5 1327.1 L350.1 1327.0 L350.7 1326.9 L351.3 1326.9 L351.9 1326.8 L352.5 1326.7 L353.1 1326.6 L353.7 1326.5 L354.3 1326.4 L354.9 1326.2 L355.5 1326.0 L356.1 1325.8 L356.7 1325.6 L357.3 1325.4 L357.9 1325.3 L358.5 1325.2 L359.1 1325.2 L359.7 1325.3 L360.3 1325.4 L360.9 1325.7 L361.5 1325.9 L362.1 1326.2 L362.8 1326.5 L363.4 1326.8 L364.0 1327.1 L364.6 1327.4 L365.2 1327.6 L365.8 1327.7 L366.4 1327.8 L367.0 1327.7 L367.6 1327.5 L368.2 1327.3 L368.8 1327.0 L369.4 1326.7 L370.0 1326.4 L370.6 1326.1 L371.2 1326.0 L371.8 1325.8 L372.4 1325.8 L373.0 1325.8 L373.6 1325.9 L374.2 1326.1 L374.8 1326.3 L375.4 1326.5 L376.1 1326.7 L376.7 1327.0 L377.3 1327.3 L377.9 1327.5 L378.5 1327.8 L379.1 1328.0 L379.7 1328.2 L380.3 1328.3 L380.9 1328.4 L381.5 1328.4 L382.1 1328.4 L382.7 1328.3 L383.3 1328.1 L383.9 1327.8 L384.5 1327.5 L385.1 1327.0 L385.7 1326.5 L386.3 1325.9 L386.9 1325.3 L387.5 1324.6 L388.1 1324.0 L388.7 1323.6 L389.4 1323.2 L390.0 1322.9 L390.6 1322.8 L391.2 1322.8 L391.8 1322.8 L392.4 1322.9 L393.0 1323.0 L393.6 1323.0 L394.2 1323.0 L394.8 1322.9 L395.4 1322.8 L396.0 1322.7 L396.6 1322.6 L397.2 1322.5 L397.8 1322.5 L398.4 1322.5 L399.0 1322.6 L399.6 1322.6 L400.2 1322.7 L400.8 1322.8 L401.4 1322.7 L402.0 1322.7 L402.7 1322.6 L403.3 1322.4 L403.9 1322.3 L404.5 1322.2 L405.1 1322.1 L405.7 1322.0 L406.3 1321.9 L406.9 1321.8 L407.5 1321.7 L408.1 1321.5 L408.7 1321.4 L409.3 1321.2 L409.9 1320.9 L410.5 1320.4 L411.1 1319.9 L411.7 1319.3 L412.3 1318.6 L412.9 1318.0 L413.5 1317.5 L414.1 1317.0 L414.7 1316.7 L415.3 1316.5 L416.0 1316.4 L416.6 1316.5 L417.2 1316.6 L417.8 1316.7 L418.4 1316.8 L419.0 1317.0 L419.6 1317.1 L420.2 1317.1 L420.8 1317.1 L421.4 1317.1 L422.0 1317.0 L422.6 1316.9 L423.2 1316.7 L423.8 1316.5 L424.4 1316.2 L425.0 1315.8 L425.6 1315.3 L426.2 1314.8 L426.8 1314.2 L427.4 1313.6 L428.0 1313.0 L428.6 1312.5 L429.3 1312.1 L429.9 1311.8 L430.5 1311.7 L431.1 1311.6 L431.7 1311.7 L432.3 1311.7 L432.9 1311.7 L433.5 1311.7 L434.1 1311.5 L434.7 1311.3 L435.3 1311.1 L435.9 1310.8 L436.5 1310.5 L437.1 1310.4 L437.7 1310.3 L438.3 1310.4 L438.9 1310.7 L439.5 1311.1 L440.1 1311.7 L440.7 1312.3 L441.3 1313.0 L441.9 1313.6 L442.6 1314.2 L443.2 1314.7 L443.8 1315.1 L444.4 1315.3 L445.0 1315.3 L445.6 1315.2 L446.2 1314.8 L446.8 1314.4 L447.4 1313.8 L448.0 1313.1 L448.6 1312.4 L449.2 1311.8 L449.8 1311.1 L450.4 1310.5 L451.0 1309.9 L451.6 1309.3 L452.2 1308.8 L452.8 1308.2 L453.4 1307.7 L454.0 1307.3 L454.6 1306.9 L455.2 1306.6 L455.9 1306.5 L456.5 1306.4 L457.1 1306.4 L457.7 1306.5 L458.3 1306.5 L458.9 1306.6 L459.5 1306.6 L460.1 1306.6 L460.7 1306.5 L461.3 1306.4 L461.9 1306.2 L462.5 1305.9 L463.1 1305.6 L463.7 1305.1 L464.3 1304.6 L464.9 1304.0 L465.5 1303.3 L466.1 1302.7 L466.7 1302.1 L467.3 1301.6 L467.9 1301.1 L468.5 1300.9 L469.2 1300.8 L469.8 1300.8 L470.4 1300.8 L471.0 1301.0 L471.6 1301.1 L472.2 1301.2 L472.8 1301.3 L473.4 1301.4 L474.0 1301.4 L474.6 1301.4 L475.2 1301.4 L475.8 1301.4 L476.4 1301.5 L477.0 1301.5 L477.6 1301.6 L478.2 1301.6 L478.8 1301.7 L479.4 1301.7 L480.0 1301.7 L480.6 1301.6 L481.2 1301.6 L481.8 1301.5 L482.5 1301.4 L483.1 1301.3 L483.7 1301.1 L484.3 1301.0 L484.9 1300.8 L485.5 1300.7 L486.1 1300.6 L486.7 1300.4 L487.3 1300.3 L487.9 1300.2 L488.5 1300.1 L489.1 1300.1 L489.7 1300.1 L490.3 1300.1 L490.9 1300.1 L491.5 1300.2 L492.1 1300.3 L492.7 1300.5 L493.3 1300.6 L493.9 1300.7 L494.5 1300.8 L495.1 1300.9 L495.8 1301.0 L496.4 1300.9 L497.0 1300.9 L497.6 1300.7 L498.2 1300.5 L498.8 1300.3 L499.4 1300.1 L500.0 1299.9 L500.6 1299.7 L501.2 1299.5 L501.8 1299.4 L502.4 1299.4 L503.0 1299.4 L503.6 1299.4 L504.2 1299.4 L504.8 1299.5 L505.4 1299.6 L506.0 1299.6 L506.6 1299.7 L507.2 1299.7 L507.8 1299.7 L508.4 1299.6 L509.1 1299.6 L509.7 1299.6 L510.3 1299.6 L510.9 1299.5 L511.5 1299.5 L512.1 1299.5 L512.7 1299.5 L513.3 1299.5 L513.9 1299.5 L514.5 1299.5 L515.1 1299.5 L515.7 1299.4 L516.3 1299.3 L516.9 1299.2 L517.5 1299.1 L518.1 1298.9 L518.7 1298.8 L519.3 1298.7 L519.9 1298.5 L520.5 1298.4 L521.1 1298.2 L521.7 1298.1 L522.4 1297.9 L523.0 1297.7 L523.6 1297.5 L524.2 1297.3 L524.8 1297.1 L525.4 1297.0 L526.0 1296.8 L526.6 1296.7 L527.2 1296.5 L527.8 1296.5 L528.4 1296.4 L529.0 1296.3 L529.6 1296.3 L530.2 1296.3 L530.8 1296.3 L531.4 1296.2 L532.0 1296.2 L532.6 1296.2 L533.2 1296.2 L533.8 1296.2 L534.4 1296.1 L535.0 1296.1 L535.7 1296.1 L536.3 1296.0 L536.9 1296.0 L537.5 1295.9 L538.1 1295.9 L538.7 1295.8 L539.3 1295.7 L539.9 1295.7 L540.5 1295.6 L541.1 1295.5 L541.7 1295.4 L542.3 1295.3 L542.9 1295.1 L543.5 1295.0 L544.1 1294.9 L544.7 1294.7 L545.3 1294.6 L545.9 1294.4 L546.5 1294.3 L547.1 1294.2 L547.7 1294.1 L548.3 1294.0 L549.0 1293.9 L549.6 1293.8 L550.2 1293.7 L550.8 1293.6 L551.4 1293.5 L552.0 1293.4 L552.6 1293.3 L553.2 1293.2 L553.8 1293.1 L554.4 1293.0 L555.0 1292.9 L555.6 1292.8 L556.2 1292.7 L556.8 1292.6 L557.4 1292.5 L558.0 1292.4 L558.6 1292.3 L559.2 1292.1 L559.8 1291.9 L560.4 1291.7 L561.0 1291.5" fill="none" stroke="#B9D9F5" stroke-width="2.4" stroke-linejoin="round" stroke-linecap="round"/>
<path d="M180.2 1215.6 L180.8 1214.4 L181.4 1213.2 L182.0 1212.0 L182.6 1210.8 L183.2 1209.7 L183.8 1208.5 L184.4 1207.4 L185.0 1206.5 L185.6 1205.6 L186.2 1204.8 L186.8 1204.2 L187.4 1203.6 L188.0 1203.0 L188.6 1202.6 L189.2 1202.2 L189.9 1201.9 L190.5 1201.5 L191.1 1201.2 L191.7 1200.9 L192.3 1200.5 L192.9 1200.1 L193.5 1199.7 L194.1 1199.3 L194.7 1198.8 L195.3 1198.4 L195.9 1197.9 L196.5 1197.3 L197.1 1196.8 L197.7 1196.2 L198.3 1195.6 L198.9 1194.9 L199.5 1194.1 L200.1 1193.3 L200.7 1192.5 L201.3 1191.7 L201.9 1190.8 L202.5 1190.0 L203.2 1189.1 L203.8 1188.4 L204.4 1187.7 L205.0 1187.0 L205.6 1186.5 L206.2 1185.9 L206.8 1185.3 L207.4 1184.8 L208.0 1184.2 L208.6 1183.5 L209.2 1182.8 L209.8 1182.1 L210.4 1181.3 L211.0 1180.5 L211.6 1179.8 L212.2 1179.0 L212.8 1178.1 L213.4 1177.3 L214.0 1176.5 L214.6 1175.6 L215.2 1174.7 L215.8 1173.8 L216.5 1172.7 L217.1 1171.7 L217.7 1170.5 L218.3 1169.4 L218.9 1168.2 L219.5 1167.0 L220.1 1165.9 L220.7 1164.8 L221.3 1163.8 L221.9 1162.8 L222.5 1161.9 L223.1 1161.0 L223.7 1160.2 L224.3 1159.4 L224.9 1158.7 L225.5 1158.1 L226.1 1157.5 L226.7 1157.0 L227.3 1156.6 L227.9 1156.2 L228.5 1155.8 L229.1 1155.4 L229.8 1155.0 L230.4 1154.6 L231.0 1154.1 L231.6 1153.7 L232.2 1153.2 L232.8 1152.8 L233.4 1152.3 L234.0 1151.8 L234.6 1151.1 L235.2 1150.3 L235.8 1149.3 L236.4 1148.0 L237.0 1146.5 L237.6 1144.9 L238.2 1143.0 L238.8 1141.1 L239.4 1139.2 L240.0 1137.5 L240.6 1135.8 L241.2 1134.3 L241.8 1133.0 L242.4 1131.8 L243.1 1130.8 L243.7 1129.9 L244.3 1129.1 L244.9 1128.4 L245.5 1127.7 L246.1 1127.1 L246.7 1126.4 L247.3 1125.8 L247.9 1125.1 L248.5 1124.4 L249.1 1123.6 L249.7 1122.9 L250.3 1122.2 L250.9 1121.5 L251.5 1120.8 L252.1 1120.1 L252.7 1119.4 L253.3 1118.8 L253.9 1118.1 L254.5 1117.5 L255.1 1116.9 L255.7 1116.3 L256.4 1115.6 L257.0 1115.0 L257.6 1114.4 L258.2 1113.8 L258.8 1113.1 L259.4 1112.3 L260.0 1111.4 L260.6 1110.4 L261.2 1109.2 L261.8 1107.9 L262.4 1106.4 L263.0 1104.9 L263.6 1103.4 L264.2 1101.8 L264.8 1100.3 L265.4 1098.8 L266.0 1097.3 L266.6 1095.8 L267.2 1094.3 L267.8 1092.7 L268.4 1091.0 L269.0 1089.3 L269.7 1087.6 L270.3 1085.9 L270.9 1084.2 L271.5 1082.6 L272.1 1081.0 L272.7 1079.6 L273.3 1078.4 L273.9 1077.4 L274.5 1076.7 L275.1 1076.3 L275.7 1076.3 L276.3 1076.6 L276.9 1077.2 L277.5 1078.2 L278.1 1079.6 L278.7 1081.3 L279.3 1083.0 L279.9 1084.7 L280.5 1086.5 L281.1 1088.4 L281.7 1091.1M322.9 1344.2 L323.5 1345.6 L324.1 1346.9 L324.7 1348.1 L325.3 1349.1 L325.9 1349.9 L326.5 1350.1 L327.1 1349.9 L327.7 1349.7 L328.3 1349.4 L328.9 1348.9 L329.5 1348.4 L330.1 1347.8 L330.7 1347.0 L331.3 1346.1 L331.9 1345.1 L332.5 1343.9 L333.1 1342.7 L333.7 1341.4 L334.3 1340.2 L334.9 1338.9 L335.5 1337.6 L336.2 1336.3 L336.8 1335.1 L337.4 1333.9 L338.0 1332.9 L338.6 1332.1 L339.2 1331.6 L339.8 1331.1 L340.4 1330.7 L341.0 1330.2 L341.6 1329.8 L342.2 1329.3 L342.8 1328.8 L343.4 1328.6 L344.0 1328.3 L344.6 1328.0 L345.2 1327.7 L345.8 1327.4 L346.4 1327.1 L347.0 1326.7 L347.6 1326.4 L348.2 1326.1 L348.8 1325.9 L349.5 1325.7 L350.1 1325.5 L350.7 1325.4 L351.3 1325.3 L351.9 1325.3 L352.5 1325.4 L353.1 1325.5 L353.7 1325.6 L354.3 1325.8 L354.9 1325.9 L355.5 1326.0 L356.1 1326.2 L356.7 1326.3 L357.3 1326.4 L357.9 1326.5 L358.5 1326.6 L359.1 1326.7 L359.7 1326.9 L360.3 1327.0 L360.9 1327.0 L361.5 1327.0 L362.1 1327.0 L362.8 1327.0 L363.4 1327.0 L364.0 1327.1 L364.6 1327.2 L365.2 1327.3 L365.8 1327.5 L366.4 1327.8 L367.0 1328.0 L367.6 1328.2 L368.2 1328.3 L368.8 1328.3 L369.4 1328.3 L370.0 1328.2 L370.6 1328.0 L371.2 1327.8 L371.8 1327.6 L372.4 1327.4 L373.0 1327.2 L373.6 1327.0 L374.2 1326.8 L374.8 1326.6 L375.4 1326.4 L376.1 1326.2 L376.7 1326.0 L377.3 1325.8 L377.9 1325.5 L378.5 1325.3 L379.1 1325.2 L379.7 1325.1 L380.3 1325.0 L380.9 1324.9 L381.5 1324.9 L382.1 1324.8 L382.7 1324.8 L383.3 1324.7 L383.9 1324.5 L384.5 1324.2 L385.1 1324.0 L385.7 1323.6 L386.3 1323.3 L386.9 1323.1 L387.5 1322.9 L388.1 1322.9 L388.7 1323.0 L389.4 1323.2 L390.0 1323.6 L390.6 1323.9 L391.2 1324.3 L391.8 1324.6 L392.4 1324.9 L393.0 1325.0 L393.6 1325.0 L394.2 1324.9 L394.8 1324.6 L395.4 1324.3 L396.0 1324.0 L396.6 1323.7 L397.2 1323.5 L397.8 1323.2 L398.4 1322.9 L399.0 1322.7 L399.6 1322.5 L400.2 1322.2 L400.8 1322.0 L401.4 1321.7 L402.0 1321.5 L402.7 1321.3 L403.3 1321.1 L403.9 1321.0 L404.5 1321.0 L405.1 1320.9 L405.7 1320.9 L406.3 1320.8 L406.9 1320.7 L407.5 1320.5 L408.1 1320.3 L408.7 1320.1 L409.3 1319.8 L409.9 1319.4 L410.5 1319.1 L411.1 1318.7 L411.7 1318.4 L412.3 1318.3 L412.9 1318.1 L413.5 1318.1 L414.1 1318.1 L414.7 1318.1 L415.3 1318.1 L416.0 1318.0 L416.6 1317.9 L417.2 1317.7 L417.8 1317.5 L418.4 1317.2 L419.0 1316.9 L419.6 1316.5 L420.2 1316.1 L420.8 1315.7 L421.4 1315.3 L422.0 1315.0 L422.6 1314.6 L423.2 1314.4 L423.8 1314.1 L424.4 1314.0 L425.0 1313.9 L425.6 1313.8 L426.2 1313.8 L426.8 1313.8 L427.4 1313.8 L428.0 1313.8 L428.6 1313.9 L429.3 1314.0 L429.9 1314.2 L430.5 1314.5 L431.1 1314.7 L431.7 1315.0 L432.3 1315.3 L432.9 1315.5 L433.5 1315.8 L434.1 1315.9 L434.7 1316.1 L435.3 1316.2 L435.9 1316.2 L436.5 1316.1 L437.1 1316.0 L437.7 1315.7 L438.3 1315.2 L438.9 1314.6 L439.5 1313.9 L440.1 1313.1 L440.7 1312.3 L441.3 1311.4 L441.9 1310.7 L442.6 1310.0 L443.2 1309.4 L443.8 1309.0 L444.4 1308.7 L445.0 1308.4 L445.6 1308.1 L446.2 1307.8 L446.8 1307.6 L447.4 1307.2 L448.0 1306.9 L448.6 1306.5 L449.2 1306.0 L449.8 1305.6 L450.4 1305.1 L451.0 1304.7 L451.6 1304.3 L452.2 1303.9 L452.8 1303.5 L453.4 1303.2 L454.0 1303.0 L454.6 1302.9 L455.2 1302.8 L455.9 1302.7 L456.5 1302.7 L457.1 1302.6 L457.7 1302.6 L458.3 1302.4 L458.9 1302.2 L459.5 1302.0 L460.1 1301.7 L460.7 1301.3 L461.3 1300.9 L461.9 1300.5 L462.5 1300.2 L463.1 1299.9 L463.7 1299.8 L464.3 1299.7 L464.9 1299.7 L465.5 1299.8 L466.1 1299.9 L466.7 1300.0 L467.3 1300.1 L467.9 1300.1 L468.5 1300.2 L469.2 1300.2 L469.8 1300.3 L470.4 1300.3 L471.0 1300.4 L471.6 1300.4 L472.2 1300.5 L472.8 1300.6 L473.4 1300.7 L474.0 1300.9 L474.6 1301.0 L475.2 1301.2 L475.8 1301.4 L476.4 1301.6 L477.0 1301.8 L477.6 1302.0 L478.2 1302.3 L478.8 1302.5 L479.4 1302.8 L480.0 1303.0 L480.6 1303.1 L481.2 1303.2 L481.8 1303.1 L482.5 1303.0 L483.1 1302.8 L483.7 1302.5 L484.3 1302.3 L484.9 1302.0 L485.5 1301.8 L486.1 1301.6 L486.7 1301.3 L487.3 1301.1 L487.9 1300.9 L488.5 1300.6 L489.1 1300.4 L489.7 1300.1 L490.3 1299.8 L490.9 1299.6 L491.5 1299.4 L492.1 1299.2 L492.7 1299.1 L493.3 1299.0 L493.9 1298.9 L494.5 1298.9 L495.1 1298.9 L495.8 1298.9 L496.4 1298.8 L497.0 1298.8 L497.6 1298.7 L498.2 1298.7 L498.8 1298.6 L499.4 1298.6 L500.0 1298.6 L500.6 1298.6 L501.2 1298.6 L501.8 1298.7 L502.4 1298.8 L503.0 1298.9 L503.6 1299.0 L504.2 1299.1 L504.8 1299.2 L505.4 1299.2 L506.0 1299.3 L506.6 1299.2 L507.2 1299.2 L507.8 1299.1 L508.4 1299.0 L509.1 1299.0 L509.7 1298.9 L510.3 1298.8 L510.9 1298.7 L511.5 1298.7 L512.1 1298.6 L512.7 1298.6 L513.3 1298.6 L513.9 1298.6 L514.5 1298.6 L515.1 1298.6 L515.7 1298.6 L516.3 1298.5 L516.9 1298.5 L517.5 1298.5 L518.1 1298.5 L518.7 1298.4 L519.3 1298.4 L519.9 1298.3 L520.5 1298.2 L521.1 1298.1 L521.7 1298.0 L522.4 1297.9 L523.0 1297.8 L523.6 1297.7 L524.2 1297.6 L524.8 1297.6 L525.4 1297.5 L526.0 1297.5 L526.6 1297.5 L527.2 1297.5 L527.8 1297.5 L528.4 1297.5 L529.0 1297.4 L529.6 1297.4 L530.2 1297.3 L530.8 1297.2 L531.4 1297.1 L532.0 1297.0 L532.6 1296.9 L533.2 1296.8 L533.8 1296.6 L534.4 1296.5 L535.0 1296.4 L535.7 1296.3 L536.3 1296.1 L536.9 1296.0 L537.5 1295.9 L538.1 1295.8 L538.7 1295.7 L539.3 1295.6 L539.9 1295.5 L540.5 1295.4 L541.1 1295.3 L541.7 1295.2 L542.3 1295.1 L542.9 1295.0 L543.5 1294.9 L544.1 1294.8 L544.7 1294.7 L545.3 1294.6 L545.9 1294.5 L546.5 1294.4 L547.1 1294.3 L547.7 1294.2 L548.3 1294.1 L549.0 1294.0 L549.6 1293.8 L550.2 1293.7 L550.8 1293.6 L551.4 1293.5 L552.0 1293.4 L552.6 1293.3 L553.2 1293.2 L553.8 1293.1 L554.4 1293.0 L555.0 1292.9 L555.6 1292.8 L556.2 1292.7 L556.8 1292.6 L557.4 1292.5 L558.0 1292.4 L558.6 1292.2 L559.2 1292.1 L559.8 1291.9 L560.4 1291.7 L561.0 1291.5" fill="none" stroke="#B9D9F5" stroke-width="2.4" stroke-linejoin="round" stroke-linecap="round"/>
<path d="M180.2 1215.6 L180.8 1214.4 L181.4 1213.1 L182.0 1211.9 L182.6 1210.7 L183.2 1209.5 L183.8 1208.4 L184.4 1207.2 L185.0 1206.2 L185.6 1205.4 L186.2 1204.5 L186.8 1203.8 L187.4 1203.1 L188.0 1202.5 L188.6 1202.0 L189.2 1201.5 L189.9 1201.1 L190.5 1200.7 L191.1 1200.4 L191.7 1200.0 L192.3 1199.7 L192.9 1199.4 L193.5 1199.0 L194.1 1198.6 L194.7 1198.2 L195.3 1197.7 L195.9 1197.2 L196.5 1196.7 L197.1 1196.2 L197.7 1195.7 L198.3 1195.1 L198.9 1194.5 L199.5 1193.9 L200.1 1193.2 L200.7 1192.6 L201.3 1191.9 L201.9 1191.1 L202.5 1190.4 L203.2 1189.6 L203.8 1188.8 L204.4 1187.9 L205.0 1187.1 L205.6 1186.2 L206.2 1185.3 L206.8 1184.5 L207.4 1183.7 L208.0 1182.9 L208.6 1182.1 L209.2 1181.4 L209.8 1180.7 L210.4 1180.1 L211.0 1179.5 L211.6 1178.8 L212.2 1178.1 L212.8 1177.4 L213.4 1176.7 L214.0 1176.0 L214.6 1175.2 L215.2 1174.4 L215.8 1173.7 L216.5 1172.8 L217.1 1172.0 L217.7 1171.1 L218.3 1170.2 L218.9 1169.2 L219.5 1168.2 L220.1 1167.3 L220.7 1166.3 L221.3 1165.4 L221.9 1164.6 L222.5 1163.8 L223.1 1163.1 L223.7 1162.3 L224.3 1161.5 L224.9 1160.7 L225.5 1159.7 L226.1 1158.5 L226.7 1157.3 L227.3 1155.9 L227.9 1154.4 L228.5 1153.0 L229.1 1151.6 L229.8 1150.3 L230.4 1149.1 L231.0 1148.1 L231.6 1147.2 L232.2 1146.5 L232.8 1145.9 L233.4 1145.3 L234.0 1144.8 L234.6 1144.2 L235.2 1143.5 L235.8 1142.7 L236.4 1141.8 L237.0 1140.8 L237.6 1139.6 L238.2 1138.3 L238.8 1137.1 L239.4 1135.9 L240.0 1134.8 L240.6 1133.9 L241.2 1133.2 L241.8 1132.7 L242.4 1132.3 L243.1 1132.0 L243.7 1131.6 L244.3 1131.2 L244.9 1130.5 L245.5 1129.6 L246.1 1128.4 L246.7 1127.0 L247.3 1125.5 L247.9 1123.9 L248.5 1122.3 L249.1 1120.9 L249.7 1119.8 L250.3 1118.9 L250.9 1118.4 L251.5 1118.1 L252.1 1118.0 L252.7 1118.0 L253.3 1118.1 L253.9 1118.2 L254.5 1118.4 L255.1 1118.5 L255.7 1118.6 L256.4 1118.7 L257.0 1118.7 L257.6 1118.5 L258.2 1118.0 L258.8 1117.3 L259.4 1116.1 L260.0 1114.6 L260.6 1112.8 L261.2 1110.7 L261.8 1108.6 L262.4 1106.6 L263.0 1104.8 L263.6 1103.4 L264.2 1102.5 L264.8 1102.0 L265.4 1101.8 L266.0 1101.9 L266.6 1102.0 L267.2 1102.1 L267.8 1101.9 L268.4 1101.5 L269.0 1100.9 L269.7 1100.1 L270.3 1099.1 L270.9 1098.1 L271.5 1097.1 L272.1 1096.0 L272.7 1095.0 L273.3 1093.9 L273.9 1092.8 L274.5 1091.8 L275.1 1090.9 L275.7 1090.2 L276.3 1089.7 L276.9 1089.5 L277.5 1089.6 L278.1 1089.7 L278.7 1090.1 L279.3 1090.6 L279.9 1091.3 L280.5 1092.2 L281.1 1093.2 L281.7 1093.6M322.9 1344.1 L323.5 1345.5 L324.1 1346.7 L324.7 1347.8 L325.3 1348.7 L325.9 1349.4 L326.5 1349.5 L327.1 1349.3 L327.7 1349.0 L328.3 1348.5 L328.9 1348.0 L329.5 1347.4 L330.1 1346.7 L330.7 1345.9 L331.3 1345.0 L331.9 1343.9 L332.5 1342.6 L333.1 1341.3 L333.7 1340.0 L334.3 1338.8 L334.9 1337.6 L335.5 1336.4 L336.2 1335.2 L336.8 1334.0 L337.4 1333.0 L338.0 1332.0 L338.6 1331.4 L339.2 1330.9 L339.8 1330.4 L340.4 1329.9 L341.0 1329.5 L341.6 1329.0 L342.2 1328.4 L342.8 1327.9 L343.4 1327.7 L344.0 1327.5 L344.6 1327.3 L345.2 1327.3 L345.8 1327.3 L346.4 1327.4 L347.0 1327.6 L347.6 1327.8 L348.2 1328.1 L348.8 1328.3 L349.5 1328.5 L350.1 1328.6 L350.7 1328.7 L351.3 1328.6 L351.9 1328.5 L352.5 1328.4 L353.1 1328.2 L353.7 1327.9 L354.3 1327.7 L354.9 1327.4 L355.5 1327.2 L356.1 1327.0 L356.7 1326.8 L357.3 1326.7 L357.9 1326.5 L358.5 1326.4 L359.1 1326.3 L359.7 1326.1 L360.3 1325.9 L360.9 1325.7 L361.5 1325.6 L362.1 1325.4 L362.8 1325.3 L363.4 1325.2 L364.0 1325.2 L364.6 1325.1 L365.2 1325.2 L365.8 1325.1 L366.4 1325.1 L367.0 1325.0 L367.6 1324.9 L368.2 1324.6 L368.8 1324.4 L369.4 1324.1 L370.0 1323.8 L370.6 1323.5 L371.2 1323.3 L371.8 1323.2 L372.4 1323.1 L373.0 1323.2 L373.6 1323.3 L374.2 1323.5 L374.8 1323.7 L375.4 1323.9 L376.1 1324.1 L376.7 1324.3 L377.3 1324.5 L377.9 1324.6 L378.5 1324.7 L379.1 1324.8 L379.7 1324.9 L380.3 1324.9 L380.9 1324.9 L381.5 1324.8 L382.1 1324.7 L382.7 1324.5 L383.3 1324.3 L383.9 1324.0 L384.5 1323.6 L385.1 1323.2 L385.7 1322.8 L386.3 1322.4 L386.9 1322.0 L387.5 1321.8 L388.1 1321.6 L388.7 1321.5 L389.4 1321.5 L390.0 1321.5 L390.6 1321.5 L391.2 1321.4 L391.8 1321.3 L392.4 1321.1 L393.0 1320.9 L393.6 1320.6 L394.2 1320.4 L394.8 1320.1 L395.4 1319.8 L396.0 1319.6 L396.6 1319.5 L397.2 1319.4 L397.8 1319.3 L398.4 1319.3 L399.0 1319.3 L399.6 1319.4 L400.2 1319.4 L400.8 1319.4 L401.4 1319.4 L402.0 1319.2 L402.7 1319.0 L403.3 1318.7 L403.9 1318.4 L404.5 1318.1 L405.1 1317.7 L405.7 1317.3 L406.3 1317.0 L406.9 1316.6 L407.5 1316.4 L408.1 1316.2 L408.7 1316.0 L409.3 1315.9 L409.9 1315.9 L410.5 1316.0 L411.1 1316.2 L411.7 1316.4 L412.3 1316.7 L412.9 1317.1 L413.5 1317.5 L414.1 1317.9 L414.7 1318.3 L415.3 1318.7 L416.0 1318.9 L416.6 1319.1 L417.2 1319.1 L417.8 1318.9 L418.4 1318.7 L419.0 1318.4 L419.6 1318.0 L420.2 1317.7 L420.8 1317.4 L421.4 1317.2 L422.0 1317.0 L422.6 1316.8 L423.2 1316.7 L423.8 1316.6 L424.4 1316.6 L425.0 1316.6 L425.6 1316.6 L426.2 1316.7 L426.8 1316.8 L427.4 1316.9 L428.0 1317.0 L428.6 1317.0 L429.3 1316.9 L429.9 1316.7 L430.5 1316.4 L431.1 1316.1 L431.7 1315.6 L432.3 1315.1 L432.9 1314.5 L433.5 1313.8 L434.1 1313.1 L434.7 1312.3 L435.3 1311.5 L435.9 1310.7 L436.5 1310.1 L437.1 1309.6 L437.7 1309.2 L438.3 1308.9 L438.9 1308.8 L439.5 1308.8 L440.1 1308.8 L440.7 1308.8 L441.3 1308.8 L441.9 1308.7 L442.6 1308.7 L443.2 1308.5 L443.8 1308.4 L444.4 1308.2 L445.0 1308.1 L445.6 1308.0 L446.2 1308.0 L446.8 1308.1 L447.4 1308.3 L448.0 1308.6 L448.6 1308.9 L449.2 1309.3 L449.8 1309.7 L450.4 1310.0 L451.0 1310.1 L451.6 1310.1 L452.2 1309.9 L452.8 1309.5 L453.4 1308.9 L454.0 1308.1 L454.6 1307.3 L455.2 1306.5 L455.9 1305.6 L456.5 1304.9 L457.1 1304.3 L457.7 1303.9 L458.3 1303.6 L458.9 1303.4 L459.5 1303.4 L460.1 1303.5 L460.7 1303.6 L461.3 1303.7 L461.9 1303.7 L462.5 1303.8 L463.1 1303.9 L463.7 1304.0 L464.3 1304.2 L464.9 1304.4 L465.5 1304.6 L466.1 1304.9 L466.7 1305.1 L467.3 1305.3 L467.9 1305.4 L468.5 1305.4 L469.2 1305.4 L469.8 1305.2 L470.4 1305.0 L471.0 1304.8 L471.6 1304.6 L472.2 1304.4 L472.8 1304.3 L473.4 1304.2 L474.0 1304.3 L474.6 1304.4 L475.2 1304.5 L475.8 1304.7 L476.4 1304.9 L477.0 1305.1 L477.6 1305.2 L478.2 1305.2 L478.8 1305.0 L479.4 1304.8 L480.0 1304.4 L480.6 1304.0 L481.2 1303.5 L481.8 1303.0 L482.5 1302.6 L483.1 1302.1 L483.7 1301.8 L484.3 1301.5 L484.9 1301.4 L485.5 1301.3 L486.1 1301.3 L486.7 1301.4 L487.3 1301.4 L487.9 1301.5 L488.5 1301.6 L489.1 1301.6 L489.7 1301.6 L490.3 1301.5 L490.9 1301.3 L491.5 1301.1 L492.1 1300.8 L492.7 1300.5 L493.3 1300.2 L493.9 1299.9 L494.5 1299.6 L495.1 1299.4 L495.8 1299.3 L496.4 1299.2 L497.0 1299.1 L497.6 1299.1 L498.2 1299.2 L498.8 1299.2 L499.4 1299.3 L500.0 1299.3 L500.6 1299.3 L501.2 1299.3 L501.8 1299.3 L502.4 1299.2 L503.0 1299.1 L503.6 1299.0 L504.2 1298.9 L504.8 1298.8 L505.4 1298.8 L506.0 1298.8 L506.6 1298.8 L507.2 1298.9 L507.8 1298.9 L508.4 1298.9 L509.1 1298.9 L509.7 1298.9 L510.3 1298.8 L510.9 1298.7 L511.5 1298.6 L512.1 1298.5 L512.7 1298.4 L513.3 1298.4 L513.9 1298.3 L514.5 1298.3 L515.1 1298.2 L515.7 1298.2 L516.3 1298.1 L516.9 1298.0 L517.5 1297.9 L518.1 1297.8 L518.7 1297.7 L519.3 1297.6 L519.9 1297.5 L520.5 1297.4 L521.1 1297.3 L521.7 1297.2 L522.4 1297.1 L523.0 1297.0 L523.6 1296.9 L524.2 1296.8 L524.8 1296.7 L525.4 1296.7 L526.0 1296.7 L526.6 1296.6 L527.2 1296.6 L527.8 1296.5 L528.4 1296.5 L529.0 1296.4 L529.6 1296.3 L530.2 1296.2 L530.8 1296.2 L531.4 1296.1 L532.0 1296.0 L532.6 1295.9 L533.2 1295.8 L533.8 1295.7 L534.4 1295.7 L535.0 1295.7 L535.7 1295.6 L536.3 1295.6 L536.9 1295.6 L537.5 1295.6 L538.1 1295.6 L538.7 1295.5 L539.3 1295.4 L539.9 1295.3 L540.5 1295.2 L541.1 1295.1 L541.7 1295.0 L542.3 1294.9 L542.9 1294.8 L543.5 1294.7 L544.1 1294.6 L544.7 1294.5 L545.3 1294.4 L545.9 1294.3 L546.5 1294.2 L547.1 1294.1 L547.7 1294.0 L548.3 1293.9 L549.0 1293.8 L549.6 1293.7 L550.2 1293.6 L550.8 1293.5 L551.4 1293.4 L552.0 1293.3 L552.6 1293.2 L553.2 1293.1 L553.8 1293.0 L554.4 1292.9 L555.0 1292.9 L555.6 1292.8 L556.2 1292.7 L556.8 1292.6 L557.4 1292.5 L558.0 1292.4 L558.6 1292.3 L559.2 1292.1 L559.8 1291.9 L560.4 1291.7 L561.0 1291.5" fill="none" stroke="#B9D9F5" stroke-width="2.4" stroke-linejoin="round" stroke-linecap="round"/>
<path d="M142.7 1272.0 L143.9 1271.2 L145.1 1270.1 L146.3 1268.8 L147.5 1267.5 L148.7 1266.1 L150.0 1264.7 L151.2 1263.2 L152.4 1261.7 L153.6 1260.2 L154.8 1258.8 L156.0 1257.3 L157.2 1255.9 L158.4 1254.3 L159.6 1252.8 L160.8 1251.1 L162.0 1249.4 L163.3 1247.7 L164.5 1245.8 L165.7 1243.9 L166.9 1241.9 L168.1 1239.9 L169.3 1237.7 L170.5 1235.5 L171.7 1233.1 L172.9 1230.7 L174.1 1228.2 L175.3 1225.6 L176.6 1223.0 L177.8 1220.5 L179.0 1218.0 L180.2 1215.6 L181.4 1213.3 L182.6 1211.1 L183.8 1209.0 L185.0 1207.1 L186.2 1205.4 L187.4 1203.9 L188.6 1202.7 L189.9 1201.6 L191.1 1200.7 L192.3 1199.8 L193.5 1198.9 L194.7 1197.9 L195.9 1196.8 L197.1 1195.7 L198.3 1194.5 L199.5 1193.1 L200.7 1191.7 L201.9 1190.2 L203.2 1188.8 L204.4 1187.2 L205.6 1185.6 L206.8 1184.0 L208.0 1182.4 L209.2 1180.7 L210.4 1178.9 L211.6 1177.2 L212.8 1175.5 L214.0 1173.7 L215.2 1172.0 L216.5 1170.2 L217.7 1168.5 L218.9 1166.8 L220.1 1165.2 L221.3 1163.5 L222.5 1161.8 L223.7 1160.2 L224.9 1158.5 L226.1 1156.9 L227.3 1155.2 L228.5 1153.6 L229.8 1151.9 L231.0 1150.2 L232.2 1148.6 L233.4 1146.9 L234.6 1145.2 L235.8 1143.5 L237.0 1141.9 L238.2 1140.2 L239.4 1138.5 L240.6 1136.8 L241.8 1135.1 L243.1 1133.4 L244.3 1131.7 L245.5 1130.0 L246.7 1128.3 L247.9 1126.6 L249.1 1124.9 L250.3 1123.1 L251.5 1121.4 L252.7 1119.7 L253.9 1118.0 L255.1 1116.2 L256.4 1114.5 L257.6 1112.8 L258.8 1111.0 L260.0 1109.3 L261.2 1107.5 L262.4 1105.8 L263.6 1104.0 L264.8 1102.2 L266.0 1100.5 L267.2 1098.7 L268.4 1096.9 L269.7 1095.1 L270.9 1093.3 L272.1 1091.5 L273.3 1089.7 L274.5 1087.8 L275.7 1086.2 L276.9 1085.0 L278.1 1084.4 L279.3 1084.4 L280.5 1085.3 L281.7 1087.0 L283.0 1089.7 L284.2 1093.7 L285.4 1098.8 L286.6 1105.0 L287.8 1112.0 L289.0 1119.5 L290.2 1127.3 L291.4 1135.2 L292.6 1143.4 L293.8 1151.7 L295.0 1160.1 L296.3 1168.6 L297.5 1177.2 L298.7 1185.8 L299.9 1194.6 L301.1 1203.5 L302.3 1212.4 L303.5 1221.4 L304.7 1230.4 L305.9 1239.5 L307.1 1248.5 L308.3 1257.5 L309.6 1266.5 L310.8 1275.4 L312.0 1284.3 L313.2 1293.2 L314.4 1301.8 L315.6 1309.8 L316.8 1317.1 L318.0 1323.7 L319.2 1329.5 L320.4 1334.3 L321.6 1338.3 L322.9 1341.5 L324.1 1343.9 L325.3 1345.4 L326.5 1346.3 L327.7 1346.5 L328.9 1346.2 L330.1 1345.3 L331.3 1344.0 L332.5 1342.3 L333.7 1340.4 L334.9 1338.5 L336.2 1336.7 L337.4 1334.9 L338.6 1333.5 L339.8 1332.2 L341.0 1331.2 L342.2 1330.2 L343.4 1329.7 L344.6 1329.5 L345.8 1329.3 L347.0 1329.2 L348.2 1329.1 L349.5 1329.0 L350.7 1329.0 L351.9 1329.0 L353.1 1328.9 L354.3 1328.8 L355.5 1328.8 L356.7 1328.7 L357.9 1328.6 L359.1 1328.5 L360.3 1328.4 L361.5 1328.4 L362.8 1328.3 L364.0 1328.2 L365.2 1328.1 L366.4 1328.0 L367.6 1327.9 L368.8 1327.8 L370.0 1327.7 L371.2 1327.6 L372.4 1327.5 L373.6 1327.4 L374.8 1327.3 L376.1 1327.2 L377.3 1327.0 L378.5 1326.8 L379.7 1326.7 L380.9 1326.4 L382.1 1326.1 L383.3 1325.8 L384.5 1325.4 L385.7 1325.1 L386.9 1324.8 L388.1 1324.4 L389.4 1324.1 L390.6 1323.7 L391.8 1323.4 L393.0 1323.0 L394.2 1322.6 L395.4 1322.2 L396.6 1321.8 L397.8 1321.4 L399.0 1321.1 L400.2 1320.7 L401.4 1320.3 L402.7 1319.9 L403.9 1319.6 L405.1 1319.3 L406.3 1319.0 L407.5 1318.7 L408.7 1318.5 L409.9 1318.2 L411.1 1317.9 L412.3 1317.6 L413.5 1317.2 L414.7 1316.9 L416.0 1316.5 L417.2 1316.1 L418.4 1315.8 L419.6 1315.4 L420.8 1315.1 L422.0 1314.7 L423.2 1314.4 L424.4 1314.1 L425.6 1313.7 L426.8 1313.4 L428.0 1313.1 L429.3 1312.7 L430.5 1312.4 L431.7 1312.0 L432.9 1311.7 L434.1 1311.4 L435.3 1311.0 L436.5 1310.7 L437.7 1310.3 L438.9 1310.0 L440.1 1309.6 L441.3 1309.3 L442.6 1308.9 L443.8 1308.6 L445.0 1308.3 L446.2 1308.0 L447.4 1307.7 L448.6 1307.4 L449.8 1307.1 L451.0 1306.9 L452.2 1306.6 L453.4 1306.4 L454.6 1306.2 L455.9 1306.0 L457.1 1305.8 L458.3 1305.5 L459.5 1305.3 L460.7 1305.1 L461.9 1304.9 L463.1 1304.7 L464.3 1304.5 L465.5 1304.4 L466.7 1304.2 L467.9 1304.0 L469.2 1303.9 L470.4 1303.7 L471.6 1303.5 L472.8 1303.4 L474.0 1303.2 L475.2 1303.1 L476.4 1302.9 L477.6 1302.8 L478.8 1302.6 L480.0 1302.5 L481.2 1302.3 L482.5 1302.1 L483.7 1302.0 L484.9 1301.8 L486.1 1301.6 L487.3 1301.5 L488.5 1301.3 L489.7 1301.1 L490.9 1301.0 L492.1 1300.9 L493.3 1300.8 L494.5 1300.7 L495.8 1300.5 L497.0 1300.4 L498.2 1300.3 L499.4 1300.2 L500.6 1300.1 L501.8 1300.0 L503.0 1299.9 L504.2 1299.8 L505.4 1299.6 L506.6 1299.5 L507.8 1299.4 L509.1 1299.3 L510.3 1299.2 L511.5 1299.0 L512.7 1298.8 L513.9 1298.7 L515.1 1298.5 L516.3 1298.3 L517.5 1298.2 L518.7 1298.0 L519.9 1297.8 L521.1 1297.7 L522.4 1297.5 L523.6 1297.4 L524.8 1297.2 L526.0 1297.0 L527.2 1296.9 L528.4 1296.7 L529.6 1296.5 L530.8 1296.3 L532.0 1296.2 L533.2 1296.0 L534.4 1295.8 L535.7 1295.7 L536.9 1295.5 L538.1 1295.4 L539.3 1295.2 L540.5 1295.0 L541.7 1294.9 L542.9 1294.7 L544.1 1294.5 L545.3 1294.4 L546.5 1294.2 L547.7 1294.0 L549.0 1293.8 L550.2 1293.6 L551.4 1293.4 L552.6 1293.3 L553.8 1293.1 L555.0 1292.9 L556.2 1292.7 L557.4 1292.5 L558.6 1292.3 L559.8 1291.9 L561.0 1291.5 L562.3 1290.9 L563.5 1290.2 L564.7 1289.4 L565.9 1288.6 L567.1 1287.8 L568.3 1287.0 L569.5 1286.2 L570.7 1285.5 L571.9 1284.7 L573.1 1284.0 L574.3 1283.2 L575.6 1282.5 L576.8 1281.9 L578.0 1281.2 L579.2 1280.5 L580.4 1279.9 L581.6 1279.2 L582.8 1278.6 L584.0 1278.0 L585.2 1277.4 L586.4 1276.8 L587.6 1276.3 L588.9 1275.7 L590.1 1275.2 L591.3 1274.6 L592.5 1274.1 L593.7 1273.6 L594.9 1273.2 L596.1 1272.9 L597.3 1272.6 L598.5 1272.5 L599.7 1272.4 L600.9 1272.3 L602.2 1272.2 L603.4 1272.1 L604.6 1272.0 L605.8 1272.0 L607.0 1272.0 L608.2 1272.1 L609.4 1272.2 L610.6 1272.3 L611.8 1272.4 L613.0 1272.5 L614.2 1272.6 L615.5 1272.6 L616.7 1272.7 L617.9 1272.7 L619.1 1272.8 L620.3 1272.8 L621.5 1272.8 L622.7 1272.8 L623.9 1272.8 L625.1 1272.8 L626.3 1272.8 L627.5 1272.8 L628.8 1272.8 L630.0 1272.8 L631.2 1272.8 L632.4 1272.7 L633.6 1272.7 L634.8 1272.7 L636.0 1272.7 L637.2 1272.7 L638.4 1272.7 L639.6 1272.7 L640.8 1272.7 L642.1 1272.7 L643.3 1272.7 L644.5 1272.7 L645.7 1272.7 L646.9 1272.7 L648.1 1272.7 L649.3 1272.7 L650.5 1272.7 L651.7 1272.7 L652.9 1272.7 L654.1 1272.7 L655.4 1272.7 L656.6 1272.7 L657.8 1272.7 L659.0 1272.7 L660.2 1272.7 L661.4 1272.7 L662.6 1272.7 L663.8 1272.7 L665.0 1272.7 L666.2 1272.7 L667.4 1272.7 L668.7 1272.7 L669.9 1272.7 L671.1 1272.7 L672.3 1272.7 L673.5 1272.7 L674.7 1272.7 L675.9 1272.7 L677.1 1272.7 L678.3 1272.7 L679.5 1272.7 L680.7 1272.7 L682.0 1272.7 L683.2 1272.7 L684.4 1272.7 L685.6 1272.7 L686.8 1272.7 L688.0 1272.7 L689.2 1272.7 L690.4 1272.7 L691.6 1272.7 L692.8 1272.7 L694.0 1272.7 L695.3 1272.7 L696.5 1272.7 L697.7 1272.7 L698.9 1272.7 L700.1 1272.7 L701.3 1272.7 L702.5 1272.7 L703.7 1272.7 L704.9 1272.7 L706.1 1272.7 L707.3 1272.7 L708.6 1272.7 L709.8 1272.7 L711.0 1272.7 L712.2 1272.7 L713.4 1272.7 L714.6 1272.7 L715.8 1272.7 L717.0 1272.7 L718.2 1272.7 L719.4 1272.7 L720.6 1272.7 L721.9 1272.7 L723.1 1272.7 L724.3 1272.7 L725.5 1272.7 L726.7 1272.7 L727.9 1272.7 L729.1 1272.7 L730.3 1272.7 L731.5 1272.7 L732.7 1272.7 L733.9 1272.7 L735.2 1272.7 L736.4 1272.7 L737.6 1272.7 L738.8 1272.7 L740.0 1272.7 L741.2 1272.7 L742.4 1272.7 L743.6 1272.7 L744.8 1272.7 L746.0 1272.7 L746.6 1272.7" fill="none" stroke="#F56F41" stroke-width="5.2" stroke-linejoin="round"/>
<path d="M282.3 1073.4 L281.7 1073.9 L281.1 1074.8 L280.5 1075.7 L279.9 1076.6 L279.3 1077.6 L278.7 1078.5 L278.1 1079.4 L277.5 1080.3 L276.9 1081.2 L276.3 1082.1 L275.7 1083.1 L275.1 1084.0 L274.5 1084.9 L273.9 1085.8 L273.3 1086.7 L272.7 1087.6 L272.1 1088.5 L271.5 1089.4 L270.9 1090.3 L270.3 1091.3 L269.7 1092.2 L269.0 1093.1 L268.4 1094.0 L267.8 1094.9 L267.2 1095.8 L266.6 1096.7 L266.0 1097.6 L265.4 1098.5 L264.8 1099.4 L264.2 1100.3 L263.6 1101.2 L263.0 1102.1 L262.4 1103.0 L261.8 1103.8 L261.2 1104.7 L260.6 1105.6 L260.0 1106.5 L259.4 1107.4 L258.8 1108.3 L258.2 1109.2 L257.6 1110.1 L257.0 1111.0 L256.4 1111.9 L255.7 1112.7 L255.1 1113.6 L254.5 1114.5 L253.9 1115.4 L253.3 1116.3 L252.7 1117.1 L252.1 1118.0 L251.5 1118.9 L250.9 1119.8 L250.3 1120.7 L249.7 1121.5 L249.1 1122.4 L248.5 1123.3 L247.9 1124.2 L247.3 1125.0 L246.7 1125.9 L246.1 1126.8 L245.5 1127.6 L244.9 1128.5 L244.3 1129.4 L243.7 1130.2 L243.1 1131.1 L242.4 1132.0 L241.8 1132.8 L241.2 1133.7 L240.6 1134.6 L240.0 1135.4 L239.4 1136.3 L238.8 1137.1 L238.2 1138.0 L237.6 1138.8 L237.0 1139.7 L236.4 1140.6 L235.8 1141.4 L235.2 1142.3 L234.6 1143.1 L234.0 1144.0 L233.4 1144.8 L232.8 1145.7 L232.2 1146.5 L231.6 1147.4 L231.0 1148.2 L230.4 1149.1 L229.8 1149.9 L229.1 1150.7 L228.5 1151.6 L227.9 1152.4 L227.3 1153.3 L226.7 1154.1 L226.1 1155.0 L225.5 1155.8 L224.9 1156.6 L224.3 1157.5 L223.7 1158.3 L223.1 1159.1 L222.5 1160.0 L221.9 1160.8 L221.3 1161.6 L220.7 1162.5 L220.1 1163.3 L219.5 1164.1 L218.9 1165.0 L218.3 1165.8 L217.7 1166.6 L217.1 1167.4 L216.5 1168.3 L215.8 1169.1 L215.2 1169.9 L214.6 1170.7 L214.0 1171.6 L213.4 1172.4 L212.8 1173.2 L212.2 1174.0 L211.6 1174.8 L211.0 1175.7 L210.4 1176.5 L209.8 1177.3 L209.2 1178.1 L208.6 1178.9 L208.0 1179.7 L207.4 1180.5 L206.8 1181.3 L206.2 1182.2 L205.6 1183.0 L205.0 1183.8 L204.4 1184.6 L203.8 1185.4 L203.2 1186.2 L202.5 1187.0 L201.9 1187.8 L201.3 1188.6 L200.7 1189.4 L200.1 1190.2 L199.5 1191.0 L198.9 1191.8 L198.3 1192.6 L197.7 1193.4 L197.1 1194.2 L196.5 1195.0 L195.9 1195.8 L195.3 1196.6 L194.7 1197.4 L194.1 1198.2 L193.5 1198.9 L192.9 1199.7 L192.3 1200.5 L191.7 1201.3 L191.1 1202.1 L190.5 1202.9 L189.9 1203.7 L189.2 1204.4 L188.6 1205.2 L188.0 1206.0 L187.4 1206.8 L186.8 1207.6 L186.2 1208.4 L185.6 1209.1 L185.0 1209.9 L184.4 1210.7 L183.8 1211.5 L183.2 1212.2 L182.6 1213.0 L182.0 1213.8 L181.4 1214.6 L180.8 1215.3 L180.2 1216.1 L179.6 1216.9 L179.0 1217.6 L178.4 1218.6 L177.8 1220.0 L177.2 1221.4 L176.6 1222.8 L175.9 1224.2 L175.3 1225.6 L174.7 1226.9 L174.1 1228.2 L173.5 1229.4 L172.9 1230.7 L172.3 1231.9 L171.7 1233.1 L171.1 1234.3 L170.5 1235.4 L169.9 1236.5 L169.3 1237.6 L168.7 1238.7 L168.1 1239.8 L167.5 1240.8 L166.9 1241.8 L166.3 1242.8 L165.7 1243.8 L165.1 1244.8 L164.5 1245.7 L163.9 1246.6 L163.3 1247.5 L162.6 1248.4 L162.0 1249.3 L161.4 1250.1 L160.8 1251.0 L160.2 1251.8 L159.6 1252.6 L159.0 1253.4 L158.4 1254.2 L157.8 1254.9 L157.2 1255.7 L156.6 1256.4 L156.0 1257.1 L155.4 1257.9 L154.8 1258.6 L154.2 1259.2 L153.6 1259.9 L153.0 1260.6 L152.4 1261.3 L151.8 1261.9 L151.2 1262.6 L150.6 1263.2 L150.0 1263.9 L149.3 1264.5 L148.7 1265.1 L148.1 1265.7 L147.5 1266.3 L146.9 1267.0 L146.3 1267.6 L145.7 1268.2 L145.1 1268.8 L144.5 1269.4 L143.9 1270.0 L143.3 1270.6 L142.7 1271.2" fill="none" stroke="#474747" stroke-width="5.6" stroke-dasharray="0.01 7.05" stroke-linecap="round" stroke-linejoin="round"/>
<path d="M282.3 1073.4 L283.0 1076.8 L283.6 1080.2 L284.2 1083.7 L284.8 1087.3 L285.4 1090.9 L286.0 1094.5 L286.6 1098.2 L287.2 1101.9 L287.8 1105.7 L288.4 1109.5 L289.0 1113.4 L289.6 1117.3 L290.2 1121.2 L290.8 1125.2 L291.4 1129.2 L292.0 1133.2 L292.6 1137.3 L293.2 1141.4 L293.8 1145.5 L294.4 1149.7 L295.0 1153.9 L295.6 1158.1 L296.3 1162.4 L296.9 1166.7 L297.5 1171.0 L298.1 1175.3 L298.7 1179.6 L299.3 1184.0 L299.9 1188.4 L300.5 1192.8 L301.1 1197.2 L301.7 1201.7 L302.3 1206.2 L302.9 1210.7 L303.5 1215.2 L304.1 1219.7 L304.7 1224.2 L305.3 1228.7 L305.9 1233.2 L306.5 1237.7 L307.1 1242.3 L307.7 1246.8 L308.3 1251.3 L308.9 1255.8 L309.6 1260.2 L310.2 1264.7 L310.8 1269.2 L311.4 1273.6 L312.0 1278.1 L312.6 1282.5 L313.2 1286.9 L313.8 1291.4 L314.4 1295.7 L315.0 1300.1 L315.6 1304.5 L316.2 1308.8 L316.8 1313.1 L317.4 1317.4 L318.0 1321.6 L318.6 1325.9 L319.2 1330.1 L319.8 1334.3 L320.4 1334.6 L321.0 1334.7 L321.6 1334.7 L322.2 1334.7 L322.9 1334.7 L323.5 1334.7 L324.1 1334.7 L324.7 1334.7 L325.3 1334.7 L325.9 1334.7 L326.5 1334.7 L327.1 1334.7 L327.7 1334.7 L328.3 1334.7 L328.9 1334.7 L329.5 1334.7 L330.1 1334.7 L330.7 1334.7 L331.3 1334.7 L331.9 1334.7 L332.5 1334.6 L333.1 1334.6 L333.7 1334.6 L334.3 1334.6 L334.9 1334.5 L335.5 1334.5 L336.2 1334.5 L336.8 1334.4 L337.4 1334.4 L338.0 1334.4 L338.6 1334.3 L339.2 1334.3 L339.8 1334.3 L340.4 1334.2 L341.0 1334.2 L341.6 1334.1 L342.2 1334.1 L342.8 1334.0 L343.4 1334.0 L344.0 1333.9 L344.6 1333.9 L345.2 1333.8 L345.8 1333.8 L346.4 1333.7 L347.0 1333.6 L347.6 1333.6 L348.2 1333.6 L348.8 1333.6 L349.5 1333.6 L350.1 1333.6 L350.7 1333.5 L351.3 1333.5 L351.9 1333.5 L352.5 1333.5 L353.1 1333.5 L353.7 1333.5 L354.3 1333.4 L354.9 1333.4 L355.5 1333.4 L356.1 1333.4 L356.7 1333.3 L357.3 1333.3 L357.9 1333.3 L358.5 1333.2 L359.1 1333.2 L359.7 1333.2 L360.3 1333.1 L360.9 1333.1 L361.5 1333.1 L362.1 1333.0 L362.8 1333.0 L363.4 1332.9 L364.0 1332.9 L364.6 1332.9 L365.2 1332.8 L365.8 1332.8 L366.4 1332.8 L367.0 1332.7 L367.6 1332.7 L368.2 1332.7 L368.8 1332.6 L369.4 1332.6 L370.0 1332.5 L370.6 1332.5 L371.2 1332.5 L371.8 1332.4 L372.4 1332.4 L373.0 1332.3 L373.6 1332.3 L374.2 1332.2 L374.8 1332.2 L375.4 1332.1 L376.1 1332.1 L376.7 1332.0 L377.3 1331.9 L377.9 1331.8 L378.5 1331.8 L379.1 1331.7 L379.7 1331.6 L380.3 1331.5 L380.9 1331.4 L381.5 1331.2 L382.1 1331.1 L382.7 1330.9 L383.3 1330.7 L383.9 1330.6 L384.5 1330.4 L385.1 1330.2 L385.7 1330.0 L386.3 1329.9 L386.9 1329.7 L387.5 1329.5 L388.1 1329.3 L388.7 1329.1 L389.4 1328.9 L390.0 1328.7 L390.6 1328.5 L391.2 1328.3 L391.8 1328.1 L392.4 1327.9 L393.0 1327.6 L393.6 1327.4 L394.2 1327.2 L394.8 1327.0 L395.4 1326.8 L396.0 1326.6 L396.6 1326.4 L397.2 1326.2 L397.8 1326.0 L398.4 1325.7 L399.0 1325.5 L399.6 1325.3 L400.2 1325.1 L400.8 1324.9 L401.4 1324.7 L402.0 1324.5 L402.7 1324.3 L403.3 1324.1 L403.9 1323.9 L404.5 1323.6 L405.1 1323.4 L405.7 1323.2 L406.3 1323.0 L406.9 1322.8 L407.5 1322.5 L408.1 1322.3 L408.7 1322.1 L409.3 1321.9 L409.9 1321.6 L410.5 1321.4 L411.1 1321.2 L411.7 1321.0 L412.3 1320.8 L412.9 1320.5 L413.5 1320.3 L414.1 1320.1 L414.7 1319.9 L415.3 1319.7 L416.0 1319.5 L416.6 1319.3 L417.2 1319.1 L417.8 1318.8 L418.4 1318.6 L419.0 1318.4 L419.6 1318.2 L420.2 1318.0 L420.8 1317.8 L421.4 1317.6 L422.0 1317.4 L422.6 1317.2 L423.2 1317.0 L423.8 1316.8 L424.4 1316.7 L425.0 1316.5 L425.6 1316.3 L426.2 1316.1 L426.8 1315.9 L427.4 1315.7 L428.0 1315.5 L428.6 1315.3 L429.3 1315.1 L429.9 1314.9 L430.5 1314.7 L431.1 1314.5 L431.7 1314.3 L432.3 1314.1 L432.9 1314.0 L433.5 1313.8 L434.1 1313.6 L434.7 1313.4 L435.3 1313.2 L435.9 1313.0 L436.5 1312.8 L437.1 1312.6 L437.7 1312.4 L438.3 1312.2 L438.9 1312.0 L439.5 1311.8 L440.1 1311.6 L440.7 1311.4 L441.3 1311.2 L441.9 1311.0 L442.6 1310.8 L443.2 1310.6 L443.8 1310.4 L444.4 1310.2 L445.0 1310.0 L445.6 1309.8 L446.2 1309.7 L446.8 1309.5 L447.4 1309.3 L448.0 1309.2 L448.6 1309.0 L449.2 1308.9 L449.8 1308.7 L450.4 1308.6 L451.0 1308.5 L451.6 1308.3 L452.2 1308.2 L452.8 1308.1 L453.4 1307.9 L454.0 1307.8 L454.6 1307.7 L455.2 1307.5 L455.9 1307.4 L456.5 1307.3 L457.1 1307.1 L457.7 1307.0 L458.3 1306.9 L458.9 1306.8 L459.5 1306.6 L460.1 1306.5 L460.7 1306.4 L461.3 1306.3 L461.9 1306.1 L462.5 1306.0 L463.1 1305.9 L463.7 1305.8 L464.3 1305.7 L464.9 1305.6 L465.5 1305.4 L466.1 1305.3 L466.7 1305.2 L467.3 1305.1 L467.9 1305.0 L468.5 1304.9 L469.2 1304.8 L469.8 1304.7 L470.4 1304.6 L471.0 1304.5 L471.6 1304.4 L472.2 1304.3 L472.8 1304.2 L473.4 1304.1 L474.0 1304.0 L474.6 1303.9 L475.2 1303.9 L475.8 1303.8 L476.4 1303.7 L477.0 1303.6 L477.6 1303.5 L478.2 1303.4 L478.8 1303.3 L479.4 1303.2 L480.0 1303.1 L480.6 1303.0 L481.2 1302.9 L481.8 1302.9 L482.5 1302.8 L483.1 1302.7 L483.7 1302.6 L484.3 1302.5 L484.9 1302.4 L485.5 1302.3 L486.1 1302.2 L486.7 1302.1 L487.3 1302.1 L487.9 1302.0 L488.5 1301.9 L489.1 1301.8 L489.7 1301.7 L490.3 1301.6 L490.9 1301.6 L491.5 1301.5 L492.1 1301.5 L492.7 1301.4 L493.3 1301.3 L493.9 1301.3 L494.5 1301.2 L495.1 1301.1 L495.8 1301.1 L496.4 1301.0 L497.0 1301.0 L497.6 1300.9 L498.2 1300.8 L498.8 1300.8 L499.4 1300.7 L500.0 1300.7 L500.6 1300.6 L501.2 1300.5 L501.8 1300.5 L502.4 1300.4 L503.0 1300.4 L503.6 1300.3 L504.2 1300.2 L504.8 1300.2 L505.4 1300.1 L506.0 1300.0 L506.6 1300.0 L507.2 1299.9 L507.8 1299.9 L508.4 1299.8 L509.1 1299.7 L509.7 1299.7 L510.3 1299.6 L510.9 1299.5 L511.5 1299.5 L512.1 1299.4 L512.7 1299.3 L513.3 1299.3 L513.9 1299.2 L514.5 1299.1 L515.1 1299.1 L515.7 1299.0 L516.3 1298.9 L516.9 1298.9 L517.5 1298.8 L518.1 1298.7 L518.7 1298.6 L519.3 1298.6 L519.9 1298.5 L520.5 1298.4 L521.1 1298.4 L521.7 1298.3 L522.4 1298.2 L523.0 1298.2 L523.6 1298.1 L524.2 1298.0 L524.8 1298.0 L525.4 1297.9 L526.0 1297.8 L526.6 1297.7 L527.2 1297.7 L527.8 1297.6 L528.4 1297.5 L529.0 1297.4 L529.6 1297.4 L530.2 1297.3 L530.8 1297.2 L531.4 1297.1 L532.0 1297.1 L532.6 1297.0 L533.2 1296.9 L533.8 1296.8 L534.4 1296.7 L535.0 1296.7 L535.7 1296.6 L536.3 1296.5 L536.9 1296.4 L537.5 1296.3 L538.1 1296.2 L538.7 1296.1 L539.3 1296.1 L539.9 1296.0 L540.5 1295.9 L541.1 1295.8 L541.7 1295.7 L542.3 1295.6 L542.9 1295.5 L543.5 1295.4 L544.1 1295.3 L544.7 1295.2 L545.3 1295.1 L545.9 1295.0 L546.5 1295.0 L547.1 1294.9 L547.7 1294.8 L548.3 1294.7 L549.0 1294.6 L549.6 1294.5 L550.2 1294.4 L550.8 1294.3 L551.4 1294.2 L552.0 1294.1 L552.6 1294.0 L553.2 1293.9 L553.8 1293.8 L554.4 1293.7 L555.0 1293.6 L555.6 1293.5 L556.2 1293.3 L556.8 1293.2 L557.4 1293.1 L558.0 1293.0 L558.6 1292.9 L559.2 1292.8 L559.8 1292.7 L560.4 1292.6 L561.0 1292.5 L561.6 1292.0 L562.3 1291.5 L562.9 1291.0 L563.5 1290.6 L564.1 1290.1 L564.7 1289.7 L565.3 1289.2 L565.9 1288.8 L566.5 1288.3 L567.1 1287.9 L567.7 1287.5 L568.3 1287.1 L568.9 1286.7 L569.5 1286.3 L570.1 1285.9 L570.7 1285.5 L571.3 1285.1 L571.9 1284.7 L572.5 1284.3 L573.1 1284.0 L573.7 1283.6 L574.3 1283.2 L574.9 1282.9 L575.6 1282.5 L576.2 1282.2 L576.8 1281.9 L577.4 1281.5 L578.0 1281.2 L578.6 1280.8 L579.2 1280.5 L579.8 1280.2 L580.4 1279.9 L581.0 1279.6 L581.6 1279.2 L582.2 1278.9 L582.8 1278.6 L583.4 1278.3 L584.0 1278.0 L584.6 1277.7 L585.2 1277.4 L585.8 1277.1 L586.4 1276.8 L587.0 1276.6 L587.6 1276.3 L588.2 1276.0 L588.9 1275.7 L589.5 1275.4 L590.1 1275.1 L590.7 1274.9 L591.3 1274.6 L591.9 1274.3 L592.5 1274.0 L593.1 1273.8 L593.7 1273.5 L594.3 1273.2 L594.9 1273.0 L595.5 1272.7 L596.1 1272.4 L596.7 1272.4 L597.3 1272.4 L597.9 1272.4 L598.5 1272.4 L599.1 1272.4 L599.7 1272.4 L600.3 1272.4 L600.9 1272.4 L601.5 1272.5 L602.2 1272.5 L602.8 1272.5 L603.4 1272.5 L604.0 1272.5 L604.6 1272.5 L605.2 1272.5 L605.8 1272.5 L606.4 1272.5 L607.0 1272.5 L607.6 1272.5 L608.2 1272.5 L608.8 1272.5 L609.4 1272.5 L610.0 1272.5 L610.6 1272.5 L611.2 1272.5 L611.8 1272.5 L612.4 1272.5 L613.0 1272.5 L613.6 1272.5 L614.2 1272.5 L614.8 1272.5 L615.5 1272.5 L616.1 1272.5 L616.7 1272.5 L617.3 1272.5 L617.9 1272.5 L618.5 1272.5 L619.1 1272.5 L619.7 1272.5 L620.3 1272.5 L620.9 1272.5 L621.5 1272.5 L622.1 1272.5 L622.7 1272.5 L623.3 1272.6 L623.9 1272.6 L624.5 1272.6 L625.1 1272.6 L625.7 1272.6 L626.3 1272.6 L626.9 1272.6 L627.5 1272.6 L628.1 1272.6 L628.8 1272.6 L629.4 1272.6 L630.0 1272.6 L630.6 1272.6 L631.2 1272.6 L631.8 1272.6 L632.4 1272.6 L633.0 1272.6 L633.6 1272.6 L634.2 1272.6 L634.8 1272.6 L635.4 1272.6 L636.0 1272.6 L636.6 1272.6 L637.2 1272.6 L637.8 1272.6 L638.4 1272.6 L639.0 1272.6 L639.6 1272.6 L640.2 1272.6 L640.8 1272.6 L641.4 1272.6 L642.1 1272.6 L642.7 1272.6 L643.3 1272.6 L643.9 1272.6 L644.5 1272.7 L645.1 1272.7 L645.7 1272.7 L646.3 1272.7 L646.9 1272.7 L647.5 1272.7 L648.1 1272.7 L648.7 1272.7 L649.3 1272.7 L649.9 1272.7 L650.5 1272.7 L651.1 1272.7 L651.7 1272.7 L652.3 1272.7 L652.9 1272.7 L653.5 1272.7 L654.1 1272.7 L654.7 1272.7 L655.4 1272.7 L656.0 1272.7 L656.6 1272.7 L657.2 1272.7 L657.8 1272.7 L658.4 1272.7 L659.0 1272.7 L659.6 1272.7 L660.2 1272.7 L660.8 1272.7 L661.4 1272.7 L662.0 1272.7 L662.6 1272.7 L663.2 1272.7 L663.8 1272.7 L664.4 1272.7 L665.0 1272.7 L665.6 1272.7 L666.2 1272.7 L666.8 1272.7 L667.4 1272.7 L668.0 1272.7 L668.7 1272.7 L669.3 1272.7 L669.9 1272.7 L670.5 1272.7 L671.1 1272.7 L671.7 1272.7 L672.3 1272.7 L672.9 1272.7 L673.5 1272.7 L674.1 1272.7 L674.7 1272.7 L675.3 1272.7 L675.9 1272.7 L676.5 1272.7 L677.1 1272.7 L677.7 1272.7 L678.3 1272.7 L678.9 1272.7 L679.5 1272.7 L680.1 1272.7 L680.7 1272.7 L681.3 1272.7 L682.0 1272.7 L682.6 1272.7 L683.2 1272.7 L683.8 1272.7 L684.4 1272.7 L685.0 1272.7 L685.6 1272.7 L686.2 1272.7 L686.8 1272.7 L687.4 1272.7 L688.0 1272.7 L688.6 1272.7 L689.2 1272.7 L689.8 1272.7 L690.4 1272.7 L691.0 1272.7 L691.6 1272.7 L692.2 1272.7 L692.8 1272.7 L693.4 1272.7 L694.0 1272.7 L694.6 1272.7 L695.3 1272.7 L695.9 1272.7 L696.5 1272.7 L697.1 1272.7 L697.7 1272.7 L698.3 1272.7 L698.9 1272.7 L699.5 1272.7 L700.1 1272.7 L700.7 1272.7 L701.3 1272.7 L701.9 1272.7 L702.5 1272.7 L703.1 1272.7 L703.7 1272.7 L704.3 1272.7 L704.9 1272.7 L705.5 1272.7 L706.1 1272.7 L706.7 1272.7 L707.3 1272.7 L707.9 1272.7 L708.6 1272.7 L709.2 1272.7 L709.8 1272.7 L710.4 1272.7 L711.0 1272.7 L711.6 1272.7 L712.2 1272.7 L712.8 1272.7 L713.4 1272.7 L714.0 1272.7 L714.6 1272.7 L715.2 1272.7 L715.8 1272.7 L716.4 1272.7 L717.0 1272.7 L717.6 1272.7 L718.2 1272.7 L718.8 1272.7 L719.4 1272.7 L720.0 1272.7 L720.6 1272.7 L721.2 1272.7 L721.9 1272.7 L722.5 1272.7 L723.1 1272.7 L723.7 1272.7 L724.3 1272.7 L724.9 1272.7 L725.5 1272.7 L726.1 1272.7 L726.7 1272.7 L727.3 1272.7 L727.9 1272.7 L728.5 1272.7 L729.1 1272.7 L729.7 1272.7 L730.3 1272.7 L730.9 1272.7 L731.5 1272.7 L732.1 1272.7 L732.7 1272.7 L733.3 1272.7 L733.9 1272.7 L734.5 1272.7 L735.2 1272.7 L735.8 1272.7 L736.4 1272.7 L737.0 1272.7 L737.6 1272.7 L738.2 1272.7 L738.8 1272.7 L739.4 1272.7 L740.0 1272.7 L740.6 1272.7 L741.2 1272.7 L741.8 1272.7 L742.4 1272.7 L743.0 1272.7 L743.6 1272.7 L744.2 1272.7 L744.8 1272.7 L745.4 1272.7 L746.0 1272.7 L746.6 1272.7" fill="none" stroke="#474747" stroke-width="5.4" stroke-dasharray="4.60 2.90 4.60 2.90 4.60 2.90 4.60 2.90 4.60 2.90 4.60 2.90 4.60 2.90 4.60 2.90 4.60 2.90 4.60 2.90 4.60 2.90 4.60 2.90 4.60 2.90 4.60 2.90 4.60 2.90 4.60 2.90 4.60 2.90 4.60 2.90 4.60 2.90 4.60 2.90 4.60 2.90 4.60 2.90 4.60 2.90 4.60 2.90 4.60 2.90 4.60 2.90 4.60 2.90 4.60 2.90 4.60 2.90 4.60 2.90 4.60 2.90 4.60 2.90 4.60 2.90 4.60 2.90 4.60 2.90 5.20 2.20 5.20 2.20 5.20 2.20 5.20 2.20 5.20 2.20 5.20 2.20 5.20 2.20 5.20 2.20 5.20 2.20 5.20 2.20 5.20 2.20 5.20 2.20 5.20 2.20 5.20 2.20 5.20 2.20 5.20 2.20 5.20 2.20 5.20 2.20 5.20 2.20 5.20 2.20 5.20 2.20 5.20 2.20 5.20 2.20 5.20 2.20 5.20 2.20 5.20 2.20 5.20 2.20 5.20 2.20 5.20 2.20 5.20 2.20 5.20 2.20 5.20 2.20 5.20 2.20 5.20 2.20 5.20 2.20 5.20 2.20 5.20 2.20 5.20 2.20 5.20 2.20 5.20 2.20 4.40 4.00 4.40 4.00 4.40 4.00 4.40 4.00 4.40 4.00 4.40 4.00 4.40 4.00 4.40 4.00 4.40 4.00 4.40 4.00 4.40 4.00 4.40 4.00 4.40 4.00 4.40 4.00 4.40 4.00 4.40 4.00 4.40 4.00" stroke-dashoffset="-6" stroke-linejoin="round"/>
</g>
<g font-family="'Liberation Sans', sans-serif" font-size="32.5" font-weight="bold" fill="#111">
<text x="55.0" y="20.8">a</text><text x="55.3" y="508.2">b</text><text x="55.2" y="995.4">c</text>
</g>
</svg>
</body></html>
